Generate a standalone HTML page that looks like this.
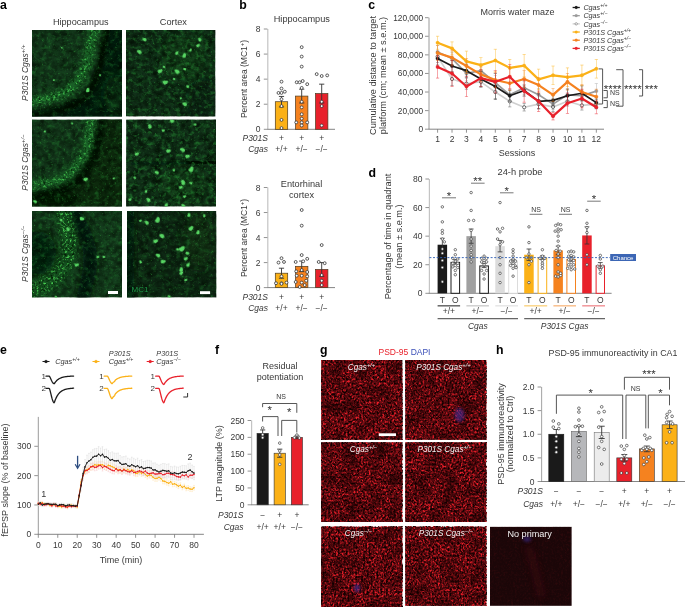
<!DOCTYPE html>
<html><head><meta charset="utf-8"><title>Figure</title>
<style>
html,body{margin:0;padding:0;background:#fff;}
svg{display:block;font-family:"Liberation Sans", sans-serif;}
</style></head><body>
<svg width="685" height="607" viewBox="0 0 685 607">
<rect width="685" height="607" fill="#fff"/>
<defs>
<filter id="gn0" x="0" y="0" width="100%" height="100%" color-interpolation-filters="sRGB">
<feTurbulence type="fractalNoise" baseFrequency="0.13" numOctaves="2" seed="3" result="m"/>
<feTurbulence type="fractalNoise" baseFrequency="0.45" numOctaves="2" seed="4" result="t"/>
<feColorMatrix in="m" type="matrix" values="0 0 0 0 0  0 0 0 0 0.04  0 0 0 0 0  0 2.6 0 0 -1.05" result="md"/>
<feColorMatrix in="m" type="matrix" values="0 0 0 0 0.12  0 0 0 0 0.46  0 0 0 0 0.18  1.7 0 0 0 -0.9" result="mb"/>
<feColorMatrix in="t" type="matrix" values="0 0 0 0 0.25  0 0 0 0 0.82  0 0 0 0 0.3  3.0 0 0 0 -2.0" result="br"/>
<feMerge><feMergeNode in="md"/><feMergeNode in="mb"/><feMergeNode in="br"/></feMerge>
</filter>
<filter id="gn1" x="0" y="0" width="100%" height="100%" color-interpolation-filters="sRGB">
<feTurbulence type="fractalNoise" baseFrequency="0.13" numOctaves="2" seed="11" result="m"/>
<feTurbulence type="fractalNoise" baseFrequency="0.45" numOctaves="2" seed="12" result="t"/>
<feColorMatrix in="m" type="matrix" values="0 0 0 0 0  0 0 0 0 0.04  0 0 0 0 0  0 2.6 0 0 -1.05" result="md"/>
<feColorMatrix in="m" type="matrix" values="0 0 0 0 0.12  0 0 0 0 0.46  0 0 0 0 0.18  1.7 0 0 0 -0.9" result="mb"/>
<feColorMatrix in="t" type="matrix" values="0 0 0 0 0.25  0 0 0 0 0.82  0 0 0 0 0.3  3.0 0 0 0 -2.0" result="br"/>
<feMerge><feMergeNode in="md"/><feMergeNode in="mb"/><feMergeNode in="br"/></feMerge>
</filter>
<filter id="gn2" x="0" y="0" width="100%" height="100%" color-interpolation-filters="sRGB">
<feTurbulence type="fractalNoise" baseFrequency="0.13" numOctaves="2" seed="23" result="m"/>
<feTurbulence type="fractalNoise" baseFrequency="0.45" numOctaves="2" seed="24" result="t"/>
<feColorMatrix in="m" type="matrix" values="0 0 0 0 0  0 0 0 0 0.04  0 0 0 0 0  0 2.6 0 0 -1.05" result="md"/>
<feColorMatrix in="m" type="matrix" values="0 0 0 0 0.12  0 0 0 0 0.46  0 0 0 0 0.18  1.7 0 0 0 -0.9" result="mb"/>
<feColorMatrix in="t" type="matrix" values="0 0 0 0 0.25  0 0 0 0 0.82  0 0 0 0 0.3  3.0 0 0 0 -2.0" result="br"/>
<feMerge><feMergeNode in="md"/><feMergeNode in="mb"/><feMergeNode in="br"/></feMerge>
</filter>
<filter id="gn3" x="0" y="0" width="100%" height="100%" color-interpolation-filters="sRGB">
<feTurbulence type="fractalNoise" baseFrequency="0.13" numOctaves="2" seed="31" result="m"/>
<feTurbulence type="fractalNoise" baseFrequency="0.45" numOctaves="2" seed="32" result="t"/>
<feColorMatrix in="m" type="matrix" values="0 0 0 0 0  0 0 0 0 0.04  0 0 0 0 0  0 2.6 0 0 -1.05" result="md"/>
<feColorMatrix in="m" type="matrix" values="0 0 0 0 0.12  0 0 0 0 0.46  0 0 0 0 0.18  1.7 0 0 0 -0.9" result="mb"/>
<feColorMatrix in="t" type="matrix" values="0 0 0 0 0.25  0 0 0 0 0.82  0 0 0 0 0.3  3.0 0 0 0 -2.0" result="br"/>
<feMerge><feMergeNode in="md"/><feMergeNode in="mb"/><feMergeNode in="br"/></feMerge>
</filter>
<filter id="gn4" x="0" y="0" width="100%" height="100%" color-interpolation-filters="sRGB">
<feTurbulence type="fractalNoise" baseFrequency="0.13" numOctaves="2" seed="47" result="m"/>
<feTurbulence type="fractalNoise" baseFrequency="0.45" numOctaves="2" seed="48" result="t"/>
<feColorMatrix in="m" type="matrix" values="0 0 0 0 0  0 0 0 0 0.04  0 0 0 0 0  0 2.6 0 0 -1.05" result="md"/>
<feColorMatrix in="m" type="matrix" values="0 0 0 0 0.12  0 0 0 0 0.46  0 0 0 0 0.18  1.7 0 0 0 -0.9" result="mb"/>
<feColorMatrix in="t" type="matrix" values="0 0 0 0 0.25  0 0 0 0 0.82  0 0 0 0 0.3  3.0 0 0 0 -2.0" result="br"/>
<feMerge><feMergeNode in="md"/><feMergeNode in="mb"/><feMergeNode in="br"/></feMerge>
</filter>
<filter id="gn5" x="0" y="0" width="100%" height="100%" color-interpolation-filters="sRGB">
<feTurbulence type="fractalNoise" baseFrequency="0.13" numOctaves="2" seed="59" result="m"/>
<feTurbulence type="fractalNoise" baseFrequency="0.45" numOctaves="2" seed="60" result="t"/>
<feColorMatrix in="m" type="matrix" values="0 0 0 0 0  0 0 0 0 0.04  0 0 0 0 0  0 2.6 0 0 -1.05" result="md"/>
<feColorMatrix in="m" type="matrix" values="0 0 0 0 0.12  0 0 0 0 0.46  0 0 0 0 0.18  1.7 0 0 0 -0.9" result="mb"/>
<feColorMatrix in="t" type="matrix" values="0 0 0 0 0.25  0 0 0 0 0.82  0 0 0 0 0.3  3.0 0 0 0 -2.0" result="br"/>
<feMerge><feMergeNode in="md"/><feMergeNode in="mb"/><feMergeNode in="br"/></feMerge>
</filter>
<filter id="bg0" filterUnits="userSpaceOnUse" x="-20" y="-20" width="130" height="130" color-interpolation-filters="sRGB">
<feGaussianBlur in="SourceGraphic" stdDeviation="2.6" result="b"/>
<feTurbulence type="fractalNoise" baseFrequency="0.42" numOctaves="2" seed="71" result="t"/>
<feColorMatrix in="t" type="matrix" values="0 0 0 0 0.28  0 0 0 0 0.80  0 0 0 0 0.32  3.8 0 0 0 -2.0" result="g"/>
<feColorMatrix in="t" type="matrix" values="0 0 0 0 0  0 0 0 0 0.08  0 0 0 0 0  0 3.0 0 0 -1.55" result="gd"/>
<feComposite in="g" in2="b" operator="in" result="gb"/>
<feComposite in="gd" in2="b" operator="in" result="gdb"/>
<feComponentTransfer in="b" result="bs"><feFuncA type="linear" slope="0.6"/></feComponentTransfer>
<feMerge><feMergeNode in="bs"/><feMergeNode in="gdb"/><feMergeNode in="gb"/></feMerge>
</filter>
<filter id="bg1" filterUnits="userSpaceOnUse" x="-20" y="-20" width="130" height="130" color-interpolation-filters="sRGB">
<feGaussianBlur in="SourceGraphic" stdDeviation="2.6" result="b"/>
<feTurbulence type="fractalNoise" baseFrequency="0.42" numOctaves="2" seed="83" result="t"/>
<feColorMatrix in="t" type="matrix" values="0 0 0 0 0.28  0 0 0 0 0.80  0 0 0 0 0.32  3.8 0 0 0 -2.0" result="g"/>
<feColorMatrix in="t" type="matrix" values="0 0 0 0 0  0 0 0 0 0.08  0 0 0 0 0  0 3.0 0 0 -1.55" result="gd"/>
<feComposite in="g" in2="b" operator="in" result="gb"/>
<feComposite in="gd" in2="b" operator="in" result="gdb"/>
<feComponentTransfer in="b" result="bs"><feFuncA type="linear" slope="0.6"/></feComponentTransfer>
<feMerge><feMergeNode in="bs"/><feMergeNode in="gdb"/><feMergeNode in="gb"/></feMerge>
</filter>
<filter id="bg2" filterUnits="userSpaceOnUse" x="-20" y="-20" width="130" height="130" color-interpolation-filters="sRGB">
<feGaussianBlur in="SourceGraphic" stdDeviation="2.6" result="b"/>
<feTurbulence type="fractalNoise" baseFrequency="0.42" numOctaves="2" seed="97" result="t"/>
<feColorMatrix in="t" type="matrix" values="0 0 0 0 0.28  0 0 0 0 0.80  0 0 0 0 0.32  3.8 0 0 0 -2.0" result="g"/>
<feColorMatrix in="t" type="matrix" values="0 0 0 0 0  0 0 0 0 0.08  0 0 0 0 0  0 3.0 0 0 -1.55" result="gd"/>
<feComposite in="g" in2="b" operator="in" result="gb"/>
<feComposite in="gd" in2="b" operator="in" result="gdb"/>
<feComponentTransfer in="b" result="bs"><feFuncA type="linear" slope="0.6"/></feComponentTransfer>
<feMerge><feMergeNode in="bs"/><feMergeNode in="gdb"/><feMergeNode in="gb"/></feMerge>
</filter>
<filter id="rn0" x="0" y="0" width="100%" height="100%" color-interpolation-filters="sRGB">
<feTurbulence type="fractalNoise" baseFrequency="0.52 0.47" numOctaves="2" seed="5" result="t"/>
<feTurbulence type="fractalNoise" baseFrequency="0.07" numOctaves="2" seed="6" result="lo"/>
<feColorMatrix in="t" type="matrix" values="0 0 0 0 0.93  0 0 0 0 0.12  0 0 0 0 0.16  3.4 0 0 0 -1.45" result="br"/>
<feColorMatrix in="t" type="matrix" values="0 0 0 0 0.06  0 0 0 0 0  0 0 0 0 0  0 3.2 0 0 -1.35" result="dk"/>
<feColorMatrix in="lo" type="matrix" values="0 0 0 0 0.08  0 0 0 0 0  0 0 0 0 0  0 0 1.4 0 -0.55" result="lod"/>
<feMerge><feMergeNode in="br"/><feMergeNode in="dk"/><feMergeNode in="lod"/></feMerge>
</filter>
<filter id="rn1" x="0" y="0" width="100%" height="100%" color-interpolation-filters="sRGB">
<feTurbulence type="fractalNoise" baseFrequency="0.52 0.47" numOctaves="2" seed="13" result="t"/>
<feTurbulence type="fractalNoise" baseFrequency="0.07" numOctaves="2" seed="14" result="lo"/>
<feColorMatrix in="t" type="matrix" values="0 0 0 0 0.93  0 0 0 0 0.12  0 0 0 0 0.16  3.4 0 0 0 -1.45" result="br"/>
<feColorMatrix in="t" type="matrix" values="0 0 0 0 0.06  0 0 0 0 0  0 0 0 0 0  0 3.2 0 0 -1.35" result="dk"/>
<feColorMatrix in="lo" type="matrix" values="0 0 0 0 0.08  0 0 0 0 0  0 0 0 0 0  0 0 1.4 0 -0.55" result="lod"/>
<feMerge><feMergeNode in="br"/><feMergeNode in="dk"/><feMergeNode in="lod"/></feMerge>
</filter>
<filter id="rn2" x="0" y="0" width="100%" height="100%" color-interpolation-filters="sRGB">
<feTurbulence type="fractalNoise" baseFrequency="0.52 0.47" numOctaves="2" seed="29" result="t"/>
<feTurbulence type="fractalNoise" baseFrequency="0.07" numOctaves="2" seed="30" result="lo"/>
<feColorMatrix in="t" type="matrix" values="0 0 0 0 0.93  0 0 0 0 0.12  0 0 0 0 0.16  3.4 0 0 0 -1.45" result="br"/>
<feColorMatrix in="t" type="matrix" values="0 0 0 0 0.06  0 0 0 0 0  0 0 0 0 0  0 3.2 0 0 -1.35" result="dk"/>
<feColorMatrix in="lo" type="matrix" values="0 0 0 0 0.08  0 0 0 0 0  0 0 0 0 0  0 0 1.4 0 -0.55" result="lod"/>
<feMerge><feMergeNode in="br"/><feMergeNode in="dk"/><feMergeNode in="lod"/></feMerge>
</filter>
<filter id="rn3" x="0" y="0" width="100%" height="100%" color-interpolation-filters="sRGB">
<feTurbulence type="fractalNoise" baseFrequency="0.52 0.47" numOctaves="2" seed="37" result="t"/>
<feTurbulence type="fractalNoise" baseFrequency="0.07" numOctaves="2" seed="38" result="lo"/>
<feColorMatrix in="t" type="matrix" values="0 0 0 0 0.93  0 0 0 0 0.12  0 0 0 0 0.16  3.4 0 0 0 -1.45" result="br"/>
<feColorMatrix in="t" type="matrix" values="0 0 0 0 0.06  0 0 0 0 0  0 0 0 0 0  0 3.2 0 0 -1.35" result="dk"/>
<feColorMatrix in="lo" type="matrix" values="0 0 0 0 0.08  0 0 0 0 0  0 0 0 0 0  0 0 1.4 0 -0.55" result="lod"/>
<feMerge><feMergeNode in="br"/><feMergeNode in="dk"/><feMergeNode in="lod"/></feMerge>
</filter>
<filter id="rn4" x="0" y="0" width="100%" height="100%" color-interpolation-filters="sRGB">
<feTurbulence type="fractalNoise" baseFrequency="0.52 0.47" numOctaves="2" seed="41" result="t"/>
<feTurbulence type="fractalNoise" baseFrequency="0.07" numOctaves="2" seed="42" result="lo"/>
<feColorMatrix in="t" type="matrix" values="0 0 0 0 0.93  0 0 0 0 0.12  0 0 0 0 0.16  3.4 0 0 0 -1.45" result="br"/>
<feColorMatrix in="t" type="matrix" values="0 0 0 0 0.06  0 0 0 0 0  0 0 0 0 0  0 3.2 0 0 -1.35" result="dk"/>
<feColorMatrix in="lo" type="matrix" values="0 0 0 0 0.08  0 0 0 0 0  0 0 0 0 0  0 0 1.4 0 -0.55" result="lod"/>
<feMerge><feMergeNode in="br"/><feMergeNode in="dk"/><feMergeNode in="lod"/></feMerge>
</filter>
<filter id="rn5" x="0" y="0" width="100%" height="100%" color-interpolation-filters="sRGB">
<feTurbulence type="fractalNoise" baseFrequency="0.52 0.47" numOctaves="2" seed="53" result="t"/>
<feTurbulence type="fractalNoise" baseFrequency="0.07" numOctaves="2" seed="54" result="lo"/>
<feColorMatrix in="t" type="matrix" values="0 0 0 0 0.93  0 0 0 0 0.12  0 0 0 0 0.16  3.4 0 0 0 -1.45" result="br"/>
<feColorMatrix in="t" type="matrix" values="0 0 0 0 0.06  0 0 0 0 0  0 0 0 0 0  0 3.2 0 0 -1.35" result="dk"/>
<feColorMatrix in="lo" type="matrix" values="0 0 0 0 0.08  0 0 0 0 0  0 0 0 0 0  0 0 1.4 0 -0.55" result="lod"/>
<feMerge><feMergeNode in="br"/><feMergeNode in="dk"/><feMergeNode in="lod"/></feMerge>
</filter>
<filter id="rn6" x="0" y="0" width="100%" height="100%" color-interpolation-filters="sRGB">
<feTurbulence type="fractalNoise" baseFrequency="0.52 0.47" numOctaves="2" seed="61" result="t"/>
<feTurbulence type="fractalNoise" baseFrequency="0.07" numOctaves="2" seed="62" result="lo"/>
<feColorMatrix in="t" type="matrix" values="0 0 0 0 0.93  0 0 0 0 0.12  0 0 0 0 0.16  3.4 0 0 0 -1.45" result="br"/>
<feColorMatrix in="t" type="matrix" values="0 0 0 0 0.06  0 0 0 0 0  0 0 0 0 0  0 3.2 0 0 -1.35" result="dk"/>
<feColorMatrix in="lo" type="matrix" values="0 0 0 0 0.08  0 0 0 0 0  0 0 0 0 0  0 0 1.4 0 -0.55" result="lod"/>
<feMerge><feMergeNode in="br"/><feMergeNode in="dk"/><feMergeNode in="lod"/></feMerge>
</filter>
<filter id="bl3" filterUnits="userSpaceOnUse" x="-60" y="-60" width="220" height="220"><feGaussianBlur stdDeviation="3"/></filter>
<filter id="bl5" filterUnits="userSpaceOnUse" x="-60" y="-60" width="220" height="220"><feGaussianBlur stdDeviation="5"/></filter>
<filter id="bl1" filterUnits="userSpaceOnUse" x="-60" y="-60" width="220" height="220"><feGaussianBlur stdDeviation="0.7"/></filter>
<filter id="bl2" filterUnits="userSpaceOnUse" x="-60" y="-60" width="220" height="220"><feGaussianBlur stdDeviation="1.6"/></filter>
<filter id="ab3" filterUnits="userSpaceOnUse" x="300" y="340" width="300" height="280"><feGaussianBlur stdDeviation="3"/></filter>
<filter id="ab2" filterUnits="userSpaceOnUse" x="300" y="340" width="300" height="280"><feGaussianBlur stdDeviation="1.6"/></filter>
<filter id="cn0" x="0" y="0" width="100%" height="100%" color-interpolation-filters="sRGB">
<feTurbulence type="fractalNoise" baseFrequency="0.21 0.24" numOctaves="3" seed="101" result="m"/>
<feColorMatrix in="m" type="matrix" values="0 0 0 0 0  0 0 0 0 0.04  0 0 0 0 0  0 3.2 0 0 -1.3" result="md"/>
<feColorMatrix in="m" type="matrix" values="0 0 0 0 0.16  0 0 0 0 0.60  0 0 0 0 0.22  3.4 0 0 0 -1.75" result="mb"/>
<feMerge><feMergeNode in="md"/><feMergeNode in="mb"/></feMerge>
</filter>
<filter id="cn1" x="0" y="0" width="100%" height="100%" color-interpolation-filters="sRGB">
<feTurbulence type="fractalNoise" baseFrequency="0.21 0.24" numOctaves="3" seed="113" result="m"/>
<feColorMatrix in="m" type="matrix" values="0 0 0 0 0  0 0 0 0 0.04  0 0 0 0 0  0 3.2 0 0 -1.3" result="md"/>
<feColorMatrix in="m" type="matrix" values="0 0 0 0 0.16  0 0 0 0 0.60  0 0 0 0 0.22  3.4 0 0 0 -1.75" result="mb"/>
<feMerge><feMergeNode in="md"/><feMergeNode in="mb"/></feMerge>
</filter>
<filter id="cn2" x="0" y="0" width="100%" height="100%" color-interpolation-filters="sRGB">
<feTurbulence type="fractalNoise" baseFrequency="0.21 0.24" numOctaves="3" seed="127" result="m"/>
<feColorMatrix in="m" type="matrix" values="0 0 0 0 0  0 0 0 0 0.04  0 0 0 0 0  0 3.2 0 0 -1.3" result="md"/>
<feColorMatrix in="m" type="matrix" values="0 0 0 0 0.16  0 0 0 0 0.60  0 0 0 0 0.22  3.4 0 0 0 -1.75" result="mb"/>
<feMerge><feMergeNode in="md"/><feMergeNode in="mb"/></feMerge>
</filter>
</defs>
<text x="0.1" y="9.0" font-size="12.3" text-anchor="start" fill="#000" font-weight="bold">a</text>
<text x="80.8" y="25" font-size="9.15" text-anchor="middle" fill="#383838">Hippocampus</text>
<text x="173.4" y="25" font-size="9.2" text-anchor="middle" fill="#383838">Cortex</text>
<text x="27.5" y="72.75" font-size="8.5" text-anchor="middle" fill="#383838" font-style="italic" transform="rotate(-90 27.5 72.75)">P301S Cgas<tspan dy="-3" font-size="70%">+/+</tspan></text>
<text x="27.5" y="162.5" font-size="8.5" text-anchor="middle" fill="#383838" font-style="italic" transform="rotate(-90 27.5 162.5)">P301S Cgas<tspan dy="-3" font-size="70%">+/−</tspan></text>
<text x="27.5" y="253.75" font-size="8.5" text-anchor="middle" fill="#383838" font-style="italic" transform="rotate(-90 27.5 253.75)">P301S Cgas<tspan dy="-3" font-size="70%">−/−</tspan></text>
<clipPath id="ca00"><rect x="32" y="30" width="90" height="86.5"/></clipPath>
<g clip-path="url(#ca00)">
<rect x="32.00" y="30.00" width="90.00" height="86.50" fill="#14391c"/>
<g transform="translate(32,30)">
<path d="M-5,95 L-5,82 C20,80 40,74 52,64 C62,54 66,42 69,30 C71,20 73,8 76,-5 L95,-5 L95,95 Z" fill="#051d09" filter="url(#bl3)"/>
<path d="M-5,86 C20,84 40,78 52,68 C62,58 66,45 69,32 C71,20 73,8 76,-5" fill="none" stroke="#020e04" stroke-width="7" filter="url(#bl2)" opacity="0.9"/>
<ellipse cx="84" cy="66" rx="12" ry="20" fill="#0c3414" filter="url(#bl5)" opacity="0.8"/>
</g>
<rect x="32" y="30" width="90" height="86.5" filter="url(#gn0)" opacity="0.5"/>
<rect x="32" y="30" width="90" height="86.5" filter="url(#cn1)" opacity="0.28"/>
<g transform="translate(32,30)">
<g filter="url(#bg0)"><path d="M-5,72 C12,70 26,67 36,61 C45,54 50,46 53,38 C56,28 59,14 64,-5" fill="none" stroke="#1f8030" stroke-width="9"/></g>
<g filter="url(#bl1)" fill="#58d663" transform="rotate(82 56 60)"><ellipse cx="56" cy="60" rx="2.23" ry="1.46"/><ellipse cx="56.86" cy="60.69" rx="1.37" ry="1.54"/></g>
<g filter="url(#bl1)" fill="#58d663" transform="rotate(38 68 45)"><ellipse cx="68" cy="45" rx="1.22" ry="0.80"/><ellipse cx="68.47" cy="45.37" rx="0.75" ry="0.84"/></g>
<g filter="url(#bl1)" fill="#58d663" transform="rotate(101 22 50)"><ellipse cx="22" cy="50" rx="1.01" ry="0.66"/><ellipse cx="22.39" cy="50.31" rx="0.62" ry="0.70"/></g>
<g filter="url(#bl1)" fill="#58d663" transform="rotate(166 30 18)"><ellipse cx="30" cy="18" rx="0.91" ry="0.60"/><ellipse cx="30.35" cy="18.28" rx="0.56" ry="0.63"/></g>
</g>
</g>
<clipPath id="ca01"><rect x="126" y="30" width="89.4" height="86.5"/></clipPath>
<g clip-path="url(#ca01)">
<rect x="126.00" y="30.00" width="89.40" height="86.50" fill="#113019"/>
<g transform="translate(126,30)">
<ellipse cx="58" cy="28" rx="24" ry="24" fill="#17471f" filter="url(#bl5)" opacity="0.8"/>
<ellipse cx="78" cy="70" rx="16" ry="20" fill="#0c2613" filter="url(#bl5)" opacity="0.8"/>
</g>
<rect x="126" y="30" width="89.4" height="86.5" filter="url(#gn1)" opacity="0.55"/>
<rect x="126" y="30" width="89.4" height="86.5" filter="url(#cn0)" opacity="0.42"/>
<g transform="translate(126,30)">
<g filter="url(#bl1)" fill="#58d663" transform="rotate(12 18.5 9.4)"><ellipse cx="18.5" cy="9.4" rx="2.03" ry="1.33"/><ellipse cx="19.28" cy="10.02" rx="1.25" ry="1.40"/></g>
<g filter="url(#bl1)" fill="#58d663" transform="rotate(18 13.2 21.5)"><ellipse cx="13.2" cy="21.5" rx="2.43" ry="1.59"/><ellipse cx="14.14" cy="22.25" rx="1.50" ry="1.68"/></g>
<g filter="url(#bl1)" fill="#58d663" transform="rotate(137 34.4 41.2)"><ellipse cx="34.4" cy="41.2" rx="2.43" ry="1.59"/><ellipse cx="35.34" cy="41.95" rx="1.50" ry="1.68"/></g>
<g filter="url(#bl1)" fill="#58d663" transform="rotate(24 51 41.2)"><ellipse cx="51" cy="41.2" rx="2.64" ry="1.72"/><ellipse cx="52.01" cy="42.01" rx="1.62" ry="1.83"/></g>
<g filter="url(#bl1)" fill="#58d663" transform="rotate(93 58.6 25.3)"><ellipse cx="58.6" cy="25.3" rx="2.43" ry="1.59"/><ellipse cx="59.54" cy="26.05" rx="1.50" ry="1.68"/></g>
<g filter="url(#bl1)" fill="#58d663" transform="rotate(149 39.7 52.6)"><ellipse cx="39.7" cy="52.6" rx="2.64" ry="1.72"/><ellipse cx="40.71" cy="53.41" rx="1.62" ry="1.83"/></g>
<g filter="url(#bl1)" fill="#58d663" transform="rotate(14 58.6 73.8)"><ellipse cx="58.6" cy="73.8" rx="2.43" ry="1.59"/><ellipse cx="59.54" cy="74.55" rx="1.50" ry="1.68"/></g>
<g filter="url(#bl1)" fill="#58d663" transform="rotate(129 72.3 15.5)"><ellipse cx="72.3" cy="15.5" rx="2.03" ry="1.33"/><ellipse cx="73.08" cy="16.12" rx="1.25" ry="1.40"/></g>
<g filter="url(#bl1)" fill="#58d663" transform="rotate(54 73.8 9.4)"><ellipse cx="73.8" cy="9.4" rx="1.83" ry="1.19"/><ellipse cx="74.50" cy="9.96" rx="1.12" ry="1.26"/></g>
<g filter="url(#bl1)" fill="#58d663" transform="rotate(9 58.6 39)"><ellipse cx="58.6" cy="39" rx="1.62" ry="1.06"/><ellipse cx="59.22" cy="39.50" rx="1.00" ry="1.12"/></g>
<g filter="url(#bl1)" fill="#58d663" transform="rotate(22 61.7 56.4)"><ellipse cx="61.7" cy="56.4" rx="1.62" ry="1.06"/><ellipse cx="62.32" cy="56.90" rx="1.00" ry="1.12"/></g>
<g filter="url(#bl1)" fill="#58d663" transform="rotate(111 51 23)"><ellipse cx="51" cy="23" rx="1.83" ry="1.19"/><ellipse cx="51.70" cy="23.56" rx="1.12" ry="1.26"/></g>
<g filter="url(#bl1)" fill="#58d663" transform="rotate(107 64.7 20)"><ellipse cx="64.7" cy="20" rx="1.62" ry="1.06"/><ellipse cx="65.32" cy="20.50" rx="1.00" ry="1.12"/></g>
<g filter="url(#bl1)" fill="#58d663" transform="rotate(17 48 48.8)"><ellipse cx="48" cy="48.8" rx="1.32" ry="0.86"/><ellipse cx="48.51" cy="49.21" rx="0.81" ry="0.91"/></g>
<g filter="url(#bl1)" fill="#58d663" transform="rotate(61 54.8 68)"><ellipse cx="54.8" cy="68" rx="1.22" ry="0.80"/><ellipse cx="55.27" cy="68.37" rx="0.75" ry="0.84"/></g>
<g filter="url(#bl1)" fill="#58d663" transform="rotate(23 38 36.7)"><ellipse cx="38" cy="36.7" rx="1.42" ry="0.93"/><ellipse cx="38.55" cy="37.14" rx="0.87" ry="0.98"/></g>
</g>
</g>
<clipPath id="ca10"><rect x="32" y="119.4" width="90" height="87.2"/></clipPath>
<g clip-path="url(#ca10)">
<rect x="32.00" y="119.40" width="90.00" height="87.20" fill="#14391c"/>
<g transform="translate(32,119.4)">
<path d="M-5,95 L-5,74 C15,73 35,68 45,58 C55,48 60,38 63,25 C65,15 66,5 67,-5 L95,-5 L95,95 Z" fill="#082a0f" filter="url(#bl3)"/>
<path d="M-5,78 C15,77 35,72 46,62 C56,52 62,40 66,25 C68,15 70,5 71,-5" fill="none" stroke="#020e04" stroke-width="8" filter="url(#bl2)" opacity="0.85"/>
<ellipse cx="22" cy="80" rx="26" ry="6" fill="#031206" filter="url(#bl3)" opacity="0.9"/>
</g>
<rect x="32" y="119.4" width="90" height="87.2" filter="url(#gn2)" opacity="0.5"/>
<rect x="32" y="119.4" width="90" height="87.2" filter="url(#cn2)" opacity="0.28"/>
<g transform="translate(32,119.4)">
<g filter="url(#bg1)"><path d="M-5,66 C12,65 24,63 32,58 C42,51 50,40 54,30 C57,20 58,8 59,-5" fill="none" stroke="#1f8030" stroke-width="8"/></g>
<g filter="url(#bl1)" fill="#58d663" transform="rotate(141 54 60)"><ellipse cx="54" cy="60" rx="2.23" ry="1.46"/><ellipse cx="54.86" cy="60.69" rx="1.37" ry="1.54"/></g>
<g filter="url(#bl1)" fill="#58d663" transform="rotate(108 13 12)"><ellipse cx="13" cy="12" rx="1.22" ry="0.80"/><ellipse cx="13.47" cy="12.37" rx="0.75" ry="0.84"/></g>
<g filter="url(#bl1)" fill="#58d663" transform="rotate(15 3 82)"><ellipse cx="3" cy="82" rx="1.83" ry="1.19"/><ellipse cx="3.70" cy="82.56" rx="1.12" ry="1.26"/></g>
<g filter="url(#bl1)" fill="#58d663" transform="rotate(144 82 59)"><ellipse cx="82" cy="59" rx="1.22" ry="0.80"/><ellipse cx="82.47" cy="59.37" rx="0.75" ry="0.84"/></g>
<g filter="url(#bl1)" fill="#58d663" transform="rotate(31 40 4)"><ellipse cx="40" cy="4" rx="1.01" ry="0.66"/><ellipse cx="40.39" cy="4.31" rx="0.62" ry="0.70"/></g>
</g>
</g>
<clipPath id="ca11"><rect x="126.1" y="119.4" width="89.9" height="87.2"/></clipPath>
<g clip-path="url(#ca11)">
<rect x="126.10" y="119.40" width="89.90" height="87.20" fill="#12331a"/>
<g transform="translate(126.1,119.4)">
<path d="M60,43 L95,43" stroke="#020d05" stroke-width="3" filter="url(#bl1)" fill="none"/>
<path d="M5,44 L62,43.5" stroke="#061c0b" stroke-width="3" filter="url(#bl2)" fill="none" opacity="0.8"/>
<ellipse cx="58" cy="66" rx="26" ry="18" fill="#17471f" filter="url(#bl5)" opacity="0.7"/>
</g>
<rect x="126.1" y="119.4" width="89.9" height="87.2" filter="url(#gn3)" opacity="0.55"/>
<rect x="126.1" y="119.4" width="89.9" height="87.2" filter="url(#cn1)" opacity="0.48"/>
<g transform="translate(126.1,119.4)">
<g filter="url(#bl1)" fill="#58d663" transform="rotate(57 23.8 6.7)"><ellipse cx="23.8" cy="6.7" rx="2.23" ry="1.46"/><ellipse cx="24.66" cy="7.39" rx="1.37" ry="1.54"/></g>
<g filter="url(#bl1)" fill="#58d663" transform="rotate(161 46.2 1.8)"><ellipse cx="46.2" cy="1.8" rx="2.23" ry="1.46"/><ellipse cx="47.06" cy="2.49" rx="1.37" ry="1.54"/></g>
<g filter="url(#bl1)" fill="#58d663" transform="rotate(160 37.4 11.2)"><ellipse cx="37.4" cy="11.2" rx="1.62" ry="1.06"/><ellipse cx="38.02" cy="11.70" rx="1.00" ry="1.12"/></g>
<g filter="url(#bl1)" fill="#58d663" transform="rotate(149 42.7 31.7)"><ellipse cx="42.7" cy="31.7" rx="2.23" ry="1.46"/><ellipse cx="43.56" cy="32.39" rx="1.37" ry="1.54"/></g>
<g filter="url(#bl1)" fill="#58d663" transform="rotate(15 56.4 30.2)"><ellipse cx="56.4" cy="30.2" rx="2.43" ry="1.59"/><ellipse cx="57.34" cy="30.95" rx="1.50" ry="1.68"/></g>
<g filter="url(#bl1)" fill="#58d663" transform="rotate(147 61.7 37)"><ellipse cx="61.7" cy="37" rx="2.23" ry="1.46"/><ellipse cx="62.56" cy="37.69" rx="1.37" ry="1.54"/></g>
<g filter="url(#bl1)" fill="#58d663" transform="rotate(149 10.9 34.7)"><ellipse cx="10.9" cy="34.7" rx="2.03" ry="1.33"/><ellipse cx="11.68" cy="35.32" rx="1.25" ry="1.40"/></g>
<g filter="url(#bl1)" fill="#58d663" transform="rotate(101 65.5 49.8)"><ellipse cx="65.5" cy="49.8" rx="2.84" ry="1.86"/><ellipse cx="66.59" cy="50.67" rx="1.75" ry="1.97"/></g>
<g filter="url(#bl1)" fill="#58d663" transform="rotate(12 30.6 52.9)"><ellipse cx="30.6" cy="52.9" rx="2.03" ry="1.33"/><ellipse cx="31.38" cy="53.52" rx="1.25" ry="1.40"/></g>
<g filter="url(#bl1)" fill="#58d663" transform="rotate(56 57.1 62.7)"><ellipse cx="57.1" cy="62.7" rx="2.64" ry="1.72"/><ellipse cx="58.11" cy="63.51" rx="1.62" ry="1.83"/></g>
<g filter="url(#bl1)" fill="#58d663" transform="rotate(11 64.7 63.5)"><ellipse cx="64.7" cy="63.5" rx="1.62" ry="1.06"/><ellipse cx="65.32" cy="64.00" rx="1.00" ry="1.12"/></g>
<g filter="url(#bl1)" fill="#58d663" transform="rotate(142 54.8 68)"><ellipse cx="54.8" cy="68" rx="1.83" ry="1.19"/><ellipse cx="55.50" cy="68.56" rx="1.12" ry="1.26"/></g>
<g filter="url(#bl1)" fill="#58d663" transform="rotate(34 22.3 80.2)"><ellipse cx="22.3" cy="80.2" rx="2.23" ry="1.46"/><ellipse cx="23.16" cy="80.89" rx="1.37" ry="1.54"/></g>
<g filter="url(#bl1)" fill="#58d663" transform="rotate(74 20 71.8)"><ellipse cx="20" cy="71.8" rx="1.62" ry="1.06"/><ellipse cx="20.62" cy="72.30" rx="1.00" ry="1.12"/></g>
<g filter="url(#bl1)" fill="#58d663" transform="rotate(107 40.5 85.5)"><ellipse cx="40.5" cy="85.5" rx="2.03" ry="1.33"/><ellipse cx="41.28" cy="86.12" rx="1.25" ry="1.40"/></g>
<g filter="url(#bl1)" fill="#58d663" transform="rotate(36 57.1 86.2)"><ellipse cx="57.1" cy="86.2" rx="2.03" ry="1.33"/><ellipse cx="57.88" cy="86.82" rx="1.25" ry="1.40"/></g>
<g filter="url(#bl1)" fill="#58d663" transform="rotate(138 4.1 80.2)"><ellipse cx="4.1" cy="80.2" rx="1.62" ry="1.06"/><ellipse cx="4.72" cy="80.70" rx="1.00" ry="1.12"/></g>
<g filter="url(#bl1)" fill="#58d663" transform="rotate(30 8.6 58.2)"><ellipse cx="8.6" cy="58.2" rx="1.42" ry="0.93"/><ellipse cx="9.15" cy="58.64" rx="0.87" ry="0.98"/></g>
<g filter="url(#bl1)" fill="#58d663" transform="rotate(146 69.2 5.2)"><ellipse cx="69.2" cy="5.2" rx="1.42" ry="0.93"/><ellipse cx="69.75" cy="5.64" rx="0.87" ry="0.98"/></g>
<g filter="url(#bl1)" fill="#58d663" transform="rotate(78 48 50.6)"><ellipse cx="48" cy="50.6" rx="1.42" ry="0.93"/><ellipse cx="48.55" cy="51.04" rx="0.87" ry="0.98"/></g>
<g filter="url(#bl1)" fill="#58d663" transform="rotate(143 58.6 77.1)"><ellipse cx="58.6" cy="77.1" rx="1.62" ry="1.06"/><ellipse cx="59.22" cy="77.60" rx="1.00" ry="1.12"/></g>
</g>
</g>
<clipPath id="ca20"><rect x="32" y="211" width="90" height="86.5"/></clipPath>
<g clip-path="url(#ca20)">
<rect x="32.00" y="211.00" width="90.00" height="86.50" fill="#153e1e"/>
<g transform="translate(32,211)">
<ellipse cx="6" cy="42" rx="18" ry="22" fill="#06220b" filter="url(#bl5)"/>
<path d="M40,-5 C46,10 56,25 58,42 C60,58 54,72 50,92" fill="none" stroke="#03160a" stroke-width="14" filter="url(#bl3)" opacity="0.95"/>
</g>
<rect x="32" y="211" width="90" height="86.5" filter="url(#gn4)" opacity="0.5"/>
<rect x="32" y="211" width="90" height="86.5" filter="url(#cn0)" opacity="0.28"/>
<g transform="translate(32,211)">
<g filter="url(#bg2)"><path d="M-5,82 C10,78 22,68 32,55 C40,44 38,28 34,14 C33,8 32,2 31,-5" fill="none" stroke="#14581f" stroke-width="16"/></g>
<g filter="url(#bl1)" fill="#58d663" transform="rotate(174 50 8)"><ellipse cx="50" cy="8" rx="2.23" ry="1.46"/><ellipse cx="50.86" cy="8.69" rx="1.37" ry="1.54"/></g>
<g filter="url(#bl1)" fill="#58d663" transform="rotate(46 36 18)"><ellipse cx="36" cy="18" rx="2.03" ry="1.33"/><ellipse cx="36.78" cy="18.62" rx="1.25" ry="1.40"/></g>
<g filter="url(#bl1)" fill="#58d663" transform="rotate(26 29 9)"><ellipse cx="29" cy="9" rx="1.52" ry="0.99"/><ellipse cx="29.59" cy="9.47" rx="0.94" ry="1.05"/></g>
<g filter="url(#bl1)" fill="#58d663" transform="rotate(148 45 54)"><ellipse cx="45" cy="54" rx="2.03" ry="1.33"/><ellipse cx="45.78" cy="54.62" rx="1.25" ry="1.40"/></g>
<g filter="url(#bl1)" fill="#58d663" transform="rotate(146 66 46)"><ellipse cx="66" cy="46" rx="1.42" ry="0.93"/><ellipse cx="66.55" cy="46.44" rx="0.87" ry="0.98"/></g>
<g filter="url(#bl1)" fill="#58d663" transform="rotate(163 72 46)"><ellipse cx="72" cy="46" rx="1.42" ry="0.93"/><ellipse cx="72.55" cy="46.44" rx="0.87" ry="0.98"/></g>
<g filter="url(#bl1)" fill="#58d663" transform="rotate(48 24 86)"><ellipse cx="24" cy="86" rx="1.62" ry="1.06"/><ellipse cx="24.62" cy="86.50" rx="1.00" ry="1.12"/></g>
</g>
</g>
<clipPath id="ca21"><rect x="127" y="211" width="89.4" height="86.5"/></clipPath>
<g clip-path="url(#ca21)">
<rect x="127.00" y="211.00" width="89.40" height="86.50" fill="#0e2714"/>
<g transform="translate(127,211)">
<rect x="-5" y="-5" width="12" height="100" fill="#051c09" filter="url(#bl3)"/>
<ellipse cx="72" cy="30" rx="16" ry="30" fill="#123619" filter="url(#bl5)" opacity="0.8"/>
</g>
<rect x="127" y="211" width="89.4" height="86.5" filter="url(#gn5)" opacity="0.55"/>
<rect x="127" y="211" width="89.4" height="86.5" filter="url(#cn2)" opacity="0.25"/>
<g transform="translate(127,211)">
<g filter="url(#bl1)" fill="#58d663" transform="rotate(95 31 8.8)"><ellipse cx="31" cy="8.8" rx="2.84" ry="1.86"/><ellipse cx="32.09" cy="9.67" rx="1.75" ry="1.97"/></g>
<g filter="url(#bl1)" fill="#58d663" transform="rotate(24 19.7 11.4)"><ellipse cx="19.7" cy="11.4" rx="2.23" ry="1.46"/><ellipse cx="20.56" cy="12.09" rx="1.37" ry="1.54"/></g>
<g filter="url(#bl1)" fill="#58d663" transform="rotate(140 13.6 9.8)"><ellipse cx="13.6" cy="9.8" rx="1.42" ry="0.93"/><ellipse cx="14.15" cy="10.24" rx="0.87" ry="0.98"/></g>
<g filter="url(#bl1)" fill="#58d663" transform="rotate(16 34.8 24.7)"><ellipse cx="34.8" cy="24.7" rx="2.64" ry="1.72"/><ellipse cx="35.81" cy="25.51" rx="1.62" ry="1.83"/></g>
<g filter="url(#bl1)" fill="#58d663" transform="rotate(144 29 30.3)"><ellipse cx="29" cy="30.3" rx="2.43" ry="1.59"/><ellipse cx="29.94" cy="31.05" rx="1.50" ry="1.68"/></g>
<g filter="url(#bl1)" fill="#58d663" transform="rotate(15 31 44.2)"><ellipse cx="31" cy="44.2" rx="2.23" ry="1.46"/><ellipse cx="31.86" cy="44.89" rx="1.37" ry="1.54"/></g>
<g filter="url(#bl1)" fill="#58d663" transform="rotate(158 36.4 50.8)"><ellipse cx="36.4" cy="50.8" rx="2.43" ry="1.59"/><ellipse cx="37.34" cy="51.55" rx="1.50" ry="1.68"/></g>
<g filter="url(#bl1)" fill="#58d663" transform="rotate(52 13.6 50.8)"><ellipse cx="13.6" cy="50.8" rx="1.62" ry="1.06"/><ellipse cx="14.22" cy="51.30" rx="1.00" ry="1.12"/></g>
<g filter="url(#bl1)" fill="#58d663" transform="rotate(127 55.3 37.9)"><ellipse cx="55.3" cy="37.9" rx="3.04" ry="1.99"/><ellipse cx="56.47" cy="38.84" rx="1.87" ry="2.11"/></g>
<g filter="url(#bl1)" fill="#58d663" transform="rotate(174 60.6 42.4)"><ellipse cx="60.6" cy="42.4" rx="1.83" ry="1.19"/><ellipse cx="61.30" cy="42.96" rx="1.12" ry="1.26"/></g>
<g filter="url(#bl1)" fill="#58d663" transform="rotate(136 59 47.7)"><ellipse cx="59" cy="47.7" rx="2.03" ry="1.33"/><ellipse cx="59.78" cy="48.32" rx="1.25" ry="1.40"/></g>
<g filter="url(#bl1)" fill="#58d663" transform="rotate(109 61.4 53.8)"><ellipse cx="61.4" cy="53.8" rx="2.03" ry="1.33"/><ellipse cx="62.18" cy="54.42" rx="1.25" ry="1.40"/></g>
<g filter="url(#bl1)" fill="#58d663" transform="rotate(80 54.5 58.3)"><ellipse cx="54.5" cy="58.3" rx="2.43" ry="1.59"/><ellipse cx="55.44" cy="59.05" rx="1.50" ry="1.68"/></g>
<g filter="url(#bl1)" fill="#58d663" transform="rotate(119 54.5 62.1)"><ellipse cx="54.5" cy="62.1" rx="2.03" ry="1.33"/><ellipse cx="55.28" cy="62.72" rx="1.25" ry="1.40"/></g>
<g filter="url(#bl1)" fill="#58d663" transform="rotate(149 59 69)"><ellipse cx="59" cy="69" rx="1.62" ry="1.06"/><ellipse cx="59.62" cy="69.50" rx="1.00" ry="1.12"/></g>
<g filter="url(#bl1)" fill="#58d663" transform="rotate(116 64.4 17.4)"><ellipse cx="64.4" cy="17.4" rx="2.64" ry="1.72"/><ellipse cx="65.41" cy="18.21" rx="1.62" ry="1.83"/></g>
<g filter="url(#bl1)" fill="#58d663" transform="rotate(92 71.2 21.2)"><ellipse cx="71.2" cy="21.2" rx="2.03" ry="1.33"/><ellipse cx="71.98" cy="21.82" rx="1.25" ry="1.40"/></g>
<g filter="url(#bl1)" fill="#58d663" transform="rotate(76 62.1 3.8)"><ellipse cx="62.1" cy="3.8" rx="2.03" ry="1.33"/><ellipse cx="62.88" cy="4.42" rx="1.25" ry="1.40"/></g>
<g filter="url(#bl1)" fill="#58d663" transform="rotate(63 77.3 4.5)"><ellipse cx="77.3" cy="4.5" rx="1.62" ry="1.06"/><ellipse cx="77.92" cy="5.00" rx="1.00" ry="1.12"/></g>
<g filter="url(#bl1)" fill="#58d663" transform="rotate(46 42.4 85.6)"><ellipse cx="42.4" cy="85.6" rx="1.83" ry="1.19"/><ellipse cx="43.10" cy="86.16" rx="1.12" ry="1.26"/></g>
<g filter="url(#bl1)" fill="#58d663" transform="rotate(178 50.8 38.6)"><ellipse cx="50.8" cy="38.6" rx="1.62" ry="1.06"/><ellipse cx="51.42" cy="39.10" rx="1.00" ry="1.12"/></g>
</g>
</g>
<rect x="108.00" y="291.00" width="10.00" height="3.00" fill="#fff"/>
<rect x="200.00" y="291.20" width="10.10" height="2.90" fill="#fff"/>
<text x="131.5" y="292" font-size="8" text-anchor="start" fill="#1e9a48">MC1</text>
<text x="239.3" y="9.0" font-size="12.3" text-anchor="start" fill="#000" font-weight="bold">b</text>
<line x1="267.80" y1="29.00" x2="267.80" y2="129.30" stroke="#c4c4c4" stroke-width="1.2"/>
<line x1="267.20" y1="129.30" x2="335.00" y2="129.30" stroke="#777" stroke-width="0.9"/>
<line x1="263.80" y1="129.30" x2="267.40" y2="129.30" stroke="#777" stroke-width="0.8"/>
<text x="260.5" y="132.3" font-size="8.5" text-anchor="end" fill="#383838">0</text>
<line x1="263.80" y1="104.23" x2="267.40" y2="104.23" stroke="#777" stroke-width="0.8"/>
<text x="260.5" y="107.22500000000001" font-size="8.5" text-anchor="end" fill="#383838">2</text>
<line x1="263.80" y1="79.15" x2="267.40" y2="79.15" stroke="#777" stroke-width="0.8"/>
<text x="260.5" y="82.15" font-size="8.5" text-anchor="end" fill="#383838">4</text>
<line x1="263.80" y1="54.08" x2="267.40" y2="54.08" stroke="#777" stroke-width="0.8"/>
<text x="260.5" y="57.075" font-size="8.5" text-anchor="end" fill="#383838">6</text>
<line x1="263.80" y1="29.00" x2="267.40" y2="29.00" stroke="#777" stroke-width="0.8"/>
<text x="260.5" y="32.0" font-size="8.5" text-anchor="end" fill="#383838">8</text>
<text x="301.8" y="21.7" font-size="9.2" text-anchor="middle" fill="#383838">Hippocampus</text>
<text x="247" y="79" font-size="8.5" text-anchor="middle" fill="#383838" transform="rotate(-90 247 79)">Percent area (MC1<tspan dy="-3" font-size="70%">+</tspan><tspan dy="3">)</tspan></text>
<rect x="275.30" y="101.72" width="12.40" height="27.58" fill="#FBB117" stroke="#4a3a20" stroke-width="0.7"/>
<line x1="281.50" y1="96.45" x2="281.50" y2="106.98" stroke="#333" stroke-width="0.9"/>
<line x1="278.90" y1="96.45" x2="284.10" y2="96.45" stroke="#333" stroke-width="0.9"/>
<line x1="278.90" y1="106.98" x2="284.10" y2="106.98" stroke="#333" stroke-width="0.9"/>
<circle cx="281.50" cy="81.66" r="1.45" fill="#fff" stroke="#333" stroke-width="0.8"/>
<circle cx="281.50" cy="88.55" r="1.45" fill="#fff" stroke="#333" stroke-width="0.8"/>
<circle cx="278.50" cy="92.94" r="1.45" fill="#fff" stroke="#333" stroke-width="0.8"/>
<circle cx="281.50" cy="92.94" r="1.45" fill="#fff" stroke="#333" stroke-width="0.8"/>
<circle cx="284.80" cy="91.69" r="1.45" fill="#fff" stroke="#333" stroke-width="0.8"/>
<circle cx="281.50" cy="99.21" r="1.45" fill="#fff" stroke="#333" stroke-width="0.8"/>
<circle cx="281.50" cy="106.11" r="1.45" fill="#fff" stroke="#333" stroke-width="0.8"/>
<circle cx="281.50" cy="119.90" r="1.45" fill="#fff" stroke="#333" stroke-width="0.8"/>
<circle cx="281.50" cy="128.05" r="1.45" fill="#fff" stroke="#333" stroke-width="0.8"/>
<rect x="295.50" y="96.08" width="12.40" height="33.22" fill="#F5821F" stroke="#4a3a20" stroke-width="0.7"/>
<line x1="301.70" y1="89.18" x2="301.70" y2="102.97" stroke="#333" stroke-width="0.9"/>
<line x1="299.10" y1="89.18" x2="304.30" y2="89.18" stroke="#333" stroke-width="0.9"/>
<line x1="299.10" y1="102.97" x2="304.30" y2="102.97" stroke="#333" stroke-width="0.9"/>
<circle cx="296.70" cy="82.28" r="1.45" fill="#fff" stroke="#333" stroke-width="0.8"/>
<circle cx="299.70" cy="82.28" r="1.45" fill="#fff" stroke="#333" stroke-width="0.8"/>
<circle cx="302.70" cy="81.03" r="1.45" fill="#fff" stroke="#333" stroke-width="0.8"/>
<circle cx="307.20" cy="84.17" r="1.45" fill="#fff" stroke="#333" stroke-width="0.8"/>
<circle cx="301.70" cy="47.18" r="1.45" fill="#fff" stroke="#333" stroke-width="0.8"/>
<circle cx="301.70" cy="56.58" r="1.45" fill="#fff" stroke="#333" stroke-width="0.8"/>
<circle cx="301.70" cy="66.61" r="1.45" fill="#fff" stroke="#333" stroke-width="0.8"/>
<circle cx="301.70" cy="87.93" r="1.45" fill="#fff" stroke="#333" stroke-width="0.8"/>
<circle cx="301.70" cy="101.72" r="1.45" fill="#fff" stroke="#333" stroke-width="0.8"/>
<circle cx="301.70" cy="107.36" r="1.45" fill="#fff" stroke="#333" stroke-width="0.8"/>
<circle cx="301.70" cy="114.26" r="1.45" fill="#fff" stroke="#333" stroke-width="0.8"/>
<circle cx="301.70" cy="118.64" r="1.45" fill="#fff" stroke="#333" stroke-width="0.8"/>
<circle cx="296.20" cy="122.40" r="1.45" fill="#fff" stroke="#333" stroke-width="0.8"/>
<circle cx="301.70" cy="122.40" r="1.45" fill="#fff" stroke="#333" stroke-width="0.8"/>
<circle cx="307.20" cy="122.40" r="1.45" fill="#fff" stroke="#333" stroke-width="0.8"/>
<circle cx="301.70" cy="125.54" r="1.45" fill="#fff" stroke="#333" stroke-width="0.8"/>
<rect x="315.50" y="93.57" width="12.40" height="35.73" fill="#E8212B" stroke="#4a3a20" stroke-width="0.7"/>
<line x1="321.70" y1="84.17" x2="321.70" y2="102.97" stroke="#333" stroke-width="0.9"/>
<line x1="319.10" y1="84.17" x2="324.30" y2="84.17" stroke="#333" stroke-width="0.9"/>
<line x1="319.10" y1="102.97" x2="324.30" y2="102.97" stroke="#333" stroke-width="0.9"/>
<circle cx="316.70" cy="74.13" r="1.45" fill="#fff" stroke="#333" stroke-width="0.8"/>
<circle cx="321.70" cy="76.02" r="1.45" fill="#fff" stroke="#333" stroke-width="0.8"/>
<circle cx="327.20" cy="75.39" r="1.45" fill="#fff" stroke="#333" stroke-width="0.8"/>
<circle cx="321.70" cy="101.72" r="1.45" fill="#fff" stroke="#333" stroke-width="0.8"/>
<circle cx="321.70" cy="106.11" r="1.45" fill="#fff" stroke="#333" stroke-width="0.8"/>
<circle cx="321.70" cy="125.54" r="1.45" fill="#fff" stroke="#333" stroke-width="0.8"/>
<text x="281.5" y="141" font-size="8.5" text-anchor="middle" fill="#383838">+</text>
<text x="281.5" y="152" font-size="8.5" text-anchor="middle" fill="#383838">+/+</text>
<text x="301.7" y="141" font-size="8.5" text-anchor="middle" fill="#383838">+</text>
<text x="301.7" y="152" font-size="8.5" text-anchor="middle" fill="#383838">+/−</text>
<text x="321.7" y="141" font-size="8.5" text-anchor="middle" fill="#383838">+</text>
<text x="321.7" y="152" font-size="8.5" text-anchor="middle" fill="#383838">−/−</text>
<text x="268" y="141" font-size="8.5" text-anchor="end" fill="#383838" font-style="italic">P301S</text>
<text x="268" y="152" font-size="8.5" text-anchor="end" fill="#383838" font-style="italic">Cgas</text>
<line x1="267.80" y1="187.50" x2="267.80" y2="287.60" stroke="#c4c4c4" stroke-width="1.2"/>
<line x1="267.20" y1="287.60" x2="335.00" y2="287.60" stroke="#777" stroke-width="0.9"/>
<line x1="263.80" y1="287.60" x2="267.40" y2="287.60" stroke="#777" stroke-width="0.8"/>
<text x="260.5" y="290.6" font-size="8.5" text-anchor="end" fill="#383838">0</text>
<line x1="263.80" y1="262.58" x2="267.40" y2="262.58" stroke="#777" stroke-width="0.8"/>
<text x="260.5" y="265.57500000000005" font-size="8.5" text-anchor="end" fill="#383838">2</text>
<line x1="263.80" y1="237.55" x2="267.40" y2="237.55" stroke="#777" stroke-width="0.8"/>
<text x="260.5" y="240.55" font-size="8.5" text-anchor="end" fill="#383838">4</text>
<line x1="263.80" y1="212.53" x2="267.40" y2="212.53" stroke="#777" stroke-width="0.8"/>
<text x="260.5" y="215.525" font-size="8.5" text-anchor="end" fill="#383838">6</text>
<line x1="263.80" y1="187.50" x2="267.40" y2="187.50" stroke="#777" stroke-width="0.8"/>
<text x="260.5" y="190.5" font-size="8.5" text-anchor="end" fill="#383838">8</text>
<text x="301.5" y="187.39999999999998" font-size="9.2" text-anchor="middle" fill="#383838">Entorhinal</text>
<text x="301.5" y="198.0" font-size="9.2" text-anchor="middle" fill="#383838">cortex</text>
<text x="247" y="238" font-size="8.5" text-anchor="middle" fill="#383838" transform="rotate(-90 247 238)">Percent area (MC1<tspan dy="-3" font-size="70%">+</tspan><tspan dy="3">)</tspan></text>
<rect x="275.30" y="273.21" width="12.40" height="14.39" fill="#FBB117" stroke="#4a3a20" stroke-width="0.7"/>
<line x1="281.50" y1="268.21" x2="281.50" y2="278.22" stroke="#333" stroke-width="0.9"/>
<line x1="278.90" y1="268.21" x2="284.10" y2="268.21" stroke="#333" stroke-width="0.9"/>
<line x1="278.90" y1="278.22" x2="284.10" y2="278.22" stroke="#333" stroke-width="0.9"/>
<circle cx="281.50" cy="258.20" r="1.45" fill="#fff" stroke="#333" stroke-width="0.8"/>
<circle cx="278.50" cy="262.58" r="1.45" fill="#fff" stroke="#333" stroke-width="0.8"/>
<circle cx="284.00" cy="261.95" r="1.45" fill="#fff" stroke="#333" stroke-width="0.8"/>
<circle cx="281.50" cy="276.34" r="1.45" fill="#fff" stroke="#333" stroke-width="0.8"/>
<circle cx="276.00" cy="283.22" r="1.45" fill="#fff" stroke="#333" stroke-width="0.8"/>
<circle cx="281.50" cy="283.22" r="1.45" fill="#fff" stroke="#333" stroke-width="0.8"/>
<circle cx="286.50" cy="282.60" r="1.45" fill="#fff" stroke="#333" stroke-width="0.8"/>
<circle cx="281.50" cy="283.85" r="1.45" fill="#fff" stroke="#333" stroke-width="0.8"/>
<rect x="295.50" y="266.33" width="12.40" height="21.27" fill="#F5821F" stroke="#4a3a20" stroke-width="0.7"/>
<line x1="301.70" y1="261.07" x2="301.70" y2="271.58" stroke="#333" stroke-width="0.9"/>
<line x1="299.10" y1="261.07" x2="304.30" y2="261.07" stroke="#333" stroke-width="0.9"/>
<line x1="299.10" y1="271.58" x2="304.30" y2="271.58" stroke="#333" stroke-width="0.9"/>
<circle cx="301.70" cy="210.02" r="1.45" fill="#fff" stroke="#333" stroke-width="0.8"/>
<circle cx="301.70" cy="225.66" r="1.45" fill="#fff" stroke="#333" stroke-width="0.8"/>
<circle cx="301.70" cy="255.07" r="1.45" fill="#fff" stroke="#333" stroke-width="0.8"/>
<circle cx="295.70" cy="261.95" r="1.45" fill="#fff" stroke="#333" stroke-width="0.8"/>
<circle cx="303.20" cy="261.32" r="1.45" fill="#fff" stroke="#333" stroke-width="0.8"/>
<circle cx="307.20" cy="258.82" r="1.45" fill="#fff" stroke="#333" stroke-width="0.8"/>
<circle cx="296.20" cy="271.33" r="1.45" fill="#fff" stroke="#333" stroke-width="0.8"/>
<circle cx="301.70" cy="270.08" r="1.45" fill="#fff" stroke="#333" stroke-width="0.8"/>
<circle cx="307.20" cy="271.96" r="1.45" fill="#fff" stroke="#333" stroke-width="0.8"/>
<circle cx="296.70" cy="275.71" r="1.45" fill="#fff" stroke="#333" stroke-width="0.8"/>
<circle cx="301.70" cy="275.71" r="1.45" fill="#fff" stroke="#333" stroke-width="0.8"/>
<circle cx="307.20" cy="276.34" r="1.45" fill="#fff" stroke="#333" stroke-width="0.8"/>
<circle cx="295.70" cy="281.97" r="1.45" fill="#fff" stroke="#333" stroke-width="0.8"/>
<circle cx="301.70" cy="282.60" r="1.45" fill="#fff" stroke="#333" stroke-width="0.8"/>
<circle cx="306.20" cy="280.72" r="1.45" fill="#fff" stroke="#333" stroke-width="0.8"/>
<circle cx="299.70" cy="286.97" r="1.45" fill="#fff" stroke="#333" stroke-width="0.8"/>
<circle cx="304.70" cy="285.10" r="1.45" fill="#fff" stroke="#333" stroke-width="0.8"/>
<rect x="315.50" y="269.46" width="12.40" height="18.14" fill="#E8212B" stroke="#4a3a20" stroke-width="0.7"/>
<line x1="321.70" y1="262.58" x2="321.70" y2="276.34" stroke="#333" stroke-width="0.9"/>
<line x1="319.10" y1="262.58" x2="324.30" y2="262.58" stroke="#333" stroke-width="0.9"/>
<line x1="319.10" y1="276.34" x2="324.30" y2="276.34" stroke="#333" stroke-width="0.9"/>
<circle cx="321.70" cy="245.06" r="1.45" fill="#fff" stroke="#333" stroke-width="0.8"/>
<circle cx="318.70" cy="261.95" r="1.45" fill="#fff" stroke="#333" stroke-width="0.8"/>
<circle cx="324.70" cy="263.20" r="1.45" fill="#fff" stroke="#333" stroke-width="0.8"/>
<circle cx="321.70" cy="275.09" r="1.45" fill="#fff" stroke="#333" stroke-width="0.8"/>
<circle cx="321.70" cy="280.72" r="1.45" fill="#fff" stroke="#333" stroke-width="0.8"/>
<circle cx="321.70" cy="285.10" r="1.45" fill="#fff" stroke="#333" stroke-width="0.8"/>
<text x="281.5" y="299.8" font-size="8.5" text-anchor="middle" fill="#383838">+</text>
<text x="281.5" y="310.5" font-size="8.5" text-anchor="middle" fill="#383838">+/+</text>
<text x="301.7" y="299.8" font-size="8.5" text-anchor="middle" fill="#383838">+</text>
<text x="301.7" y="310.5" font-size="8.5" text-anchor="middle" fill="#383838">+/−</text>
<text x="321.7" y="299.8" font-size="8.5" text-anchor="middle" fill="#383838">+</text>
<text x="321.7" y="310.5" font-size="8.5" text-anchor="middle" fill="#383838">−/−</text>
<text x="268" y="299.8" font-size="8.5" text-anchor="end" fill="#383838" font-style="italic">P301S</text>
<text x="268" y="310.5" font-size="8.5" text-anchor="end" fill="#383838" font-style="italic">Cgas</text>
<text x="368.2" y="9.1" font-size="12.3" text-anchor="start" fill="#000" font-weight="bold">c</text>
<text x="517.5" y="15" font-size="9" text-anchor="middle" fill="#383838">Morris water maze</text>
<line x1="429.00" y1="17.70" x2="429.00" y2="129.20" stroke="#9a9a9a" stroke-width="1.0"/>
<line x1="428.40" y1="129.20" x2="604.00" y2="129.20" stroke="#777" stroke-width="0.9"/>
<line x1="425.00" y1="129.20" x2="428.60" y2="129.20" stroke="#777" stroke-width="0.8"/>
<text x="423.2" y="132.2" font-size="8.3" text-anchor="end" fill="#383838">0</text>
<line x1="425.00" y1="110.62" x2="428.60" y2="110.62" stroke="#777" stroke-width="0.8"/>
<text x="423.2" y="113.61666666666666" font-size="8.3" text-anchor="end" fill="#383838">20,000</text>
<line x1="425.00" y1="92.03" x2="428.60" y2="92.03" stroke="#777" stroke-width="0.8"/>
<text x="423.2" y="95.03333333333333" font-size="8.3" text-anchor="end" fill="#383838">40,000</text>
<line x1="425.00" y1="73.45" x2="428.60" y2="73.45" stroke="#777" stroke-width="0.8"/>
<text x="423.2" y="76.44999999999999" font-size="8.3" text-anchor="end" fill="#383838">60,000</text>
<line x1="425.00" y1="54.87" x2="428.60" y2="54.87" stroke="#777" stroke-width="0.8"/>
<text x="423.2" y="57.86666666666666" font-size="8.3" text-anchor="end" fill="#383838">80,000</text>
<line x1="425.00" y1="36.28" x2="428.60" y2="36.28" stroke="#777" stroke-width="0.8"/>
<text x="423.2" y="39.28333333333333" font-size="8.3" text-anchor="end" fill="#383838">100,000</text>
<line x1="425.00" y1="17.70" x2="428.60" y2="17.70" stroke="#777" stroke-width="0.8"/>
<text x="423.2" y="20.700000000000003" font-size="8.3" text-anchor="end" fill="#383838">120,000</text>
<line x1="437.60" y1="129.20" x2="437.60" y2="132.70" stroke="#777" stroke-width="0.8"/>
<text x="437.6" y="142" font-size="8.5" text-anchor="middle" fill="#383838">1</text>
<line x1="452.03" y1="129.20" x2="452.03" y2="132.70" stroke="#777" stroke-width="0.8"/>
<text x="452.03000000000003" y="142" font-size="8.5" text-anchor="middle" fill="#383838">2</text>
<line x1="466.46" y1="129.20" x2="466.46" y2="132.70" stroke="#777" stroke-width="0.8"/>
<text x="466.46000000000004" y="142" font-size="8.5" text-anchor="middle" fill="#383838">3</text>
<line x1="480.89" y1="129.20" x2="480.89" y2="132.70" stroke="#777" stroke-width="0.8"/>
<text x="480.89000000000004" y="142" font-size="8.5" text-anchor="middle" fill="#383838">4</text>
<line x1="495.32" y1="129.20" x2="495.32" y2="132.70" stroke="#777" stroke-width="0.8"/>
<text x="495.32000000000005" y="142" font-size="8.5" text-anchor="middle" fill="#383838">5</text>
<line x1="509.75" y1="129.20" x2="509.75" y2="132.70" stroke="#777" stroke-width="0.8"/>
<text x="509.75" y="142" font-size="8.5" text-anchor="middle" fill="#383838">6</text>
<line x1="524.18" y1="129.20" x2="524.18" y2="132.70" stroke="#777" stroke-width="0.8"/>
<text x="524.1800000000001" y="142" font-size="8.5" text-anchor="middle" fill="#383838">7</text>
<line x1="538.61" y1="129.20" x2="538.61" y2="132.70" stroke="#777" stroke-width="0.8"/>
<text x="538.61" y="142" font-size="8.5" text-anchor="middle" fill="#383838">8</text>
<line x1="553.04" y1="129.20" x2="553.04" y2="132.70" stroke="#777" stroke-width="0.8"/>
<text x="553.04" y="142" font-size="8.5" text-anchor="middle" fill="#383838">9</text>
<line x1="567.47" y1="129.20" x2="567.47" y2="132.70" stroke="#777" stroke-width="0.8"/>
<text x="567.47" y="142" font-size="8.5" text-anchor="middle" fill="#383838">10</text>
<line x1="581.90" y1="129.20" x2="581.90" y2="132.70" stroke="#777" stroke-width="0.8"/>
<text x="581.9000000000001" y="142" font-size="8.5" text-anchor="middle" fill="#383838">11</text>
<line x1="596.33" y1="129.20" x2="596.33" y2="132.70" stroke="#777" stroke-width="0.8"/>
<text x="596.33" y="142" font-size="8.5" text-anchor="middle" fill="#383838">12</text>
<text x="517" y="156" font-size="9" text-anchor="middle" fill="#383838">Sessions</text>
<text x="376.3" y="75.5" font-size="9.2" text-anchor="middle" fill="#383838" transform="rotate(-90 376.3 75.5)">Cumulative distance to target</text>
<text x="386.0" y="75.5" font-size="9.2" text-anchor="middle" fill="#383838" transform="rotate(-90 386.0 75.5)">platform (cm; mean ± s.e.m.)</text>
<line x1="437.60" y1="51.15" x2="437.60" y2="62.30" stroke="#555" stroke-width="0.6" opacity="0.75"/>
<line x1="436.00" y1="51.15" x2="439.20" y2="51.15" stroke="#555" stroke-width="0.6" opacity="0.75"/>
<line x1="436.00" y1="62.30" x2="439.20" y2="62.30" stroke="#555" stroke-width="0.6" opacity="0.75"/>
<line x1="452.03" y1="72.52" x2="452.03" y2="85.53" stroke="#555" stroke-width="0.6" opacity="0.75"/>
<line x1="450.43" y1="72.52" x2="453.63" y2="72.52" stroke="#555" stroke-width="0.6" opacity="0.75"/>
<line x1="450.43" y1="85.53" x2="453.63" y2="85.53" stroke="#555" stroke-width="0.6" opacity="0.75"/>
<line x1="466.46" y1="78.10" x2="466.46" y2="89.25" stroke="#555" stroke-width="0.6" opacity="0.75"/>
<line x1="464.86" y1="78.10" x2="468.06" y2="78.10" stroke="#555" stroke-width="0.6" opacity="0.75"/>
<line x1="464.86" y1="89.25" x2="468.06" y2="89.25" stroke="#555" stroke-width="0.6" opacity="0.75"/>
<line x1="480.89" y1="76.24" x2="480.89" y2="87.39" stroke="#555" stroke-width="0.6" opacity="0.75"/>
<line x1="479.29" y1="76.24" x2="482.49" y2="76.24" stroke="#555" stroke-width="0.6" opacity="0.75"/>
<line x1="479.29" y1="87.39" x2="482.49" y2="87.39" stroke="#555" stroke-width="0.6" opacity="0.75"/>
<line x1="495.32" y1="85.53" x2="495.32" y2="98.54" stroke="#555" stroke-width="0.6" opacity="0.75"/>
<line x1="493.72" y1="85.53" x2="496.92" y2="85.53" stroke="#555" stroke-width="0.6" opacity="0.75"/>
<line x1="493.72" y1="98.54" x2="496.92" y2="98.54" stroke="#555" stroke-width="0.6" opacity="0.75"/>
<line x1="509.75" y1="95.75" x2="509.75" y2="106.90" stroke="#555" stroke-width="0.6" opacity="0.75"/>
<line x1="508.15" y1="95.75" x2="511.35" y2="95.75" stroke="#555" stroke-width="0.6" opacity="0.75"/>
<line x1="508.15" y1="106.90" x2="511.35" y2="106.90" stroke="#555" stroke-width="0.6" opacity="0.75"/>
<line x1="524.18" y1="103.55" x2="524.18" y2="110.99" stroke="#555" stroke-width="0.6" opacity="0.75"/>
<line x1="522.58" y1="103.55" x2="525.78" y2="103.55" stroke="#555" stroke-width="0.6" opacity="0.75"/>
<line x1="522.58" y1="110.99" x2="525.78" y2="110.99" stroke="#555" stroke-width="0.6" opacity="0.75"/>
<line x1="538.61" y1="99.47" x2="538.61" y2="108.76" stroke="#555" stroke-width="0.6" opacity="0.75"/>
<line x1="537.01" y1="99.47" x2="540.21" y2="99.47" stroke="#555" stroke-width="0.6" opacity="0.75"/>
<line x1="537.01" y1="108.76" x2="540.21" y2="108.76" stroke="#555" stroke-width="0.6" opacity="0.75"/>
<line x1="553.04" y1="102.25" x2="553.04" y2="111.55" stroke="#555" stroke-width="0.6" opacity="0.75"/>
<line x1="551.44" y1="102.25" x2="554.64" y2="102.25" stroke="#555" stroke-width="0.6" opacity="0.75"/>
<line x1="551.44" y1="111.55" x2="554.64" y2="111.55" stroke="#555" stroke-width="0.6" opacity="0.75"/>
<line x1="567.47" y1="96.68" x2="567.47" y2="105.97" stroke="#555" stroke-width="0.6" opacity="0.75"/>
<line x1="565.87" y1="96.68" x2="569.07" y2="96.68" stroke="#555" stroke-width="0.6" opacity="0.75"/>
<line x1="565.87" y1="105.97" x2="569.07" y2="105.97" stroke="#555" stroke-width="0.6" opacity="0.75"/>
<line x1="581.90" y1="100.77" x2="581.90" y2="110.06" stroke="#555" stroke-width="0.6" opacity="0.75"/>
<line x1="580.30" y1="100.77" x2="583.50" y2="100.77" stroke="#555" stroke-width="0.6" opacity="0.75"/>
<line x1="580.30" y1="110.06" x2="583.50" y2="110.06" stroke="#555" stroke-width="0.6" opacity="0.75"/>
<line x1="596.33" y1="99.47" x2="596.33" y2="108.76" stroke="#555" stroke-width="0.6" opacity="0.75"/>
<line x1="594.73" y1="99.47" x2="597.93" y2="99.47" stroke="#555" stroke-width="0.6" opacity="0.75"/>
<line x1="594.73" y1="108.76" x2="597.93" y2="108.76" stroke="#555" stroke-width="0.6" opacity="0.75"/>
<polyline points="437.60,56.72 452.03,79.02 466.46,83.67 480.89,81.81 495.32,92.03 509.75,101.32 524.18,107.27 538.61,104.11 553.04,106.90 567.47,101.32 581.90,105.41 596.33,104.11" fill="none" stroke="#cfcfcf" stroke-width="1.6" stroke-linejoin="round"/>
<circle cx="437.60" cy="56.72" r="1.6" fill="#fff" stroke="#333" stroke-width="0.7"/>
<circle cx="452.03" cy="79.02" r="1.6" fill="#fff" stroke="#333" stroke-width="0.7"/>
<circle cx="466.46" cy="83.67" r="1.6" fill="#fff" stroke="#333" stroke-width="0.7"/>
<circle cx="480.89" cy="81.81" r="1.6" fill="#fff" stroke="#333" stroke-width="0.7"/>
<circle cx="495.32" cy="92.03" r="1.6" fill="#fff" stroke="#333" stroke-width="0.7"/>
<circle cx="509.75" cy="101.32" r="1.6" fill="#fff" stroke="#333" stroke-width="0.7"/>
<circle cx="524.18" cy="107.27" r="1.6" fill="#fff" stroke="#333" stroke-width="0.7"/>
<circle cx="538.61" cy="104.11" r="1.6" fill="#fff" stroke="#333" stroke-width="0.7"/>
<circle cx="553.04" cy="106.90" r="1.6" fill="#fff" stroke="#333" stroke-width="0.7"/>
<circle cx="567.47" cy="101.32" r="1.6" fill="#fff" stroke="#333" stroke-width="0.7"/>
<circle cx="581.90" cy="105.41" r="1.6" fill="#fff" stroke="#333" stroke-width="0.7"/>
<circle cx="596.33" cy="104.11" r="1.6" fill="#fff" stroke="#333" stroke-width="0.7"/>
<line x1="437.60" y1="45.58" x2="437.60" y2="58.58" stroke="#9a9a9a" stroke-width="0.6" opacity="0.75"/>
<line x1="436.00" y1="45.58" x2="439.20" y2="45.58" stroke="#9a9a9a" stroke-width="0.6" opacity="0.75"/>
<line x1="436.00" y1="58.58" x2="439.20" y2="58.58" stroke="#9a9a9a" stroke-width="0.6" opacity="0.75"/>
<line x1="452.03" y1="52.08" x2="452.03" y2="65.09" stroke="#9a9a9a" stroke-width="0.6" opacity="0.75"/>
<line x1="450.43" y1="52.08" x2="453.63" y2="52.08" stroke="#9a9a9a" stroke-width="0.6" opacity="0.75"/>
<line x1="450.43" y1="65.09" x2="453.63" y2="65.09" stroke="#9a9a9a" stroke-width="0.6" opacity="0.75"/>
<line x1="466.46" y1="66.02" x2="466.46" y2="80.88" stroke="#9a9a9a" stroke-width="0.6" opacity="0.75"/>
<line x1="464.86" y1="66.02" x2="468.06" y2="66.02" stroke="#9a9a9a" stroke-width="0.6" opacity="0.75"/>
<line x1="464.86" y1="80.88" x2="468.06" y2="80.88" stroke="#9a9a9a" stroke-width="0.6" opacity="0.75"/>
<line x1="480.89" y1="64.16" x2="480.89" y2="77.17" stroke="#9a9a9a" stroke-width="0.6" opacity="0.75"/>
<line x1="479.29" y1="64.16" x2="482.49" y2="64.16" stroke="#9a9a9a" stroke-width="0.6" opacity="0.75"/>
<line x1="479.29" y1="77.17" x2="482.49" y2="77.17" stroke="#9a9a9a" stroke-width="0.6" opacity="0.75"/>
<line x1="495.32" y1="75.31" x2="495.32" y2="90.17" stroke="#9a9a9a" stroke-width="0.6" opacity="0.75"/>
<line x1="493.72" y1="75.31" x2="496.92" y2="75.31" stroke="#9a9a9a" stroke-width="0.6" opacity="0.75"/>
<line x1="493.72" y1="90.17" x2="496.92" y2="90.17" stroke="#9a9a9a" stroke-width="0.6" opacity="0.75"/>
<line x1="509.75" y1="89.25" x2="509.75" y2="100.40" stroke="#9a9a9a" stroke-width="0.6" opacity="0.75"/>
<line x1="508.15" y1="89.25" x2="511.35" y2="89.25" stroke="#9a9a9a" stroke-width="0.6" opacity="0.75"/>
<line x1="508.15" y1="100.40" x2="511.35" y2="100.40" stroke="#9a9a9a" stroke-width="0.6" opacity="0.75"/>
<line x1="524.18" y1="81.35" x2="524.18" y2="94.36" stroke="#9a9a9a" stroke-width="0.6" opacity="0.75"/>
<line x1="522.58" y1="81.35" x2="525.78" y2="81.35" stroke="#9a9a9a" stroke-width="0.6" opacity="0.75"/>
<line x1="522.58" y1="94.36" x2="525.78" y2="94.36" stroke="#9a9a9a" stroke-width="0.6" opacity="0.75"/>
<line x1="538.61" y1="88.32" x2="538.61" y2="101.32" stroke="#9a9a9a" stroke-width="0.6" opacity="0.75"/>
<line x1="537.01" y1="88.32" x2="540.21" y2="88.32" stroke="#9a9a9a" stroke-width="0.6" opacity="0.75"/>
<line x1="537.01" y1="101.32" x2="540.21" y2="101.32" stroke="#9a9a9a" stroke-width="0.6" opacity="0.75"/>
<line x1="553.04" y1="98.54" x2="553.04" y2="109.69" stroke="#9a9a9a" stroke-width="0.6" opacity="0.75"/>
<line x1="551.44" y1="98.54" x2="554.64" y2="98.54" stroke="#9a9a9a" stroke-width="0.6" opacity="0.75"/>
<line x1="551.44" y1="109.69" x2="554.64" y2="109.69" stroke="#9a9a9a" stroke-width="0.6" opacity="0.75"/>
<line x1="567.47" y1="88.32" x2="567.47" y2="101.32" stroke="#9a9a9a" stroke-width="0.6" opacity="0.75"/>
<line x1="565.87" y1="88.32" x2="569.07" y2="88.32" stroke="#9a9a9a" stroke-width="0.6" opacity="0.75"/>
<line x1="565.87" y1="101.32" x2="569.07" y2="101.32" stroke="#9a9a9a" stroke-width="0.6" opacity="0.75"/>
<line x1="581.90" y1="90.17" x2="581.90" y2="101.33" stroke="#9a9a9a" stroke-width="0.6" opacity="0.75"/>
<line x1="580.30" y1="90.17" x2="583.50" y2="90.17" stroke="#9a9a9a" stroke-width="0.6" opacity="0.75"/>
<line x1="580.30" y1="101.33" x2="583.50" y2="101.33" stroke="#9a9a9a" stroke-width="0.6" opacity="0.75"/>
<line x1="596.33" y1="83.67" x2="596.33" y2="98.54" stroke="#9a9a9a" stroke-width="0.6" opacity="0.75"/>
<line x1="594.73" y1="83.67" x2="597.93" y2="83.67" stroke="#9a9a9a" stroke-width="0.6" opacity="0.75"/>
<line x1="594.73" y1="98.54" x2="597.93" y2="98.54" stroke="#9a9a9a" stroke-width="0.6" opacity="0.75"/>
<polyline points="437.60,52.08 452.03,58.58 466.46,73.45 480.89,70.66 495.32,82.74 509.75,94.82 524.18,87.85 538.61,94.82 553.04,104.11 567.47,94.82 581.90,95.75 596.33,91.10" fill="none" stroke="#9a9a9a" stroke-width="1.7" stroke-linejoin="round"/>
<circle cx="437.60" cy="52.08" r="1.7" fill="#9a9a9a" stroke="#9a9a9a" stroke-width="0.3"/>
<circle cx="452.03" cy="58.58" r="1.7" fill="#9a9a9a" stroke="#9a9a9a" stroke-width="0.3"/>
<circle cx="466.46" cy="73.45" r="1.7" fill="#9a9a9a" stroke="#9a9a9a" stroke-width="0.3"/>
<circle cx="480.89" cy="70.66" r="1.7" fill="#9a9a9a" stroke="#9a9a9a" stroke-width="0.3"/>
<circle cx="495.32" cy="82.74" r="1.7" fill="#9a9a9a" stroke="#9a9a9a" stroke-width="0.3"/>
<circle cx="509.75" cy="94.82" r="1.7" fill="#9a9a9a" stroke="#9a9a9a" stroke-width="0.3"/>
<circle cx="524.18" cy="87.85" r="1.7" fill="#9a9a9a" stroke="#9a9a9a" stroke-width="0.3"/>
<circle cx="538.61" cy="94.82" r="1.7" fill="#9a9a9a" stroke="#9a9a9a" stroke-width="0.3"/>
<circle cx="553.04" cy="104.11" r="1.7" fill="#9a9a9a" stroke="#9a9a9a" stroke-width="0.3"/>
<circle cx="567.47" cy="94.82" r="1.7" fill="#9a9a9a" stroke="#9a9a9a" stroke-width="0.3"/>
<circle cx="581.90" cy="95.75" r="1.7" fill="#9a9a9a" stroke="#9a9a9a" stroke-width="0.3"/>
<circle cx="596.33" cy="91.10" r="1.7" fill="#9a9a9a" stroke="#9a9a9a" stroke-width="0.3"/>
<line x1="437.60" y1="52.08" x2="437.60" y2="65.09" stroke="#1a1a1a" stroke-width="0.6" opacity="0.75"/>
<line x1="436.00" y1="52.08" x2="439.20" y2="52.08" stroke="#1a1a1a" stroke-width="0.6" opacity="0.75"/>
<line x1="436.00" y1="65.09" x2="439.20" y2="65.09" stroke="#1a1a1a" stroke-width="0.6" opacity="0.75"/>
<line x1="452.03" y1="60.44" x2="452.03" y2="71.59" stroke="#1a1a1a" stroke-width="0.6" opacity="0.75"/>
<line x1="450.43" y1="60.44" x2="453.63" y2="60.44" stroke="#1a1a1a" stroke-width="0.6" opacity="0.75"/>
<line x1="450.43" y1="71.59" x2="453.63" y2="71.59" stroke="#1a1a1a" stroke-width="0.6" opacity="0.75"/>
<line x1="466.46" y1="64.16" x2="466.46" y2="77.17" stroke="#1a1a1a" stroke-width="0.6" opacity="0.75"/>
<line x1="464.86" y1="64.16" x2="468.06" y2="64.16" stroke="#1a1a1a" stroke-width="0.6" opacity="0.75"/>
<line x1="464.86" y1="77.17" x2="468.06" y2="77.17" stroke="#1a1a1a" stroke-width="0.6" opacity="0.75"/>
<line x1="480.89" y1="71.59" x2="480.89" y2="86.46" stroke="#1a1a1a" stroke-width="0.6" opacity="0.75"/>
<line x1="479.29" y1="71.59" x2="482.49" y2="71.59" stroke="#1a1a1a" stroke-width="0.6" opacity="0.75"/>
<line x1="479.29" y1="86.46" x2="482.49" y2="86.46" stroke="#1a1a1a" stroke-width="0.6" opacity="0.75"/>
<line x1="495.32" y1="73.45" x2="495.32" y2="99.47" stroke="#1a1a1a" stroke-width="0.6" opacity="0.75"/>
<line x1="493.72" y1="73.45" x2="496.92" y2="73.45" stroke="#1a1a1a" stroke-width="0.6" opacity="0.75"/>
<line x1="493.72" y1="99.47" x2="496.92" y2="99.47" stroke="#1a1a1a" stroke-width="0.6" opacity="0.75"/>
<line x1="509.75" y1="90.17" x2="509.75" y2="101.33" stroke="#1a1a1a" stroke-width="0.6" opacity="0.75"/>
<line x1="508.15" y1="90.17" x2="511.35" y2="90.17" stroke="#1a1a1a" stroke-width="0.6" opacity="0.75"/>
<line x1="508.15" y1="101.33" x2="511.35" y2="101.33" stroke="#1a1a1a" stroke-width="0.6" opacity="0.75"/>
<line x1="524.18" y1="84.97" x2="524.18" y2="96.12" stroke="#1a1a1a" stroke-width="0.6" opacity="0.75"/>
<line x1="522.58" y1="84.97" x2="525.78" y2="84.97" stroke="#1a1a1a" stroke-width="0.6" opacity="0.75"/>
<line x1="522.58" y1="96.12" x2="525.78" y2="96.12" stroke="#1a1a1a" stroke-width="0.6" opacity="0.75"/>
<line x1="538.61" y1="93.89" x2="538.61" y2="108.76" stroke="#1a1a1a" stroke-width="0.6" opacity="0.75"/>
<line x1="537.01" y1="93.89" x2="540.21" y2="93.89" stroke="#1a1a1a" stroke-width="0.6" opacity="0.75"/>
<line x1="537.01" y1="108.76" x2="540.21" y2="108.76" stroke="#1a1a1a" stroke-width="0.6" opacity="0.75"/>
<line x1="553.04" y1="94.82" x2="553.04" y2="105.97" stroke="#1a1a1a" stroke-width="0.6" opacity="0.75"/>
<line x1="551.44" y1="94.82" x2="554.64" y2="94.82" stroke="#1a1a1a" stroke-width="0.6" opacity="0.75"/>
<line x1="551.44" y1="105.97" x2="554.64" y2="105.97" stroke="#1a1a1a" stroke-width="0.6" opacity="0.75"/>
<line x1="567.47" y1="89.25" x2="567.47" y2="102.25" stroke="#1a1a1a" stroke-width="0.6" opacity="0.75"/>
<line x1="565.87" y1="89.25" x2="569.07" y2="89.25" stroke="#1a1a1a" stroke-width="0.6" opacity="0.75"/>
<line x1="565.87" y1="102.25" x2="569.07" y2="102.25" stroke="#1a1a1a" stroke-width="0.6" opacity="0.75"/>
<line x1="581.90" y1="85.81" x2="581.90" y2="100.67" stroke="#1a1a1a" stroke-width="0.6" opacity="0.75"/>
<line x1="580.30" y1="85.81" x2="583.50" y2="85.81" stroke="#1a1a1a" stroke-width="0.6" opacity="0.75"/>
<line x1="580.30" y1="100.67" x2="583.50" y2="100.67" stroke="#1a1a1a" stroke-width="0.6" opacity="0.75"/>
<line x1="596.33" y1="97.05" x2="596.33" y2="108.20" stroke="#1a1a1a" stroke-width="0.6" opacity="0.75"/>
<line x1="594.73" y1="97.05" x2="597.93" y2="97.05" stroke="#1a1a1a" stroke-width="0.6" opacity="0.75"/>
<line x1="594.73" y1="108.20" x2="597.93" y2="108.20" stroke="#1a1a1a" stroke-width="0.6" opacity="0.75"/>
<polyline points="437.60,58.58 452.03,66.02 466.46,70.66 480.89,79.02 495.32,86.46 509.75,95.75 524.18,90.55 538.61,101.32 553.04,100.40 567.47,95.75 581.90,93.24 596.33,102.63" fill="none" stroke="#1a1a1a" stroke-width="1.7" stroke-linejoin="round"/>
<circle cx="437.60" cy="58.58" r="1.7" fill="#1a1a1a" stroke="#1a1a1a" stroke-width="0.3"/>
<circle cx="452.03" cy="66.02" r="1.7" fill="#1a1a1a" stroke="#1a1a1a" stroke-width="0.3"/>
<circle cx="466.46" cy="70.66" r="1.7" fill="#1a1a1a" stroke="#1a1a1a" stroke-width="0.3"/>
<circle cx="480.89" cy="79.02" r="1.7" fill="#1a1a1a" stroke="#1a1a1a" stroke-width="0.3"/>
<circle cx="495.32" cy="86.46" r="1.7" fill="#1a1a1a" stroke="#1a1a1a" stroke-width="0.3"/>
<circle cx="509.75" cy="95.75" r="1.7" fill="#1a1a1a" stroke="#1a1a1a" stroke-width="0.3"/>
<circle cx="524.18" cy="90.55" r="1.7" fill="#1a1a1a" stroke="#1a1a1a" stroke-width="0.3"/>
<circle cx="538.61" cy="101.32" r="1.7" fill="#1a1a1a" stroke="#1a1a1a" stroke-width="0.3"/>
<circle cx="553.04" cy="100.40" r="1.7" fill="#1a1a1a" stroke="#1a1a1a" stroke-width="0.3"/>
<circle cx="567.47" cy="95.75" r="1.7" fill="#1a1a1a" stroke="#1a1a1a" stroke-width="0.3"/>
<circle cx="581.90" cy="93.24" r="1.7" fill="#1a1a1a" stroke="#1a1a1a" stroke-width="0.3"/>
<circle cx="596.33" cy="102.63" r="1.7" fill="#1a1a1a" stroke="#1a1a1a" stroke-width="0.3"/>
<line x1="437.60" y1="36.28" x2="437.60" y2="49.29" stroke="#FBB117" stroke-width="0.6" opacity="0.75"/>
<line x1="436.00" y1="36.28" x2="439.20" y2="36.28" stroke="#FBB117" stroke-width="0.6" opacity="0.75"/>
<line x1="436.00" y1="49.29" x2="439.20" y2="49.29" stroke="#FBB117" stroke-width="0.6" opacity="0.75"/>
<line x1="452.03" y1="41.86" x2="452.03" y2="54.87" stroke="#FBB117" stroke-width="0.6" opacity="0.75"/>
<line x1="450.43" y1="41.86" x2="453.63" y2="41.86" stroke="#FBB117" stroke-width="0.6" opacity="0.75"/>
<line x1="450.43" y1="54.87" x2="453.63" y2="54.87" stroke="#FBB117" stroke-width="0.6" opacity="0.75"/>
<line x1="466.46" y1="51.15" x2="466.46" y2="71.59" stroke="#FBB117" stroke-width="0.6" opacity="0.75"/>
<line x1="464.86" y1="51.15" x2="468.06" y2="51.15" stroke="#FBB117" stroke-width="0.6" opacity="0.75"/>
<line x1="464.86" y1="71.59" x2="468.06" y2="71.59" stroke="#FBB117" stroke-width="0.6" opacity="0.75"/>
<line x1="480.89" y1="57.65" x2="480.89" y2="72.52" stroke="#FBB117" stroke-width="0.6" opacity="0.75"/>
<line x1="479.29" y1="57.65" x2="482.49" y2="57.65" stroke="#FBB117" stroke-width="0.6" opacity="0.75"/>
<line x1="479.29" y1="72.52" x2="482.49" y2="72.52" stroke="#FBB117" stroke-width="0.6" opacity="0.75"/>
<line x1="495.32" y1="49.29" x2="495.32" y2="71.59" stroke="#FBB117" stroke-width="0.6" opacity="0.75"/>
<line x1="493.72" y1="49.29" x2="496.92" y2="49.29" stroke="#FBB117" stroke-width="0.6" opacity="0.75"/>
<line x1="493.72" y1="71.59" x2="496.92" y2="71.59" stroke="#FBB117" stroke-width="0.6" opacity="0.75"/>
<line x1="509.75" y1="59.51" x2="509.75" y2="76.24" stroke="#FBB117" stroke-width="0.6" opacity="0.75"/>
<line x1="508.15" y1="59.51" x2="511.35" y2="59.51" stroke="#FBB117" stroke-width="0.6" opacity="0.75"/>
<line x1="508.15" y1="76.24" x2="511.35" y2="76.24" stroke="#FBB117" stroke-width="0.6" opacity="0.75"/>
<line x1="524.18" y1="54.49" x2="524.18" y2="76.79" stroke="#FBB117" stroke-width="0.6" opacity="0.75"/>
<line x1="522.58" y1="54.49" x2="525.78" y2="54.49" stroke="#FBB117" stroke-width="0.6" opacity="0.75"/>
<line x1="522.58" y1="76.79" x2="525.78" y2="76.79" stroke="#FBB117" stroke-width="0.6" opacity="0.75"/>
<line x1="538.61" y1="69.18" x2="538.61" y2="89.62" stroke="#FBB117" stroke-width="0.6" opacity="0.75"/>
<line x1="537.01" y1="69.18" x2="540.21" y2="69.18" stroke="#FBB117" stroke-width="0.6" opacity="0.75"/>
<line x1="537.01" y1="89.62" x2="540.21" y2="89.62" stroke="#FBB117" stroke-width="0.6" opacity="0.75"/>
<line x1="553.04" y1="66.02" x2="553.04" y2="84.60" stroke="#FBB117" stroke-width="0.6" opacity="0.75"/>
<line x1="551.44" y1="66.02" x2="554.64" y2="66.02" stroke="#FBB117" stroke-width="0.6" opacity="0.75"/>
<line x1="551.44" y1="84.60" x2="554.64" y2="84.60" stroke="#FBB117" stroke-width="0.6" opacity="0.75"/>
<line x1="567.47" y1="67.87" x2="567.47" y2="86.46" stroke="#FBB117" stroke-width="0.6" opacity="0.75"/>
<line x1="565.87" y1="67.87" x2="569.07" y2="67.87" stroke="#FBB117" stroke-width="0.6" opacity="0.75"/>
<line x1="565.87" y1="86.46" x2="569.07" y2="86.46" stroke="#FBB117" stroke-width="0.6" opacity="0.75"/>
<line x1="581.90" y1="65.09" x2="581.90" y2="85.53" stroke="#FBB117" stroke-width="0.6" opacity="0.75"/>
<line x1="580.30" y1="65.09" x2="583.50" y2="65.09" stroke="#FBB117" stroke-width="0.6" opacity="0.75"/>
<line x1="580.30" y1="85.53" x2="583.50" y2="85.53" stroke="#FBB117" stroke-width="0.6" opacity="0.75"/>
<line x1="596.33" y1="59.51" x2="596.33" y2="78.10" stroke="#FBB117" stroke-width="0.6" opacity="0.75"/>
<line x1="594.73" y1="59.51" x2="597.93" y2="59.51" stroke="#FBB117" stroke-width="0.6" opacity="0.75"/>
<line x1="594.73" y1="78.10" x2="597.93" y2="78.10" stroke="#FBB117" stroke-width="0.6" opacity="0.75"/>
<polyline points="437.60,42.79 452.03,48.36 466.46,61.37 480.89,65.09 495.32,60.44 509.75,67.88 524.18,65.64 538.61,79.40 553.04,75.31 567.47,77.17 581.90,75.31 596.33,68.80" fill="none" stroke="#FBB117" stroke-width="2.2" stroke-linejoin="round"/>
<circle cx="437.60" cy="42.79" r="1.7" fill="#FBB117" stroke="#FBB117" stroke-width="0.3"/>
<circle cx="452.03" cy="48.36" r="1.7" fill="#FBB117" stroke="#FBB117" stroke-width="0.3"/>
<circle cx="466.46" cy="61.37" r="1.7" fill="#FBB117" stroke="#FBB117" stroke-width="0.3"/>
<circle cx="480.89" cy="65.09" r="1.7" fill="#FBB117" stroke="#FBB117" stroke-width="0.3"/>
<circle cx="495.32" cy="60.44" r="1.7" fill="#FBB117" stroke="#FBB117" stroke-width="0.3"/>
<circle cx="509.75" cy="67.88" r="1.7" fill="#FBB117" stroke="#FBB117" stroke-width="0.3"/>
<circle cx="524.18" cy="65.64" r="1.7" fill="#FBB117" stroke="#FBB117" stroke-width="0.3"/>
<circle cx="538.61" cy="79.40" r="1.7" fill="#FBB117" stroke="#FBB117" stroke-width="0.3"/>
<circle cx="553.04" cy="75.31" r="1.7" fill="#FBB117" stroke="#FBB117" stroke-width="0.3"/>
<circle cx="567.47" cy="77.17" r="1.7" fill="#FBB117" stroke="#FBB117" stroke-width="0.3"/>
<circle cx="581.90" cy="75.31" r="1.7" fill="#FBB117" stroke="#FBB117" stroke-width="0.3"/>
<circle cx="596.33" cy="68.80" r="1.7" fill="#FBB117" stroke="#FBB117" stroke-width="0.3"/>
<line x1="437.60" y1="45.57" x2="437.60" y2="60.44" stroke="#F5821F" stroke-width="0.6" opacity="0.75"/>
<line x1="436.00" y1="45.57" x2="439.20" y2="45.57" stroke="#F5821F" stroke-width="0.6" opacity="0.75"/>
<line x1="436.00" y1="60.44" x2="439.20" y2="60.44" stroke="#F5821F" stroke-width="0.6" opacity="0.75"/>
<line x1="452.03" y1="50.22" x2="452.03" y2="65.09" stroke="#F5821F" stroke-width="0.6" opacity="0.75"/>
<line x1="450.43" y1="50.22" x2="453.63" y2="50.22" stroke="#F5821F" stroke-width="0.6" opacity="0.75"/>
<line x1="450.43" y1="65.09" x2="453.63" y2="65.09" stroke="#F5821F" stroke-width="0.6" opacity="0.75"/>
<line x1="466.46" y1="58.58" x2="466.46" y2="73.45" stroke="#F5821F" stroke-width="0.6" opacity="0.75"/>
<line x1="464.86" y1="58.58" x2="468.06" y2="58.58" stroke="#F5821F" stroke-width="0.6" opacity="0.75"/>
<line x1="464.86" y1="73.45" x2="468.06" y2="73.45" stroke="#F5821F" stroke-width="0.6" opacity="0.75"/>
<line x1="480.89" y1="66.95" x2="480.89" y2="81.81" stroke="#F5821F" stroke-width="0.6" opacity="0.75"/>
<line x1="479.29" y1="66.95" x2="482.49" y2="66.95" stroke="#F5821F" stroke-width="0.6" opacity="0.75"/>
<line x1="479.29" y1="81.81" x2="482.49" y2="81.81" stroke="#F5821F" stroke-width="0.6" opacity="0.75"/>
<line x1="495.32" y1="72.52" x2="495.32" y2="87.39" stroke="#F5821F" stroke-width="0.6" opacity="0.75"/>
<line x1="493.72" y1="72.52" x2="496.92" y2="72.52" stroke="#F5821F" stroke-width="0.6" opacity="0.75"/>
<line x1="493.72" y1="87.39" x2="496.92" y2="87.39" stroke="#F5821F" stroke-width="0.6" opacity="0.75"/>
<line x1="509.75" y1="75.77" x2="509.75" y2="90.64" stroke="#F5821F" stroke-width="0.6" opacity="0.75"/>
<line x1="508.15" y1="75.77" x2="511.35" y2="75.77" stroke="#F5821F" stroke-width="0.6" opacity="0.75"/>
<line x1="508.15" y1="90.64" x2="511.35" y2="90.64" stroke="#F5821F" stroke-width="0.6" opacity="0.75"/>
<line x1="524.18" y1="70.66" x2="524.18" y2="87.39" stroke="#F5821F" stroke-width="0.6" opacity="0.75"/>
<line x1="522.58" y1="70.66" x2="525.78" y2="70.66" stroke="#F5821F" stroke-width="0.6" opacity="0.75"/>
<line x1="522.58" y1="87.39" x2="525.78" y2="87.39" stroke="#F5821F" stroke-width="0.6" opacity="0.75"/>
<line x1="538.61" y1="77.63" x2="538.61" y2="92.50" stroke="#F5821F" stroke-width="0.6" opacity="0.75"/>
<line x1="537.01" y1="77.63" x2="540.21" y2="77.63" stroke="#F5821F" stroke-width="0.6" opacity="0.75"/>
<line x1="537.01" y1="92.50" x2="540.21" y2="92.50" stroke="#F5821F" stroke-width="0.6" opacity="0.75"/>
<line x1="553.04" y1="88.32" x2="553.04" y2="101.32" stroke="#F5821F" stroke-width="0.6" opacity="0.75"/>
<line x1="551.44" y1="88.32" x2="554.64" y2="88.32" stroke="#F5821F" stroke-width="0.6" opacity="0.75"/>
<line x1="551.44" y1="101.32" x2="554.64" y2="101.32" stroke="#F5821F" stroke-width="0.6" opacity="0.75"/>
<line x1="567.47" y1="73.45" x2="567.47" y2="90.17" stroke="#F5821F" stroke-width="0.6" opacity="0.75"/>
<line x1="565.87" y1="73.45" x2="569.07" y2="73.45" stroke="#F5821F" stroke-width="0.6" opacity="0.75"/>
<line x1="565.87" y1="90.17" x2="569.07" y2="90.17" stroke="#F5821F" stroke-width="0.6" opacity="0.75"/>
<line x1="581.90" y1="84.60" x2="581.90" y2="99.47" stroke="#F5821F" stroke-width="0.6" opacity="0.75"/>
<line x1="580.30" y1="84.60" x2="583.50" y2="84.60" stroke="#F5821F" stroke-width="0.6" opacity="0.75"/>
<line x1="580.30" y1="99.47" x2="583.50" y2="99.47" stroke="#F5821F" stroke-width="0.6" opacity="0.75"/>
<line x1="596.33" y1="89.25" x2="596.33" y2="104.11" stroke="#F5821F" stroke-width="0.6" opacity="0.75"/>
<line x1="594.73" y1="89.25" x2="597.93" y2="89.25" stroke="#F5821F" stroke-width="0.6" opacity="0.75"/>
<line x1="594.73" y1="104.11" x2="597.93" y2="104.11" stroke="#F5821F" stroke-width="0.6" opacity="0.75"/>
<polyline points="437.60,53.01 452.03,57.65 466.46,66.02 480.89,74.38 495.32,79.95 509.75,83.21 524.18,79.02 538.61,85.06 553.04,94.82 567.47,81.81 581.90,92.03 596.33,96.68" fill="none" stroke="#F5821F" stroke-width="2.2" stroke-linejoin="round"/>
<circle cx="437.60" cy="53.01" r="1.7" fill="#F5821F" stroke="#F5821F" stroke-width="0.3"/>
<circle cx="452.03" cy="57.65" r="1.7" fill="#F5821F" stroke="#F5821F" stroke-width="0.3"/>
<circle cx="466.46" cy="66.02" r="1.7" fill="#F5821F" stroke="#F5821F" stroke-width="0.3"/>
<circle cx="480.89" cy="74.38" r="1.7" fill="#F5821F" stroke="#F5821F" stroke-width="0.3"/>
<circle cx="495.32" cy="79.95" r="1.7" fill="#F5821F" stroke="#F5821F" stroke-width="0.3"/>
<circle cx="509.75" cy="83.21" r="1.7" fill="#F5821F" stroke="#F5821F" stroke-width="0.3"/>
<circle cx="524.18" cy="79.02" r="1.7" fill="#F5821F" stroke="#F5821F" stroke-width="0.3"/>
<circle cx="538.61" cy="85.06" r="1.7" fill="#F5821F" stroke="#F5821F" stroke-width="0.3"/>
<circle cx="553.04" cy="94.82" r="1.7" fill="#F5821F" stroke="#F5821F" stroke-width="0.3"/>
<circle cx="567.47" cy="81.81" r="1.7" fill="#F5821F" stroke="#F5821F" stroke-width="0.3"/>
<circle cx="581.90" cy="92.03" r="1.7" fill="#F5821F" stroke="#F5821F" stroke-width="0.3"/>
<circle cx="596.33" cy="96.68" r="1.7" fill="#F5821F" stroke="#F5821F" stroke-width="0.3"/>
<line x1="437.60" y1="55.80" x2="437.60" y2="78.10" stroke="#E8212B" stroke-width="0.6" opacity="0.75"/>
<line x1="436.00" y1="55.80" x2="439.20" y2="55.80" stroke="#E8212B" stroke-width="0.6" opacity="0.75"/>
<line x1="436.00" y1="78.10" x2="439.20" y2="78.10" stroke="#E8212B" stroke-width="0.6" opacity="0.75"/>
<line x1="452.03" y1="60.44" x2="452.03" y2="86.46" stroke="#E8212B" stroke-width="0.6" opacity="0.75"/>
<line x1="450.43" y1="60.44" x2="453.63" y2="60.44" stroke="#E8212B" stroke-width="0.6" opacity="0.75"/>
<line x1="450.43" y1="86.46" x2="453.63" y2="86.46" stroke="#E8212B" stroke-width="0.6" opacity="0.75"/>
<line x1="466.46" y1="76.24" x2="466.46" y2="96.68" stroke="#E8212B" stroke-width="0.6" opacity="0.75"/>
<line x1="464.86" y1="76.24" x2="468.06" y2="76.24" stroke="#E8212B" stroke-width="0.6" opacity="0.75"/>
<line x1="464.86" y1="96.68" x2="468.06" y2="96.68" stroke="#E8212B" stroke-width="0.6" opacity="0.75"/>
<line x1="480.89" y1="69.73" x2="480.89" y2="86.46" stroke="#E8212B" stroke-width="0.6" opacity="0.75"/>
<line x1="479.29" y1="69.73" x2="482.49" y2="69.73" stroke="#E8212B" stroke-width="0.6" opacity="0.75"/>
<line x1="479.29" y1="86.46" x2="482.49" y2="86.46" stroke="#E8212B" stroke-width="0.6" opacity="0.75"/>
<line x1="495.32" y1="70.66" x2="495.32" y2="92.96" stroke="#E8212B" stroke-width="0.6" opacity="0.75"/>
<line x1="493.72" y1="70.66" x2="496.92" y2="70.66" stroke="#E8212B" stroke-width="0.6" opacity="0.75"/>
<line x1="493.72" y1="92.96" x2="496.92" y2="92.96" stroke="#E8212B" stroke-width="0.6" opacity="0.75"/>
<line x1="509.75" y1="64.62" x2="509.75" y2="88.78" stroke="#E8212B" stroke-width="0.6" opacity="0.75"/>
<line x1="508.15" y1="64.62" x2="511.35" y2="64.62" stroke="#E8212B" stroke-width="0.6" opacity="0.75"/>
<line x1="508.15" y1="88.78" x2="511.35" y2="88.78" stroke="#E8212B" stroke-width="0.6" opacity="0.75"/>
<line x1="524.18" y1="79.95" x2="524.18" y2="102.25" stroke="#E8212B" stroke-width="0.6" opacity="0.75"/>
<line x1="522.58" y1="79.95" x2="525.78" y2="79.95" stroke="#E8212B" stroke-width="0.6" opacity="0.75"/>
<line x1="522.58" y1="102.25" x2="525.78" y2="102.25" stroke="#E8212B" stroke-width="0.6" opacity="0.75"/>
<line x1="538.61" y1="91.10" x2="538.61" y2="111.55" stroke="#E8212B" stroke-width="0.6" opacity="0.75"/>
<line x1="537.01" y1="91.10" x2="540.21" y2="91.10" stroke="#E8212B" stroke-width="0.6" opacity="0.75"/>
<line x1="537.01" y1="111.55" x2="540.21" y2="111.55" stroke="#E8212B" stroke-width="0.6" opacity="0.75"/>
<line x1="553.04" y1="112.47" x2="553.04" y2="119.91" stroke="#E8212B" stroke-width="0.6" opacity="0.75"/>
<line x1="551.44" y1="112.47" x2="554.64" y2="112.47" stroke="#E8212B" stroke-width="0.6" opacity="0.75"/>
<line x1="551.44" y1="119.91" x2="554.64" y2="119.91" stroke="#E8212B" stroke-width="0.6" opacity="0.75"/>
<line x1="567.47" y1="92.96" x2="567.47" y2="113.40" stroke="#E8212B" stroke-width="0.6" opacity="0.75"/>
<line x1="565.87" y1="92.96" x2="569.07" y2="92.96" stroke="#E8212B" stroke-width="0.6" opacity="0.75"/>
<line x1="565.87" y1="113.40" x2="569.07" y2="113.40" stroke="#E8212B" stroke-width="0.6" opacity="0.75"/>
<line x1="581.90" y1="89.25" x2="581.90" y2="107.83" stroke="#E8212B" stroke-width="0.6" opacity="0.75"/>
<line x1="580.30" y1="89.25" x2="583.50" y2="89.25" stroke="#E8212B" stroke-width="0.6" opacity="0.75"/>
<line x1="580.30" y1="107.83" x2="583.50" y2="107.83" stroke="#E8212B" stroke-width="0.6" opacity="0.75"/>
<line x1="596.33" y1="100.77" x2="596.33" y2="113.78" stroke="#E8212B" stroke-width="0.6" opacity="0.75"/>
<line x1="594.73" y1="100.77" x2="597.93" y2="100.77" stroke="#E8212B" stroke-width="0.6" opacity="0.75"/>
<line x1="594.73" y1="113.78" x2="597.93" y2="113.78" stroke="#E8212B" stroke-width="0.6" opacity="0.75"/>
<polyline points="437.60,66.95 452.03,73.45 466.46,86.46 480.89,78.10 495.32,81.81 509.75,76.70 524.18,91.10 538.61,101.32 553.04,116.19 567.47,103.18 581.90,98.54 596.33,107.27" fill="none" stroke="#E8212B" stroke-width="2.2" stroke-linejoin="round"/>
<circle cx="437.60" cy="66.95" r="1.7" fill="#E8212B" stroke="#E8212B" stroke-width="0.3"/>
<circle cx="452.03" cy="73.45" r="1.7" fill="#E8212B" stroke="#E8212B" stroke-width="0.3"/>
<circle cx="466.46" cy="86.46" r="1.7" fill="#E8212B" stroke="#E8212B" stroke-width="0.3"/>
<circle cx="480.89" cy="78.10" r="1.7" fill="#E8212B" stroke="#E8212B" stroke-width="0.3"/>
<circle cx="495.32" cy="81.81" r="1.7" fill="#E8212B" stroke="#E8212B" stroke-width="0.3"/>
<circle cx="509.75" cy="76.70" r="1.7" fill="#E8212B" stroke="#E8212B" stroke-width="0.3"/>
<circle cx="524.18" cy="91.10" r="1.7" fill="#E8212B" stroke="#E8212B" stroke-width="0.3"/>
<circle cx="538.61" cy="101.32" r="1.7" fill="#E8212B" stroke="#E8212B" stroke-width="0.3"/>
<circle cx="553.04" cy="116.19" r="1.7" fill="#E8212B" stroke="#E8212B" stroke-width="0.3"/>
<circle cx="567.47" cy="103.18" r="1.7" fill="#E8212B" stroke="#E8212B" stroke-width="0.3"/>
<circle cx="581.90" cy="98.54" r="1.7" fill="#E8212B" stroke="#E8212B" stroke-width="0.3"/>
<circle cx="596.33" cy="107.27" r="1.7" fill="#E8212B" stroke="#E8212B" stroke-width="0.3"/>
<line x1="572.60" y1="7.50" x2="579.80" y2="7.50" stroke="#1a1a1a" stroke-width="1.3"/>
<circle cx="576.20" cy="7.50" r="1.4" fill="#1a1a1a" stroke="#1a1a1a" stroke-width="0.2"/>
<text x="583.4" y="10.2" font-size="7.2" text-anchor="start" fill="#383838" font-style="italic">Cgas<tspan dy="-3" font-size="70%">+/+</tspan></text>
<line x1="572.60" y1="15.68" x2="579.80" y2="15.68" stroke="#9a9a9a" stroke-width="1.3"/>
<circle cx="576.20" cy="15.68" r="1.4" fill="#9a9a9a" stroke="#9a9a9a" stroke-width="0.2"/>
<text x="583.4" y="18.38" font-size="7.2" text-anchor="start" fill="#383838" font-style="italic">Cgas<tspan dy="-3" font-size="70%">+/−</tspan></text>
<line x1="572.60" y1="23.86" x2="579.80" y2="23.86" stroke="#cfcfcf" stroke-width="1.3"/>
<circle cx="576.20" cy="23.86" r="1.2" fill="#fff" stroke="#555" stroke-width="0.5"/>
<text x="583.4" y="26.56" font-size="7.2" text-anchor="start" fill="#383838" font-style="italic">Cgas<tspan dy="-3" font-size="70%">−/−</tspan></text>
<line x1="572.60" y1="32.04" x2="579.80" y2="32.04" stroke="#FBB117" stroke-width="1.3"/>
<circle cx="576.20" cy="32.04" r="1.4" fill="#FBB117" stroke="#FBB117" stroke-width="0.2"/>
<text x="583.4" y="34.74" font-size="7.2" text-anchor="start" fill="#383838" font-style="italic">P301S Cgas<tspan dy="-3" font-size="70%">+/+</tspan></text>
<line x1="572.60" y1="40.22" x2="579.80" y2="40.22" stroke="#F5821F" stroke-width="1.3"/>
<circle cx="576.20" cy="40.22" r="1.4" fill="#F5821F" stroke="#F5821F" stroke-width="0.2"/>
<text x="583.4" y="42.92" font-size="7.2" text-anchor="start" fill="#383838" font-style="italic">P301S Cgas<tspan dy="-3" font-size="70%">+/−</tspan></text>
<line x1="572.60" y1="48.40" x2="579.80" y2="48.40" stroke="#E8212B" stroke-width="1.3"/>
<circle cx="576.20" cy="48.40" r="1.4" fill="#E8212B" stroke="#E8212B" stroke-width="0.2"/>
<text x="583.4" y="51.1" font-size="7.2" text-anchor="start" fill="#383838" font-style="italic">P301S Cgas<tspan dy="-3" font-size="70%">−/−</tspan></text>
<path d="M598.6,68.9 H602.6 V104 H598.6" fill="none" stroke="#444" stroke-width="0.9"/>
<path d="M616.2,69.7 H623 V106.2 H616.2" fill="none" stroke="#444" stroke-width="0.9"/>
<path d="M639,69.7 H642.6 V96 H639" fill="none" stroke="#444" stroke-width="0.9"/>
<path d="M603.5,90.5 H607.3 V97.8 H603.5" fill="none" stroke="#444" stroke-width="0.9"/>
<path d="M603.5,100.5 H607.3 V107.6 H603.5" fill="none" stroke="#444" stroke-width="0.9"/>
<text x="603.8" y="92.7" font-size="11.4" text-anchor="start" fill="#333">****</text>
<text x="623.9" y="92.7" font-size="11.4" text-anchor="start" fill="#333">****</text>
<text x="644.7" y="92.7" font-size="11.4" text-anchor="start" fill="#333">***</text>
<text x="609.9" y="95.3" font-size="7" text-anchor="start" fill="#383838">NS</text>
<text x="609.9" y="105.5" font-size="7" text-anchor="start" fill="#383838">NS</text>
<text x="368.5" y="177" font-size="12.3" text-anchor="start" fill="#000" font-weight="bold">d</text>
<text x="520" y="175.3" font-size="9.3" text-anchor="middle" fill="#383838">24-h probe</text>
<line x1="429.40" y1="179.00" x2="429.40" y2="293.30" stroke="#c4c4c4" stroke-width="1.2"/>
<line x1="428.80" y1="293.30" x2="611.60" y2="293.30" stroke="#777" stroke-width="0.9"/>
<line x1="425.40" y1="293.30" x2="429.00" y2="293.30" stroke="#777" stroke-width="0.8"/>
<text x="422.4" y="296.3" font-size="8.5" text-anchor="end" fill="#383838">0</text>
<line x1="425.40" y1="264.73" x2="429.00" y2="264.73" stroke="#777" stroke-width="0.8"/>
<text x="422.4" y="267.725" font-size="8.5" text-anchor="end" fill="#383838">20</text>
<line x1="425.40" y1="236.15" x2="429.00" y2="236.15" stroke="#777" stroke-width="0.8"/>
<text x="422.4" y="239.15" font-size="8.5" text-anchor="end" fill="#383838">40</text>
<line x1="425.40" y1="207.57" x2="429.00" y2="207.57" stroke="#777" stroke-width="0.8"/>
<text x="422.4" y="210.575" font-size="8.5" text-anchor="end" fill="#383838">60</text>
<line x1="425.40" y1="179.00" x2="429.00" y2="179.00" stroke="#777" stroke-width="0.8"/>
<text x="422.4" y="182.0" font-size="8.5" text-anchor="end" fill="#383838">80</text>
<text x="391" y="236.5" font-size="9.2" text-anchor="middle" fill="#383838" transform="rotate(-90 391 236.5)">Percentage of time in quadrant</text>
<text x="402" y="236.5" font-size="9.2" text-anchor="middle" fill="#383838" transform="rotate(-90 402 236.5)">(mean ± s.e.m.)</text>
<rect x="437.60" y="244.72" width="9.50" height="48.58" fill="#1a1a1a"/>
<line x1="442.35" y1="238.29" x2="442.35" y2="251.15" stroke="#333" stroke-width="0.8"/>
<line x1="439.95" y1="238.29" x2="444.75" y2="238.29" stroke="#333" stroke-width="0.8"/>
<line x1="439.95" y1="251.15" x2="444.75" y2="251.15" stroke="#333" stroke-width="0.8"/>
<circle cx="442.35" cy="206.86" r="1.25" fill="#fff" stroke="#333" stroke-width="0.65"/>
<circle cx="442.35" cy="221.86" r="1.25" fill="#fff" stroke="#333" stroke-width="0.65"/>
<circle cx="442.35" cy="230.44" r="1.25" fill="#fff" stroke="#333" stroke-width="0.65"/>
<circle cx="442.35" cy="233.29" r="1.25" fill="#fff" stroke="#333" stroke-width="0.65"/>
<circle cx="442.35" cy="239.01" r="1.25" fill="#fff" stroke="#333" stroke-width="0.65"/>
<circle cx="444.35" cy="241.87" r="1.25" fill="#fff" stroke="#333" stroke-width="0.65"/>
<circle cx="442.35" cy="249.01" r="1.25" fill="#fff" stroke="#333" stroke-width="0.65"/>
<circle cx="442.35" cy="253.30" r="1.25" fill="#fff" stroke="#333" stroke-width="0.65"/>
<circle cx="442.35" cy="260.44" r="1.25" fill="#fff" stroke="#333" stroke-width="0.65"/>
<circle cx="442.35" cy="267.58" r="1.25" fill="#fff" stroke="#333" stroke-width="0.65"/>
<circle cx="442.35" cy="281.87" r="1.25" fill="#fff" stroke="#333" stroke-width="0.65"/>
<rect x="451.00" y="262.37" width="8.60" height="30.93" fill="#fff" stroke="#1a1a1a" stroke-width="1.0"/>
<line x1="455.30" y1="259.72" x2="455.30" y2="264.01" stroke="#333" stroke-width="0.8"/>
<line x1="452.90" y1="259.72" x2="457.70" y2="259.72" stroke="#333" stroke-width="0.8"/>
<line x1="452.90" y1="264.01" x2="457.70" y2="264.01" stroke="#333" stroke-width="0.8"/>
<circle cx="455.30" cy="249.72" r="1.25" fill="#fff" stroke="#333" stroke-width="0.65"/>
<circle cx="455.30" cy="254.72" r="1.25" fill="#fff" stroke="#333" stroke-width="0.65"/>
<circle cx="452.80" cy="258.30" r="1.25" fill="#fff" stroke="#333" stroke-width="0.65"/>
<circle cx="457.80" cy="259.01" r="1.25" fill="#fff" stroke="#333" stroke-width="0.65"/>
<circle cx="455.30" cy="261.15" r="1.25" fill="#fff" stroke="#333" stroke-width="0.65"/>
<circle cx="452.80" cy="263.30" r="1.25" fill="#fff" stroke="#333" stroke-width="0.65"/>
<circle cx="457.80" cy="263.30" r="1.25" fill="#fff" stroke="#333" stroke-width="0.65"/>
<circle cx="455.30" cy="265.44" r="1.25" fill="#fff" stroke="#333" stroke-width="0.65"/>
<circle cx="452.80" cy="266.87" r="1.25" fill="#fff" stroke="#333" stroke-width="0.65"/>
<circle cx="457.80" cy="267.58" r="1.25" fill="#fff" stroke="#333" stroke-width="0.65"/>
<circle cx="455.30" cy="270.44" r="1.25" fill="#fff" stroke="#333" stroke-width="0.65"/>
<circle cx="455.30" cy="274.73" r="1.25" fill="#fff" stroke="#333" stroke-width="0.65"/>
<rect x="466.40" y="236.15" width="9.50" height="57.15" fill="#a0a0a0"/>
<line x1="471.15" y1="229.01" x2="471.15" y2="243.29" stroke="#333" stroke-width="0.8"/>
<line x1="468.75" y1="229.01" x2="473.55" y2="229.01" stroke="#333" stroke-width="0.8"/>
<line x1="468.75" y1="243.29" x2="473.55" y2="243.29" stroke="#333" stroke-width="0.8"/>
<circle cx="471.15" cy="192.57" r="1.25" fill="#fff" stroke="#333" stroke-width="0.65"/>
<circle cx="471.15" cy="210.43" r="1.25" fill="#fff" stroke="#333" stroke-width="0.65"/>
<circle cx="468.65" cy="220.43" r="1.25" fill="#fff" stroke="#333" stroke-width="0.65"/>
<circle cx="473.65" cy="220.43" r="1.25" fill="#fff" stroke="#333" stroke-width="0.65"/>
<circle cx="471.15" cy="230.44" r="1.25" fill="#fff" stroke="#333" stroke-width="0.65"/>
<circle cx="471.15" cy="239.01" r="1.25" fill="#fff" stroke="#333" stroke-width="0.65"/>
<circle cx="471.15" cy="246.15" r="1.25" fill="#fff" stroke="#333" stroke-width="0.65"/>
<circle cx="471.15" cy="250.44" r="1.25" fill="#fff" stroke="#333" stroke-width="0.65"/>
<circle cx="471.15" cy="254.72" r="1.25" fill="#fff" stroke="#333" stroke-width="0.65"/>
<circle cx="471.15" cy="257.58" r="1.25" fill="#fff" stroke="#333" stroke-width="0.65"/>
<circle cx="471.15" cy="261.87" r="1.25" fill="#fff" stroke="#333" stroke-width="0.65"/>
<rect x="479.80" y="265.94" width="8.60" height="27.36" fill="#fff" stroke="#1a1a1a" stroke-width="1.0"/>
<line x1="484.10" y1="263.30" x2="484.10" y2="267.58" stroke="#333" stroke-width="0.8"/>
<line x1="481.70" y1="263.30" x2="486.50" y2="263.30" stroke="#333" stroke-width="0.8"/>
<line x1="481.70" y1="267.58" x2="486.50" y2="267.58" stroke="#333" stroke-width="0.8"/>
<circle cx="484.10" cy="256.15" r="1.25" fill="#fff" stroke="#333" stroke-width="0.65"/>
<circle cx="481.60" cy="258.30" r="1.25" fill="#fff" stroke="#333" stroke-width="0.65"/>
<circle cx="486.60" cy="258.30" r="1.25" fill="#fff" stroke="#333" stroke-width="0.65"/>
<circle cx="484.10" cy="260.44" r="1.25" fill="#fff" stroke="#333" stroke-width="0.65"/>
<circle cx="481.60" cy="261.87" r="1.25" fill="#fff" stroke="#333" stroke-width="0.65"/>
<circle cx="486.60" cy="261.87" r="1.25" fill="#fff" stroke="#333" stroke-width="0.65"/>
<circle cx="484.10" cy="264.73" r="1.25" fill="#fff" stroke="#333" stroke-width="0.65"/>
<circle cx="481.60" cy="270.44" r="1.25" fill="#fff" stroke="#333" stroke-width="0.65"/>
<circle cx="486.60" cy="270.44" r="1.25" fill="#fff" stroke="#333" stroke-width="0.65"/>
<circle cx="484.10" cy="274.01" r="1.25" fill="#fff" stroke="#333" stroke-width="0.65"/>
<circle cx="484.10" cy="279.01" r="1.25" fill="#fff" stroke="#333" stroke-width="0.65"/>
<rect x="495.30" y="246.15" width="9.50" height="47.15" fill="#dcdcdc"/>
<line x1="500.05" y1="240.44" x2="500.05" y2="251.87" stroke="#333" stroke-width="0.8"/>
<line x1="497.65" y1="240.44" x2="502.45" y2="240.44" stroke="#333" stroke-width="0.8"/>
<line x1="497.65" y1="251.87" x2="502.45" y2="251.87" stroke="#333" stroke-width="0.8"/>
<circle cx="500.05" cy="202.57" r="1.25" fill="#fff" stroke="#333" stroke-width="0.65"/>
<circle cx="497.55" cy="229.01" r="1.25" fill="#fff" stroke="#333" stroke-width="0.65"/>
<circle cx="502.55" cy="228.29" r="1.25" fill="#fff" stroke="#333" stroke-width="0.65"/>
<circle cx="500.05" cy="231.86" r="1.25" fill="#fff" stroke="#333" stroke-width="0.65"/>
<circle cx="497.55" cy="239.01" r="1.25" fill="#fff" stroke="#333" stroke-width="0.65"/>
<circle cx="502.55" cy="241.87" r="1.25" fill="#fff" stroke="#333" stroke-width="0.65"/>
<circle cx="500.05" cy="244.72" r="1.25" fill="#fff" stroke="#333" stroke-width="0.65"/>
<circle cx="500.05" cy="257.58" r="1.25" fill="#fff" stroke="#333" stroke-width="0.65"/>
<circle cx="500.05" cy="264.73" r="1.25" fill="#fff" stroke="#333" stroke-width="0.65"/>
<circle cx="500.05" cy="273.30" r="1.25" fill="#fff" stroke="#333" stroke-width="0.65"/>
<circle cx="500.05" cy="282.58" r="1.25" fill="#fff" stroke="#333" stroke-width="0.65"/>
<rect x="508.70" y="262.37" width="8.80" height="30.93" fill="#fff" stroke="#dcdcdc" stroke-width="1.0"/>
<line x1="513.10" y1="259.72" x2="513.10" y2="264.01" stroke="#333" stroke-width="0.8"/>
<line x1="510.70" y1="259.72" x2="515.50" y2="259.72" stroke="#333" stroke-width="0.8"/>
<line x1="510.70" y1="264.01" x2="515.50" y2="264.01" stroke="#333" stroke-width="0.8"/>
<circle cx="513.10" cy="249.72" r="1.25" fill="#fff" stroke="#333" stroke-width="0.65"/>
<circle cx="513.10" cy="252.58" r="1.25" fill="#fff" stroke="#333" stroke-width="0.65"/>
<circle cx="513.10" cy="256.15" r="1.25" fill="#fff" stroke="#333" stroke-width="0.65"/>
<circle cx="513.10" cy="259.01" r="1.25" fill="#fff" stroke="#333" stroke-width="0.65"/>
<circle cx="510.60" cy="261.15" r="1.25" fill="#fff" stroke="#333" stroke-width="0.65"/>
<circle cx="515.60" cy="261.15" r="1.25" fill="#fff" stroke="#333" stroke-width="0.65"/>
<circle cx="513.10" cy="263.30" r="1.25" fill="#fff" stroke="#333" stroke-width="0.65"/>
<circle cx="510.60" cy="265.44" r="1.25" fill="#fff" stroke="#333" stroke-width="0.65"/>
<circle cx="515.60" cy="266.15" r="1.25" fill="#fff" stroke="#333" stroke-width="0.65"/>
<circle cx="513.10" cy="268.30" r="1.25" fill="#fff" stroke="#333" stroke-width="0.65"/>
<circle cx="516.10" cy="267.58" r="1.25" fill="#fff" stroke="#333" stroke-width="0.65"/>
<circle cx="513.10" cy="276.16" r="1.25" fill="#fff" stroke="#333" stroke-width="0.65"/>
<rect x="524.20" y="254.72" width="9.50" height="38.58" fill="#FBB117"/>
<line x1="528.95" y1="249.01" x2="528.95" y2="260.44" stroke="#333" stroke-width="0.8"/>
<line x1="526.55" y1="249.01" x2="531.35" y2="249.01" stroke="#333" stroke-width="0.8"/>
<line x1="526.55" y1="260.44" x2="531.35" y2="260.44" stroke="#333" stroke-width="0.8"/>
<circle cx="528.95" cy="226.86" r="1.25" fill="#fff" stroke="#333" stroke-width="0.65"/>
<circle cx="528.95" cy="242.58" r="1.25" fill="#fff" stroke="#333" stroke-width="0.65"/>
<circle cx="528.95" cy="254.01" r="1.25" fill="#fff" stroke="#333" stroke-width="0.65"/>
<circle cx="526.45" cy="257.58" r="1.25" fill="#fff" stroke="#333" stroke-width="0.65"/>
<circle cx="531.45" cy="257.58" r="1.25" fill="#fff" stroke="#333" stroke-width="0.65"/>
<circle cx="531.45" cy="261.15" r="1.25" fill="#fff" stroke="#333" stroke-width="0.65"/>
<circle cx="528.95" cy="264.73" r="1.25" fill="#fff" stroke="#333" stroke-width="0.65"/>
<circle cx="528.95" cy="282.58" r="1.25" fill="#fff" stroke="#333" stroke-width="0.65"/>
<rect x="538.10" y="258.08" width="8.60" height="35.22" fill="#fff" stroke="#FBB117" stroke-width="1.0"/>
<line x1="542.40" y1="255.87" x2="542.40" y2="259.30" stroke="#333" stroke-width="0.8"/>
<line x1="540.00" y1="255.87" x2="544.80" y2="255.87" stroke="#333" stroke-width="0.8"/>
<line x1="540.00" y1="259.30" x2="544.80" y2="259.30" stroke="#333" stroke-width="0.8"/>
<circle cx="542.40" cy="249.72" r="1.25" fill="#fff" stroke="#333" stroke-width="0.65"/>
<circle cx="542.40" cy="256.15" r="1.25" fill="#fff" stroke="#333" stroke-width="0.65"/>
<circle cx="539.90" cy="258.30" r="1.25" fill="#fff" stroke="#333" stroke-width="0.65"/>
<circle cx="544.90" cy="258.30" r="1.25" fill="#fff" stroke="#333" stroke-width="0.65"/>
<circle cx="542.40" cy="260.44" r="1.25" fill="#fff" stroke="#333" stroke-width="0.65"/>
<circle cx="542.40" cy="263.30" r="1.25" fill="#fff" stroke="#333" stroke-width="0.65"/>
<circle cx="542.40" cy="265.44" r="1.25" fill="#fff" stroke="#333" stroke-width="0.65"/>
<circle cx="542.40" cy="268.30" r="1.25" fill="#fff" stroke="#333" stroke-width="0.65"/>
<rect x="553.40" y="250.44" width="9.50" height="42.86" fill="#F5821F"/>
<line x1="558.15" y1="246.15" x2="558.15" y2="254.72" stroke="#333" stroke-width="0.8"/>
<line x1="555.75" y1="246.15" x2="560.55" y2="246.15" stroke="#333" stroke-width="0.8"/>
<line x1="555.75" y1="254.72" x2="560.55" y2="254.72" stroke="#333" stroke-width="0.8"/>
<circle cx="558.15" cy="224.01" r="1.25" fill="#fff" stroke="#333" stroke-width="0.65"/>
<circle cx="555.65" cy="225.43" r="1.25" fill="#fff" stroke="#333" stroke-width="0.65"/>
<circle cx="560.65" cy="224.72" r="1.25" fill="#fff" stroke="#333" stroke-width="0.65"/>
<circle cx="558.15" cy="229.01" r="1.25" fill="#fff" stroke="#333" stroke-width="0.65"/>
<circle cx="555.15" cy="231.15" r="1.25" fill="#fff" stroke="#333" stroke-width="0.65"/>
<circle cx="558.15" cy="231.86" r="1.25" fill="#fff" stroke="#333" stroke-width="0.65"/>
<circle cx="561.15" cy="229.72" r="1.25" fill="#fff" stroke="#333" stroke-width="0.65"/>
<circle cx="558.15" cy="236.15" r="1.25" fill="#fff" stroke="#333" stroke-width="0.65"/>
<circle cx="558.15" cy="241.15" r="1.25" fill="#fff" stroke="#333" stroke-width="0.65"/>
<circle cx="558.15" cy="246.15" r="1.25" fill="#fff" stroke="#333" stroke-width="0.65"/>
<circle cx="556.15" cy="250.44" r="1.25" fill="#fff" stroke="#333" stroke-width="0.65"/>
<circle cx="560.15" cy="251.15" r="1.25" fill="#fff" stroke="#333" stroke-width="0.65"/>
<circle cx="558.15" cy="254.01" r="1.25" fill="#fff" stroke="#333" stroke-width="0.65"/>
<circle cx="558.15" cy="257.58" r="1.25" fill="#fff" stroke="#333" stroke-width="0.65"/>
<circle cx="558.15" cy="264.73" r="1.25" fill="#fff" stroke="#333" stroke-width="0.65"/>
<circle cx="558.15" cy="271.87" r="1.25" fill="#fff" stroke="#333" stroke-width="0.65"/>
<circle cx="555.65" cy="276.16" r="1.25" fill="#fff" stroke="#333" stroke-width="0.65"/>
<circle cx="560.65" cy="275.44" r="1.25" fill="#fff" stroke="#333" stroke-width="0.65"/>
<circle cx="558.15" cy="276.87" r="1.25" fill="#fff" stroke="#333" stroke-width="0.65"/>
<circle cx="560.65" cy="273.30" r="1.25" fill="#fff" stroke="#333" stroke-width="0.65"/>
<rect x="566.90" y="259.51" width="8.60" height="33.79" fill="#fff" stroke="#F5821F" stroke-width="1.0"/>
<line x1="571.20" y1="256.87" x2="571.20" y2="261.15" stroke="#333" stroke-width="0.8"/>
<line x1="568.80" y1="256.87" x2="573.60" y2="256.87" stroke="#333" stroke-width="0.8"/>
<line x1="568.80" y1="261.15" x2="573.60" y2="261.15" stroke="#333" stroke-width="0.8"/>
<circle cx="568.70" cy="251.87" r="1.25" fill="#fff" stroke="#333" stroke-width="0.65"/>
<circle cx="571.20" cy="251.15" r="1.25" fill="#fff" stroke="#333" stroke-width="0.65"/>
<circle cx="573.70" cy="251.87" r="1.25" fill="#fff" stroke="#333" stroke-width="0.65"/>
<circle cx="568.70" cy="256.15" r="1.25" fill="#fff" stroke="#333" stroke-width="0.65"/>
<circle cx="571.20" cy="255.44" r="1.25" fill="#fff" stroke="#333" stroke-width="0.65"/>
<circle cx="573.70" cy="256.87" r="1.25" fill="#fff" stroke="#333" stroke-width="0.65"/>
<circle cx="568.70" cy="259.72" r="1.25" fill="#fff" stroke="#333" stroke-width="0.65"/>
<circle cx="571.20" cy="259.01" r="1.25" fill="#fff" stroke="#333" stroke-width="0.65"/>
<circle cx="573.70" cy="260.44" r="1.25" fill="#fff" stroke="#333" stroke-width="0.65"/>
<circle cx="571.20" cy="262.58" r="1.25" fill="#fff" stroke="#333" stroke-width="0.65"/>
<circle cx="568.70" cy="264.73" r="1.25" fill="#fff" stroke="#333" stroke-width="0.65"/>
<circle cx="573.70" cy="264.73" r="1.25" fill="#fff" stroke="#333" stroke-width="0.65"/>
<circle cx="571.20" cy="266.87" r="1.25" fill="#fff" stroke="#333" stroke-width="0.65"/>
<circle cx="567.70" cy="268.30" r="1.25" fill="#fff" stroke="#333" stroke-width="0.65"/>
<circle cx="574.70" cy="269.01" r="1.25" fill="#fff" stroke="#333" stroke-width="0.65"/>
<circle cx="571.20" cy="269.73" r="1.25" fill="#fff" stroke="#333" stroke-width="0.65"/>
<rect x="582.20" y="235.44" width="9.50" height="57.86" fill="#E8212B"/>
<line x1="586.95" y1="226.86" x2="586.95" y2="244.01" stroke="#333" stroke-width="0.8"/>
<line x1="584.55" y1="226.86" x2="589.35" y2="226.86" stroke="#333" stroke-width="0.8"/>
<line x1="584.55" y1="244.01" x2="589.35" y2="244.01" stroke="#333" stroke-width="0.8"/>
<circle cx="586.95" cy="210.43" r="1.25" fill="#fff" stroke="#333" stroke-width="0.65"/>
<circle cx="586.95" cy="223.29" r="1.25" fill="#fff" stroke="#333" stroke-width="0.65"/>
<circle cx="586.95" cy="227.58" r="1.25" fill="#fff" stroke="#333" stroke-width="0.65"/>
<circle cx="586.95" cy="232.58" r="1.25" fill="#fff" stroke="#333" stroke-width="0.65"/>
<circle cx="586.95" cy="254.72" r="1.25" fill="#fff" stroke="#333" stroke-width="0.65"/>
<circle cx="586.95" cy="264.73" r="1.25" fill="#fff" stroke="#333" stroke-width="0.65"/>
<rect x="596.10" y="265.94" width="8.40" height="27.36" fill="#fff" stroke="#E8212B" stroke-width="1.0"/>
<line x1="600.30" y1="262.58" x2="600.30" y2="268.30" stroke="#333" stroke-width="0.8"/>
<line x1="597.90" y1="262.58" x2="602.70" y2="262.58" stroke="#333" stroke-width="0.8"/>
<line x1="597.90" y1="268.30" x2="602.70" y2="268.30" stroke="#333" stroke-width="0.8"/>
<circle cx="600.30" cy="255.44" r="1.25" fill="#fff" stroke="#333" stroke-width="0.65"/>
<circle cx="600.30" cy="259.01" r="1.25" fill="#fff" stroke="#333" stroke-width="0.65"/>
<circle cx="597.80" cy="266.15" r="1.25" fill="#fff" stroke="#333" stroke-width="0.65"/>
<circle cx="602.80" cy="266.15" r="1.25" fill="#fff" stroke="#333" stroke-width="0.65"/>
<circle cx="600.30" cy="269.73" r="1.25" fill="#fff" stroke="#333" stroke-width="0.65"/>
<circle cx="600.30" cy="273.30" r="1.25" fill="#fff" stroke="#333" stroke-width="0.65"/>
<line x1="429.40" y1="257.60" x2="610.00" y2="257.60" stroke="#2f5fb3" stroke-width="0.9" stroke-dasharray="2 1.6"/>
<rect x="610.20" y="254.00" width="25.80" height="7.00" fill="#3c66b5"/>
<text x="623.1" y="259.6" font-size="6.0" text-anchor="middle" fill="#fff">Chance</text>
<text x="442.35" y="302.8" font-size="8.5" text-anchor="middle" fill="#383838">T</text>
<text x="455.3" y="302.8" font-size="8.5" text-anchor="middle" fill="#383838">O</text>
<line x1="437.60" y1="305.80" x2="460.10" y2="305.80" stroke="#666" stroke-width="1.5"/>
<text x="448.85" y="314.4" font-size="8.5" text-anchor="middle" fill="#383838">+/+</text>
<text x="471.15" y="302.8" font-size="8.5" text-anchor="middle" fill="#383838">T</text>
<text x="484.1" y="302.8" font-size="8.5" text-anchor="middle" fill="#383838">O</text>
<line x1="466.40" y1="305.80" x2="488.90" y2="305.80" stroke="#cfcfcf" stroke-width="1.5"/>
<text x="477.65000000000003" y="314.4" font-size="8.5" text-anchor="middle" fill="#383838">+/−</text>
<text x="500.05" y="302.8" font-size="8.5" text-anchor="middle" fill="#383838">T</text>
<text x="513.1" y="302.8" font-size="8.5" text-anchor="middle" fill="#383838">O</text>
<line x1="495.30" y1="305.80" x2="518.00" y2="305.80" stroke="#e6e6e6" stroke-width="1.5"/>
<text x="506.65" y="314.4" font-size="8.5" text-anchor="middle" fill="#383838">−/−</text>
<text x="528.95" y="302.8" font-size="8.5" text-anchor="middle" fill="#383838">T</text>
<text x="542.4" y="302.8" font-size="8.5" text-anchor="middle" fill="#383838">O</text>
<line x1="524.20" y1="305.80" x2="547.20" y2="305.80" stroke="#fbd68a" stroke-width="1.5"/>
<text x="535.7" y="314.4" font-size="8.5" text-anchor="middle" fill="#383838">+/+</text>
<text x="558.15" y="302.8" font-size="8.5" text-anchor="middle" fill="#383838">T</text>
<text x="571.1999999999999" y="302.8" font-size="8.5" text-anchor="middle" fill="#383838">O</text>
<line x1="553.40" y1="305.80" x2="576.00" y2="305.80" stroke="#f9c08e" stroke-width="1.5"/>
<text x="564.6999999999999" y="314.4" font-size="8.5" text-anchor="middle" fill="#383838">+/−</text>
<text x="586.95" y="302.8" font-size="8.5" text-anchor="middle" fill="#383838">T</text>
<text x="600.3000000000001" y="302.8" font-size="8.5" text-anchor="middle" fill="#383838">O</text>
<line x1="582.20" y1="305.80" x2="605.00" y2="305.80" stroke="#f2979b" stroke-width="1.5"/>
<text x="593.6000000000001" y="314.4" font-size="8.5" text-anchor="middle" fill="#383838">−/−</text>
<line x1="437.60" y1="318.60" x2="518.00" y2="318.60" stroke="#666" stroke-width="1.4"/>
<line x1="524.20" y1="318.60" x2="605.00" y2="318.60" stroke="#666" stroke-width="1.4"/>
<text x="477.8" y="328.5" font-size="8.5" text-anchor="middle" fill="#383838" font-style="italic">Cgas</text>
<text x="564.6" y="328.5" font-size="8.5" text-anchor="middle" fill="#383838" font-style="italic">P301S Cgas</text>
<line x1="442.00" y1="197.80" x2="456.00" y2="197.80" stroke="#555" stroke-width="0.8"/>
<text x="449.0" y="199.7" font-size="11.4" text-anchor="middle" fill="#333">*</text>
<line x1="471.00" y1="183.20" x2="484.60" y2="183.20" stroke="#555" stroke-width="0.8"/>
<text x="477.8" y="185.09999999999997" font-size="11.4" text-anchor="middle" fill="#333">**</text>
<line x1="500.00" y1="192.80" x2="513.50" y2="192.80" stroke="#555" stroke-width="0.8"/>
<text x="506.75" y="194.7" font-size="11.4" text-anchor="middle" fill="#333">*</text>
<line x1="529.60" y1="214.30" x2="542.40" y2="214.30" stroke="#555" stroke-width="0.8"/>
<text x="536.0" y="212.3" font-size="7" text-anchor="middle" fill="#383838">NS</text>
<line x1="559.00" y1="214.30" x2="572.00" y2="214.30" stroke="#555" stroke-width="0.8"/>
<text x="565.5" y="212.3" font-size="7" text-anchor="middle" fill="#383838">NS</text>
<line x1="587.20" y1="201.20" x2="600.70" y2="201.20" stroke="#555" stroke-width="0.8"/>
<text x="593.95" y="203.09999999999997" font-size="11.4" text-anchor="middle" fill="#333">*</text>
<text x="0.0" y="354.3" font-size="12.3" text-anchor="start" fill="#000" font-weight="bold">e</text>
<line x1="42.50" y1="361.50" x2="49.50" y2="361.50" stroke="#1a1a1a" stroke-width="1.0"/>
<circle cx="46.00" cy="361.50" r="1.5" fill="#1a1a1a" stroke="#1a1a1a" stroke-width="0.2"/>
<text x="55.2" y="364" font-size="7.3" text-anchor="start" fill="#383838" font-style="italic">Cgas<tspan dy="-3" font-size="70%">+/+</tspan></text>
<line x1="92.50" y1="361.50" x2="99.50" y2="361.50" stroke="#FBB117" stroke-width="1.0"/>
<circle cx="96.00" cy="361.50" r="1.5" fill="#FBB117" stroke="#FBB117" stroke-width="0.2"/>
<text x="108.8" y="355.5" font-size="7.3" text-anchor="start" fill="#383838" font-style="italic">P301S</text>
<text x="108.8" y="364" font-size="7.3" text-anchor="start" fill="#383838" font-style="italic">Cgas<tspan dy="-3" font-size="70%">+/+</tspan></text>
<line x1="146.70" y1="361.50" x2="153.70" y2="361.50" stroke="#E8212B" stroke-width="1.0"/>
<circle cx="150.20" cy="361.50" r="1.5" fill="#E8212B" stroke="#E8212B" stroke-width="0.2"/>
<text x="156.3" y="355.5" font-size="7.3" text-anchor="start" fill="#383838" font-style="italic">P301S</text>
<text x="156.3" y="364" font-size="7.3" text-anchor="start" fill="#383838" font-style="italic">Cgas<tspan dy="-3" font-size="70%">−/−</tspan></text>
<polyline points="46.00,376.20 46.50,376.20 47.00,376.20 47.51,376.20 48.01,376.20 48.51,376.20 49.01,376.20 49.51,376.41 50.01,377.26 50.52,378.30 51.02,379.40 51.52,380.48 52.02,381.48 52.52,382.35 53.03,383.04 53.53,383.52 54.03,383.77 54.53,383.39 55.03,382.63 55.53,381.95 56.04,381.34 56.54,380.79 57.04,380.30 57.54,379.86 58.04,379.47 58.55,379.12 59.05,378.80 59.55,378.52 60.05,378.26 60.55,378.03 61.05,377.83 61.56,377.64 62.06,377.48 62.56,377.33 63.06,377.19 63.56,377.07 64.07,376.96 64.57,376.86 65.07,376.78 65.57,376.70 66.07,376.62 66.57,376.56 67.08,376.50 67.58,376.45 68.08,376.40 68.58,376.36 69.08,376.32 69.59,376.28 70.09,376.25 70.59,376.22 71.09,376.19 71.59,376.16 72.09,376.14 72.60,376.12 73.10,376.10 73.60,376.08" fill="none" stroke="#1a1a1a" stroke-width="1.3" stroke-linejoin="round" stroke-linecap="round"/>
<polyline points="46.00,388.40 46.50,388.40 47.00,388.40 47.51,388.40 48.01,388.40 48.51,388.40 49.01,388.40 49.51,388.80 50.01,390.42 50.52,392.38 51.02,394.46 51.52,396.51 52.02,398.41 52.52,400.05 53.03,401.36 53.53,402.27 54.03,402.74 54.53,402.02 55.03,400.58 55.53,399.29 56.04,398.14 56.54,397.10 57.04,396.17 57.54,395.34 58.04,394.60 58.55,393.93 59.05,393.33 59.55,392.79 60.05,392.30 60.55,391.87 61.05,391.48 61.56,391.13 62.06,390.82 62.56,390.53 63.06,390.28 63.56,390.05 64.07,389.84 64.57,389.66 65.07,389.49 65.57,389.34 66.07,389.20 66.57,389.08 67.08,388.97 67.58,388.87 68.08,388.78 68.58,388.69 69.08,388.62 69.59,388.55 70.09,388.49 70.59,388.43 71.09,388.38 71.59,388.33 72.09,388.28 72.60,388.24 73.10,388.21 73.60,388.17" fill="none" stroke="#1a1a1a" stroke-width="1.3" stroke-linejoin="round" stroke-linecap="round"/>
<text x="43.8" y="378.5" font-size="8" text-anchor="middle" fill="#383838">1</text>
<text x="43.8" y="391" font-size="8" text-anchor="middle" fill="#383838">2</text>
<polyline points="104.20,376.20 104.70,376.20 105.20,376.20 105.71,376.20 106.21,376.20 106.71,376.20 107.21,376.20 107.71,376.41 108.21,377.26 108.72,378.30 109.22,379.40 109.72,380.48 110.22,381.48 110.72,382.35 111.23,383.04 111.73,383.52 112.23,383.53 112.73,382.94 113.23,382.31 113.73,382.01 114.24,381.73 114.74,381.22 115.24,380.30 115.74,379.86 116.24,379.47 116.75,379.12 117.25,378.80 117.75,378.52 118.25,378.26 118.75,378.03 119.25,377.83 119.76,377.64 120.26,377.48 120.76,377.33 121.26,377.19 121.76,377.07 122.27,376.96 122.77,376.86 123.27,376.78 123.77,376.70 124.27,376.62 124.77,376.56 125.28,376.50 125.78,376.45 126.28,376.40 126.78,376.36 127.28,376.32 127.79,376.28 128.29,376.25 128.79,376.22 129.29,376.19 129.79,376.16 130.29,376.14 130.80,376.12 131.30,376.10 131.80,376.08" fill="none" stroke="#FBB117" stroke-width="1.3" stroke-linejoin="round" stroke-linecap="round"/>
<polyline points="104.20,388.40 104.70,388.40 105.20,388.40 105.71,388.40 106.21,388.40 106.71,388.40 107.21,388.40 107.71,388.69 108.21,389.87 108.72,391.30 109.22,392.82 109.72,394.31 110.22,395.70 110.72,396.90 111.23,397.85 111.73,398.52 112.23,398.53 112.73,397.71 113.23,396.84 113.73,396.42 114.24,396.04 114.74,395.33 115.24,394.07 115.74,393.46 116.24,392.92 116.75,392.43 117.25,391.99 117.75,391.60 118.25,391.25 118.75,390.93 119.25,390.65 119.76,390.39 120.26,390.16 120.76,389.96 121.26,389.77 121.76,389.60 122.27,389.45 122.77,389.32 123.27,389.20 123.77,389.09 124.27,388.99 124.77,388.90 125.28,388.82 125.78,388.74 126.28,388.68 126.78,388.61 127.28,388.56 127.79,388.51 128.29,388.46 128.79,388.42 129.29,388.38 129.79,388.35 130.29,388.32 130.80,388.29 131.30,388.26 131.80,388.23" fill="none" stroke="#FBB117" stroke-width="1.3" stroke-linejoin="round" stroke-linecap="round"/>
<text x="101.5" y="378.5" font-size="8" text-anchor="middle" fill="#383838">1</text>
<text x="101.5" y="391" font-size="8" text-anchor="middle" fill="#383838">2</text>
<polyline points="155.70,376.20 156.20,376.20 156.70,376.20 157.21,376.20 157.71,376.20 158.21,376.20 158.71,376.20 159.21,376.43 159.71,377.36 160.22,378.49 160.72,379.69 161.22,380.87 161.72,381.97 162.22,382.92 162.73,383.67 163.23,384.20 163.73,384.47 164.23,384.05 164.73,383.22 165.23,382.48 165.74,381.81 166.24,381.22 166.74,380.68 167.24,380.20 167.74,379.77 168.25,379.39 168.75,379.04 169.25,378.73 169.75,378.45 170.25,378.20 170.75,377.98 171.26,377.77 171.76,377.59 172.26,377.43 172.76,377.28 173.26,377.15 173.77,377.03 174.27,376.93 174.77,376.83 175.27,376.74 175.77,376.66 176.27,376.59 176.78,376.53 177.28,376.47 177.78,376.42 178.28,376.37 178.78,376.33 179.29,376.29 179.79,376.25 180.29,376.22 180.79,376.19 181.29,376.16 181.79,376.13 182.30,376.11 182.80,376.09 183.30,376.07" fill="none" stroke="#E8212B" stroke-width="1.3" stroke-linejoin="round" stroke-linecap="round"/>
<polyline points="155.70,388.40 156.20,388.40 156.70,388.40 157.21,388.40 157.71,388.40 158.21,388.40 158.71,388.40 159.21,388.80 159.71,390.42 160.22,392.38 160.72,394.46 161.22,396.51 161.72,398.41 162.22,400.05 162.73,401.36 163.23,402.27 163.73,402.74 164.23,402.02 164.73,400.58 165.23,399.29 165.74,398.14 166.24,397.10 166.74,396.17 167.24,395.34 167.74,394.60 168.25,393.93 168.75,393.33 169.25,392.79 169.75,392.30 170.25,391.87 170.75,391.48 171.26,391.13 171.76,390.82 172.26,390.53 172.76,390.28 173.26,390.05 173.77,389.84 174.27,389.66 174.77,389.49 175.27,389.34 175.77,389.20 176.27,389.08 176.78,388.97 177.28,388.87 177.78,388.78 178.28,388.69 178.78,388.62 179.29,388.55 179.79,388.49 180.29,388.43 180.79,388.38 181.29,388.33 181.79,388.28 182.30,388.24 182.80,388.21 183.30,388.17" fill="none" stroke="#E8212B" stroke-width="1.3" stroke-linejoin="round" stroke-linecap="round"/>
<text x="152.70000000000002" y="378.5" font-size="8" text-anchor="middle" fill="#383838">1</text>
<text x="152.70000000000002" y="391" font-size="8" text-anchor="middle" fill="#383838">2</text>
<path d="M187.6,393 V397 H183.3" fill="none" stroke="#333" stroke-width="1.0"/>
<line x1="38.30" y1="416.90" x2="38.30" y2="534.30" stroke="#9a9a9a" stroke-width="1.0"/>
<line x1="37.70" y1="534.30" x2="203.90" y2="534.30" stroke="#777" stroke-width="0.9"/>
<line x1="34.30" y1="534.30" x2="37.90" y2="534.30" stroke="#777" stroke-width="0.8"/>
<text x="31.299999999999997" y="537.3" font-size="8.5" text-anchor="end" fill="#383838">0</text>
<line x1="34.30" y1="504.97" x2="37.90" y2="504.97" stroke="#777" stroke-width="0.8"/>
<text x="31.299999999999997" y="507.96666666666664" font-size="8.5" text-anchor="end" fill="#383838">100</text>
<line x1="34.30" y1="475.63" x2="37.90" y2="475.63" stroke="#777" stroke-width="0.8"/>
<text x="31.299999999999997" y="478.6333333333333" font-size="8.5" text-anchor="end" fill="#383838">200</text>
<line x1="34.30" y1="446.30" x2="37.90" y2="446.30" stroke="#777" stroke-width="0.8"/>
<text x="31.299999999999997" y="449.3" font-size="8.5" text-anchor="end" fill="#383838">300</text>
<line x1="38.30" y1="534.30" x2="38.30" y2="537.80" stroke="#777" stroke-width="0.8"/>
<text x="38.3" y="548" font-size="8.5" text-anchor="middle" fill="#383838">0</text>
<line x1="57.77" y1="534.30" x2="57.77" y2="537.80" stroke="#777" stroke-width="0.8"/>
<text x="57.765" y="548" font-size="8.5" text-anchor="middle" fill="#383838">10</text>
<line x1="77.23" y1="534.30" x2="77.23" y2="537.80" stroke="#777" stroke-width="0.8"/>
<text x="77.22999999999999" y="548" font-size="8.5" text-anchor="middle" fill="#383838">20</text>
<line x1="96.69" y1="534.30" x2="96.69" y2="537.80" stroke="#777" stroke-width="0.8"/>
<text x="96.695" y="548" font-size="8.5" text-anchor="middle" fill="#383838">30</text>
<line x1="116.16" y1="534.30" x2="116.16" y2="537.80" stroke="#777" stroke-width="0.8"/>
<text x="116.16" y="548" font-size="8.5" text-anchor="middle" fill="#383838">40</text>
<line x1="135.62" y1="534.30" x2="135.62" y2="537.80" stroke="#777" stroke-width="0.8"/>
<text x="135.625" y="548" font-size="8.5" text-anchor="middle" fill="#383838">50</text>
<line x1="155.09" y1="534.30" x2="155.09" y2="537.80" stroke="#777" stroke-width="0.8"/>
<text x="155.08999999999997" y="548" font-size="8.5" text-anchor="middle" fill="#383838">60</text>
<line x1="174.56" y1="534.30" x2="174.56" y2="537.80" stroke="#777" stroke-width="0.8"/>
<text x="174.555" y="548" font-size="8.5" text-anchor="middle" fill="#383838">70</text>
<line x1="194.02" y1="534.30" x2="194.02" y2="537.80" stroke="#777" stroke-width="0.8"/>
<text x="194.01999999999998" y="548" font-size="8.5" text-anchor="middle" fill="#383838">80</text>
<text x="121" y="563" font-size="9" text-anchor="middle" fill="#383838">Time (min)</text>
<text x="7.6" y="480" font-size="9" text-anchor="middle" fill="#383838" transform="rotate(-90 7.6 480)">fEPSP slope (% of baseline)</text>
<path d="M38.3,502.1V505.1M37.5,502.1h1.6M37.5,505.1h1.6M40.2,502.1V505.0M39.4,502.1h1.6M39.4,505.0h1.6M42.2,501.4V504.3M41.4,501.4h1.6M41.4,504.3h1.6M44.1,502.6V505.6M43.3,502.6h1.6M43.3,505.6h1.6M46.1,502.7V505.7M45.3,502.7h1.6M45.3,505.7h1.6M48.0,502.7V505.6M47.2,502.7h1.6M47.2,505.6h1.6M50.0,503.9V506.8M49.2,503.9h1.6M49.2,506.8h1.6M51.9,503.4V506.3M51.1,503.4h1.6M51.1,506.3h1.6M53.9,503.3V506.2M53.1,503.3h1.6M53.1,506.2h1.6M55.8,503.2V506.1M55.0,503.2h1.6M55.0,506.1h1.6M57.8,505.0V508.0M57.0,505.0h1.6M57.0,508.0h1.6M59.7,504.7V507.7M58.9,504.7h1.6M58.9,507.7h1.6M61.7,505.4V508.3M60.9,505.4h1.6M60.9,508.3h1.6M63.6,503.9V506.8M62.8,503.9h1.6M62.8,506.8h1.6M65.6,504.3V507.3M64.8,504.3h1.6M64.8,507.3h1.6M67.5,506.0V509.0M66.7,506.0h1.6M66.7,509.0h1.6M69.4,503.8V506.7M68.6,503.8h1.6M68.6,506.7h1.6M71.4,503.8V506.7M70.6,503.8h1.6M70.6,506.7h1.6M73.3,504.4V507.4M72.5,504.4h1.6M72.5,507.4h1.6M75.3,504.5V507.4M74.5,504.5h1.6M74.5,507.4h1.6M77.2,505.5V508.4M76.4,505.5h1.6M76.4,508.4h1.6M79.2,494.7V497.6M78.4,494.7h1.6M78.4,497.6h1.6M81.1,479.4V484.7M80.3,479.4h1.6M80.3,484.7h1.6M83.1,472.5V478.4M82.3,472.5h1.6M82.3,478.4h1.6M85.0,468.1V474.4M84.2,468.1h1.6M84.2,474.4h1.6M87.0,466.4V472.9M86.2,466.4h1.6M86.2,472.9h1.6M88.9,465.5V472.1M88.1,465.5h1.6M88.1,472.1h1.6M90.9,463.6V470.3M90.1,463.6h1.6M90.1,470.3h1.6M92.8,463.0V469.8M92.0,463.0h1.6M92.0,469.8h1.6M94.7,461.2V468.1M93.9,461.2h1.6M93.9,468.1h1.6M96.7,461.9V468.8M95.9,461.9h1.6M95.9,468.8h1.6M98.6,461.2V468.1M97.8,461.2h1.6M97.8,468.1h1.6M100.6,461.3V468.3M99.8,461.3h1.6M99.8,468.3h1.6M102.5,461.3V468.3M101.7,461.3h1.6M101.7,468.3h1.6M104.5,462.5V469.4M103.7,462.5h1.6M103.7,469.4h1.6M106.4,463.6V470.3M105.6,463.6h1.6M105.6,470.3h1.6M108.4,461.9V468.8M107.6,461.9h1.6M107.6,468.8h1.6M110.3,462.4V469.2M109.5,462.4h1.6M109.5,469.2h1.6M112.3,463.3V470.1M111.5,463.3h1.6M111.5,470.1h1.6M114.2,464.2V470.9M113.4,464.2h1.6M113.4,470.9h1.6M116.2,465.9V472.4M115.4,465.9h1.6M115.4,472.4h1.6M118.1,466.5V473.0M117.3,466.5h1.6M117.3,473.0h1.6M120.1,466.6V473.1M119.3,466.6h1.6M119.3,473.1h1.6M122.0,467.7V474.0M121.2,467.7h1.6M121.2,474.0h1.6M123.9,465.9V472.4M123.1,465.9h1.6M123.1,472.4h1.6M125.9,467.3V473.7M125.1,467.3h1.6M125.1,473.7h1.6M127.8,466.3V472.8M127.0,466.3h1.6M127.0,472.8h1.6M129.8,468.1V474.4M129.0,468.1h1.6M129.0,474.4h1.6M131.7,466.7V473.1M130.9,466.7h1.6M130.9,473.1h1.6M133.7,467.4V473.8M132.9,467.4h1.6M132.9,473.8h1.6M135.6,470.5V476.6M134.8,470.5h1.6M134.8,476.6h1.6M137.6,470.3V476.4M136.8,470.3h1.6M136.8,476.4h1.6M139.5,468.6V474.9M138.7,468.6h1.6M138.7,474.9h1.6M141.5,470.4V476.5M140.7,470.4h1.6M140.7,476.5h1.6M143.4,469.2V475.5M142.6,469.2h1.6M142.6,475.5h1.6M145.4,471.5V477.5M144.6,471.5h1.6M144.6,477.5h1.6M147.3,473.1V479.0M146.5,473.1h1.6M146.5,479.0h1.6M149.3,472.1V478.0M148.5,472.1h1.6M148.5,478.0h1.6M151.2,472.3V478.2M150.4,472.3h1.6M150.4,478.2h1.6M153.1,474.5V480.2M152.3,474.5h1.6M152.3,480.2h1.6M155.1,475.7V481.3M154.3,475.7h1.6M154.3,481.3h1.6M157.0,475.6V481.3M156.2,475.6h1.6M156.2,481.3h1.6M159.0,474.3V480.1M158.2,474.3h1.6M158.2,480.1h1.6M160.9,475.7V481.3M160.1,475.7h1.6M160.1,481.3h1.6M162.9,478.4V483.8M162.1,478.4h1.6M162.1,483.8h1.6M164.8,478.7V484.0M164.0,478.7h1.6M164.0,484.0h1.6M166.8,479.8V485.1M166.0,479.8h1.6M166.0,485.1h1.6M168.7,480.7V485.9M167.9,480.7h1.6M167.9,485.9h1.6M170.7,479.1V484.5M169.9,479.1h1.6M169.9,484.5h1.6M172.6,481.7V486.8M171.8,481.7h1.6M171.8,486.8h1.6M174.6,481.2V486.4M173.8,481.2h1.6M173.8,486.4h1.6M176.5,482.2V487.3M175.7,482.2h1.6M175.7,487.3h1.6M178.4,483.7V488.6M177.6,483.7h1.6M177.6,488.6h1.6M180.4,482.7V487.7M179.6,482.7h1.6M179.6,487.7h1.6M182.3,485.1V489.8M181.5,485.1h1.6M181.5,489.8h1.6M184.3,484.0V488.8M183.5,484.0h1.6M183.5,488.8h1.6M186.2,486.1V490.8M185.4,486.1h1.6M185.4,490.8h1.6M188.2,485.6V490.3M187.4,485.6h1.6M187.4,490.3h1.6M190.1,486.7V491.4M189.3,486.7h1.6M189.3,491.4h1.6M192.1,487.0V491.6M191.3,487.0h1.6M191.3,491.6h1.6M194.0,485.4V490.1M193.2,485.4h1.6M193.2,490.1h1.6" fill="none" stroke="#fde6b8" stroke-width="0.55"/>
<path d="M38.3,501.7V504.6M37.5,501.7h1.6M37.5,504.6h1.6M40.2,502.9V505.8M39.4,502.9h1.6M39.4,505.8h1.6M42.2,501.9V504.8M41.4,501.9h1.6M41.4,504.8h1.6M44.1,503.5V506.4M43.3,503.5h1.6M43.3,506.4h1.6M46.1,503.3V506.2M45.3,503.3h1.6M45.3,506.2h1.6M48.0,502.5V505.4M47.2,502.5h1.6M47.2,505.4h1.6M50.0,503.1V506.0M49.2,503.1h1.6M49.2,506.0h1.6M51.9,504.4V507.3M51.1,504.4h1.6M51.1,507.3h1.6M53.9,502.7V505.6M53.1,502.7h1.6M53.1,505.6h1.6M55.8,504.5V507.4M55.0,504.5h1.6M55.0,507.4h1.6M57.8,504.6V507.5M57.0,504.6h1.6M57.0,507.5h1.6M59.7,503.6V506.6M58.9,503.6h1.6M58.9,506.6h1.6M61.7,504.7V507.6M60.9,504.7h1.6M60.9,507.6h1.6M63.6,504.9V507.8M62.8,504.9h1.6M62.8,507.8h1.6M65.6,505.5V508.4M64.8,505.5h1.6M64.8,508.4h1.6M67.5,505.5V508.5M66.7,505.5h1.6M66.7,508.5h1.6M69.4,504.5V507.4M68.6,504.5h1.6M68.6,507.4h1.6M71.4,505.2V508.1M70.6,505.2h1.6M70.6,508.1h1.6M73.3,504.5V507.4M72.5,504.5h1.6M72.5,507.4h1.6M75.3,504.9V507.9M74.5,504.9h1.6M74.5,507.9h1.6M77.2,504.8V507.7M76.4,504.8h1.6M76.4,507.7h1.6M79.2,493.5V496.4M78.4,493.5h1.6M78.4,496.4h1.6M81.1,481.9V487.0M80.3,481.9h1.6M80.3,487.0h1.6M83.1,472.5V478.4M82.3,472.5h1.6M82.3,478.4h1.6M85.0,467.1V473.5M84.2,467.1h1.6M84.2,473.5h1.6M87.0,467.4V473.8M86.2,467.4h1.6M86.2,473.8h1.6M88.9,465.9V472.5M88.1,465.9h1.6M88.1,472.5h1.6M90.9,463.3V470.1M90.1,463.3h1.6M90.1,470.1h1.6M92.8,463.0V469.8M92.0,463.0h1.6M92.0,469.8h1.6M94.7,464.1V470.8M93.9,464.1h1.6M93.9,470.8h1.6M96.7,463.7V470.4M95.9,463.7h1.6M95.9,470.4h1.6M98.6,462.4V469.2M97.8,462.4h1.6M97.8,469.2h1.6M100.6,462.0V468.9M99.8,462.0h1.6M99.8,468.9h1.6M102.5,464.3V471.0M101.7,464.3h1.6M101.7,471.0h1.6M104.5,462.8V469.6M103.7,462.8h1.6M103.7,469.6h1.6M106.4,463.6V470.4M105.6,463.6h1.6M105.6,470.4h1.6M108.4,465.0V471.6M107.6,465.0h1.6M107.6,471.6h1.6M110.3,466.1V472.6M109.5,466.1h1.6M109.5,472.6h1.6M112.3,467.2V473.7M111.5,467.2h1.6M111.5,473.7h1.6M114.2,467.7V474.0M113.4,467.7h1.6M113.4,474.0h1.6M116.2,465.3V471.9M115.4,465.3h1.6M115.4,471.9h1.6M118.1,467.6V473.9M117.3,467.6h1.6M117.3,473.9h1.6M120.1,466.5V473.0M119.3,466.5h1.6M119.3,473.0h1.6M122.0,468.0V474.3M121.2,468.0h1.6M121.2,474.3h1.6M123.9,466.6V473.1M123.1,466.6h1.6M123.1,473.1h1.6M125.9,467.5V473.9M125.1,467.5h1.6M125.1,473.9h1.6M127.8,468.5V474.8M127.0,468.5h1.6M127.0,474.8h1.6M129.8,468.9V475.2M129.0,468.9h1.6M129.0,475.2h1.6M131.7,467.5V473.9M130.9,467.5h1.6M130.9,473.9h1.6M133.7,469.4V475.7M132.9,469.4h1.6M132.9,475.7h1.6M135.6,469.1V475.4M134.8,469.1h1.6M134.8,475.4h1.6M137.6,468.3V474.6M136.8,468.3h1.6M136.8,474.6h1.6M139.5,467.6V474.0M138.7,467.6h1.6M138.7,474.0h1.6M141.5,468.4V474.7M140.7,468.4h1.6M140.7,474.7h1.6M143.4,469.5V475.7M142.6,469.5h1.6M142.6,475.7h1.6M145.4,467.8V474.2M144.6,467.8h1.6M144.6,474.2h1.6M147.3,470.0V476.1M146.5,470.0h1.6M146.5,476.1h1.6M149.3,470.7V476.8M148.5,470.7h1.6M148.5,476.8h1.6M151.2,470.2V476.3M150.4,470.2h1.6M150.4,476.3h1.6M153.1,469.8V476.0M152.3,469.8h1.6M152.3,476.0h1.6M155.1,471.1V477.1M154.3,471.1h1.6M154.3,477.1h1.6M157.0,470.9V477.0M156.2,470.9h1.6M156.2,477.0h1.6M159.0,470.6V476.7M158.2,470.6h1.6M158.2,476.7h1.6M160.9,470.3V476.4M160.1,470.3h1.6M160.1,476.4h1.6M162.9,471.8V477.8M162.1,471.8h1.6M162.1,477.8h1.6M164.8,471.4V477.4M164.0,471.4h1.6M164.0,477.4h1.6M166.8,470.2V476.4M166.0,470.2h1.6M166.0,476.4h1.6M168.7,470.2V476.4M167.9,470.2h1.6M167.9,476.4h1.6M170.7,471.4V477.4M169.9,471.4h1.6M169.9,477.4h1.6M172.6,471.6V477.6M171.8,471.6h1.6M171.8,477.6h1.6M174.6,472.1V478.1M173.8,472.1h1.6M173.8,478.1h1.6M176.5,473.5V479.4M175.7,473.5h1.6M175.7,479.4h1.6M178.4,474.0V479.8M177.6,474.0h1.6M177.6,479.8h1.6M180.4,474.3V480.0M179.6,474.3h1.6M179.6,480.0h1.6M182.3,472.0V478.0M181.5,472.0h1.6M181.5,478.0h1.6M184.3,472.7V478.6M183.5,472.7h1.6M183.5,478.6h1.6M186.2,471.8V477.8M185.4,471.8h1.6M185.4,477.8h1.6M188.2,474.1V479.9M187.4,474.1h1.6M187.4,479.9h1.6M190.1,472.2V478.1M189.3,472.2h1.6M189.3,478.1h1.6M192.1,472.4V478.3M191.3,472.4h1.6M191.3,478.3h1.6M194.0,471.4V477.5M193.2,471.4h1.6M193.2,477.5h1.6" fill="none" stroke="#f8cdd0" stroke-width="0.55"/>
<path d="M38.3,502.8V505.7M37.5,502.8h1.6M37.5,505.7h1.6M40.2,501.3V504.3M39.4,501.3h1.6M39.4,504.3h1.6M42.2,503.7V506.6M41.4,503.7h1.6M41.4,506.6h1.6M44.1,502.7V505.7M43.3,502.7h1.6M43.3,505.7h1.6M46.1,502.5V505.4M45.3,502.5h1.6M45.3,505.4h1.6M48.0,502.3V505.2M47.2,502.3h1.6M47.2,505.2h1.6M50.0,502.8V505.7M49.2,502.8h1.6M49.2,505.7h1.6M51.9,503.0V505.9M51.1,503.0h1.6M51.1,505.9h1.6M53.9,502.9V505.8M53.1,502.9h1.6M53.1,505.8h1.6M55.8,502.7V505.6M55.0,502.7h1.6M55.0,505.6h1.6M57.8,504.1V507.1M57.0,504.1h1.6M57.0,507.1h1.6M59.7,503.5V506.4M58.9,503.5h1.6M58.9,506.4h1.6M61.7,503.1V506.0M60.9,503.1h1.6M60.9,506.0h1.6M63.6,503.3V506.2M62.8,503.3h1.6M62.8,506.2h1.6M65.6,504.5V507.4M64.8,504.5h1.6M64.8,507.4h1.6M67.5,503.7V506.6M66.7,503.7h1.6M66.7,506.6h1.6M69.4,503.5V506.5M68.6,503.5h1.6M68.6,506.5h1.6M71.4,504.2V507.1M70.6,504.2h1.6M70.6,507.1h1.6M73.3,504.1V507.0M72.5,504.1h1.6M72.5,507.0h1.6M75.3,504.7V507.6M74.5,504.7h1.6M74.5,507.6h1.6M77.2,504.2V507.1M76.4,504.2h1.6M76.4,507.1h1.6M79.2,494.4V497.3M78.4,494.4h1.6M78.4,497.3h1.6M81.1,480.3V491.0M80.3,480.3h1.6M80.3,491.0h1.6M83.1,467.2V480.4M82.3,467.2h1.6M82.3,480.4h1.6M85.0,459.5V474.2M84.2,459.5h1.6M84.2,474.2h1.6M87.0,455.2V470.4M86.2,455.2h1.6M86.2,470.4h1.6M88.9,453.4V468.7M88.1,453.4h1.6M88.1,468.7h1.6M90.9,452.2V467.5M90.1,452.2h1.6M90.1,467.5h1.6M92.8,449.7V465.0M92.0,449.7h1.6M92.0,465.0h1.6M94.7,448.7V464.0M93.9,448.7h1.6M93.9,464.0h1.6M96.7,448.4V463.7M95.9,448.4h1.6M95.9,463.7h1.6M98.6,446.6V461.8M97.8,446.6h1.6M97.8,461.8h1.6M100.6,448.1V463.4M99.8,448.1h1.6M99.8,463.4h1.6M102.5,446.7V462.0M101.7,446.7h1.6M101.7,462.0h1.6M104.5,449.4V464.7M103.7,449.4h1.6M103.7,464.7h1.6M106.4,449.0V464.3M105.6,449.0h1.6M105.6,464.3h1.6M108.4,450.7V465.9M107.6,450.7h1.6M107.6,465.9h1.6M110.3,452.7V467.9M109.5,452.7h1.6M109.5,467.9h1.6M112.3,451.9V467.1M111.5,451.9h1.6M111.5,467.1h1.6M114.2,453.1V468.3M113.4,453.1h1.6M113.4,468.3h1.6M116.2,453.3V468.6M115.4,453.3h1.6M115.4,468.6h1.6M118.1,453.0V468.2M117.3,453.0h1.6M117.3,468.2h1.6M120.1,455.5V470.8M119.3,455.5h1.6M119.3,470.8h1.6M122.0,456.9V472.0M121.2,456.9h1.6M121.2,472.0h1.6M123.9,456.6V471.8M123.1,456.6h1.6M123.1,471.8h1.6M125.9,456.0V471.3M125.1,456.0h1.6M125.1,471.3h1.6M127.8,458.2V473.1M127.0,458.2h1.6M127.0,473.1h1.6M129.8,459.0V473.7M129.0,459.0h1.6M129.0,473.7h1.6M131.7,457.2V472.3M130.9,457.2h1.6M130.9,472.3h1.6M133.7,458.3V473.2M132.9,458.3h1.6M132.9,473.2h1.6M135.6,459.4V474.0M134.8,459.4h1.6M134.8,474.0h1.6M137.6,458.2V473.1M136.8,458.2h1.6M136.8,473.1h1.6M139.5,460.4V474.9M138.7,460.4h1.6M138.7,474.9h1.6M141.5,459.6V474.2M140.7,459.6h1.6M140.7,474.2h1.6M143.4,461.5V475.7M142.6,461.5h1.6M142.6,475.7h1.6M145.4,461.0V475.4M144.6,461.0h1.6M144.6,475.4h1.6M147.3,460.3V474.8M146.5,460.3h1.6M146.5,474.8h1.6M149.3,460.4V474.9M148.5,460.4h1.6M148.5,474.9h1.6M151.2,461.0V475.3M150.4,461.0h1.6M150.4,475.3h1.6M153.1,463.0V477.0M152.3,463.0h1.6M152.3,477.0h1.6M155.1,462.9V476.9M154.3,462.9h1.6M154.3,476.9h1.6M157.0,464.2V477.9M156.2,464.2h1.6M156.2,477.9h1.6M159.0,465.2V478.8M158.2,465.2h1.6M158.2,478.8h1.6M160.9,464.3V478.1M160.1,464.3h1.6M160.1,478.1h1.6M162.9,463.5V477.4M162.1,463.5h1.6M162.1,477.4h1.6M164.8,463.7V477.6M164.0,463.7h1.6M164.0,477.6h1.6M166.8,464.4V478.2M166.0,464.4h1.6M166.0,478.2h1.6M168.7,463.9V477.7M167.9,463.9h1.6M167.9,477.7h1.6M170.7,466.4V479.7M169.9,466.4h1.6M169.9,479.7h1.6M172.6,466.9V480.1M171.8,466.9h1.6M171.8,480.1h1.6M174.6,466.1V479.5M173.8,466.1h1.6M173.8,479.5h1.6M176.5,466.9V480.1M175.7,466.9h1.6M175.7,480.1h1.6M178.4,467.2V480.4M177.6,467.2h1.6M177.6,480.4h1.6M180.4,466.3V479.7M179.6,466.3h1.6M179.6,479.7h1.6M182.3,465.4V478.9M181.5,465.4h1.6M181.5,478.9h1.6M184.3,465.5V479.0M183.5,465.5h1.6M183.5,479.0h1.6M186.2,465.8V479.3M185.4,465.8h1.6M185.4,479.3h1.6M188.2,463.9V477.7M187.4,463.9h1.6M187.4,477.7h1.6M190.1,463.1V477.1M189.3,463.1h1.6M189.3,477.1h1.6M192.1,465.0V478.6M191.3,465.0h1.6M191.3,478.6h1.6M194.0,466.4V479.7M193.2,466.4h1.6M193.2,479.7h1.6" fill="none" stroke="#dcdcdc" stroke-width="0.55"/>
<polyline points="38.30,503.61 40.25,503.54 42.19,502.86 44.14,504.11 46.09,504.19 48.03,504.17 49.98,505.35 51.93,504.82 53.87,504.78 55.82,504.63 57.77,506.51 59.71,506.19 61.66,506.87 63.60,505.35 65.55,505.80 67.50,507.51 69.44,505.24 71.39,505.23 73.34,505.90 75.28,505.93 77.23,506.94 79.18,496.12 81.12,482.00 83.07,475.46 85.02,471.26 86.96,469.64 88.91,468.80 90.86,466.94 92.80,466.42 94.75,464.66 96.69,465.31 98.64,464.66 100.59,464.78 102.53,464.82 104.48,465.93 106.43,466.97 108.37,465.37 110.32,465.82 112.27,466.72 114.21,467.54 116.16,469.14 118.11,469.72 120.05,469.87 122.00,470.84 123.95,469.13 125.89,470.54 127.84,469.56 129.79,471.24 131.73,469.89 133.68,470.63 135.62,473.54 137.57,473.34 139.52,471.71 141.46,473.42 143.41,472.34 145.36,474.47 147.30,476.05 149.25,475.04 151.20,475.24 153.14,477.36 155.09,478.52 157.04,478.43 158.98,477.21 160.93,478.49 162.88,481.06 164.82,481.36 166.77,482.47 168.72,483.28 170.66,481.80 172.61,484.26 174.56,483.79 176.50,484.76 178.45,486.16 180.39,485.22 182.34,487.44 184.29,486.40 186.23,488.41 188.18,487.98 190.13,489.05 192.07,489.34 194.02,487.75" fill="none" stroke="#FBB117" stroke-width="0.9" stroke-linejoin="round"/>
<path d="M38.3,503.6h0M40.2,503.5h0M42.2,502.9h0M44.1,504.1h0M46.1,504.2h0M48.0,504.2h0M50.0,505.4h0M51.9,504.8h0M53.9,504.8h0M55.8,504.6h0M57.8,506.5h0M59.7,506.2h0M61.7,506.9h0M63.6,505.4h0M65.6,505.8h0M67.5,507.5h0M69.4,505.2h0M71.4,505.2h0M73.3,505.9h0M75.3,505.9h0M77.2,506.9h0M79.2,496.1h0M81.1,482.0h0M83.1,475.5h0M85.0,471.3h0M87.0,469.6h0M88.9,468.8h0M90.9,466.9h0M92.8,466.4h0M94.7,464.7h0M96.7,465.3h0M98.6,464.7h0M100.6,464.8h0M102.5,464.8h0M104.5,465.9h0M106.4,467.0h0M108.4,465.4h0M110.3,465.8h0M112.3,466.7h0M114.2,467.5h0M116.2,469.1h0M118.1,469.7h0M120.1,469.9h0M122.0,470.8h0M123.9,469.1h0M125.9,470.5h0M127.8,469.6h0M129.8,471.2h0M131.7,469.9h0M133.7,470.6h0M135.6,473.5h0M137.6,473.3h0M139.5,471.7h0M141.5,473.4h0M143.4,472.3h0M145.4,474.5h0M147.3,476.0h0M149.3,475.0h0M151.2,475.2h0M153.1,477.4h0M155.1,478.5h0M157.0,478.4h0M159.0,477.2h0M160.9,478.5h0M162.9,481.1h0M164.8,481.4h0M166.8,482.5h0M168.7,483.3h0M170.7,481.8h0M172.6,484.3h0M174.6,483.8h0M176.5,484.8h0M178.4,486.2h0M180.4,485.2h0M182.3,487.4h0M184.3,486.4h0M186.2,488.4h0M188.2,488.0h0M190.1,489.0h0M192.1,489.3h0M194.0,487.7h0" fill="none" stroke="#FBB117" stroke-width="1.6" stroke-linecap="round"/>
<polyline points="38.30,503.15 40.25,504.38 42.19,503.33 44.14,504.93 46.09,504.72 48.03,503.92 49.98,504.55 51.93,505.87 53.87,504.17 55.82,505.98 57.77,506.06 59.71,505.09 61.66,506.15 63.60,506.34 65.55,506.92 67.50,507.01 69.44,505.97 71.39,506.68 73.34,505.93 75.28,506.41 77.23,506.24 79.18,494.95 81.12,484.48 83.07,475.44 85.02,470.27 86.96,470.60 88.91,469.21 90.86,466.71 92.80,466.43 94.75,467.42 96.69,467.07 98.64,465.81 100.59,465.48 102.53,467.63 104.48,466.23 106.43,467.00 108.37,468.32 110.32,469.39 112.27,470.45 114.21,470.84 116.16,468.62 118.11,470.75 120.05,469.74 122.00,471.14 123.95,469.87 125.89,470.69 127.84,471.60 129.79,472.03 131.73,470.71 133.68,472.55 135.62,472.24 137.57,471.49 139.52,470.83 141.46,471.58 143.41,472.58 145.36,471.01 147.30,473.06 149.25,473.72 151.20,473.23 153.14,472.93 155.09,474.11 157.04,473.97 158.98,473.63 160.93,473.35 162.88,474.77 164.82,474.42 166.77,473.28 168.72,473.30 170.66,474.41 172.61,474.58 174.56,475.12 176.50,476.47 178.45,476.92 180.39,477.14 182.34,474.96 184.29,475.69 186.23,474.76 188.18,477.01 190.13,475.16 192.07,475.33 194.02,474.44" fill="none" stroke="#E8212B" stroke-width="0.9" stroke-linejoin="round"/>
<path d="M38.3,503.2h0M40.2,504.4h0M42.2,503.3h0M44.1,504.9h0M46.1,504.7h0M48.0,503.9h0M50.0,504.5h0M51.9,505.9h0M53.9,504.2h0M55.8,506.0h0M57.8,506.1h0M59.7,505.1h0M61.7,506.1h0M63.6,506.3h0M65.6,506.9h0M67.5,507.0h0M69.4,506.0h0M71.4,506.7h0M73.3,505.9h0M75.3,506.4h0M77.2,506.2h0M79.2,495.0h0M81.1,484.5h0M83.1,475.4h0M85.0,470.3h0M87.0,470.6h0M88.9,469.2h0M90.9,466.7h0M92.8,466.4h0M94.7,467.4h0M96.7,467.1h0M98.6,465.8h0M100.6,465.5h0M102.5,467.6h0M104.5,466.2h0M106.4,467.0h0M108.4,468.3h0M110.3,469.4h0M112.3,470.4h0M114.2,470.8h0M116.2,468.6h0M118.1,470.8h0M120.1,469.7h0M122.0,471.1h0M123.9,469.9h0M125.9,470.7h0M127.8,471.6h0M129.8,472.0h0M131.7,470.7h0M133.7,472.5h0M135.6,472.2h0M137.6,471.5h0M139.5,470.8h0M141.5,471.6h0M143.4,472.6h0M145.4,471.0h0M147.3,473.1h0M149.3,473.7h0M151.2,473.2h0M153.1,472.9h0M155.1,474.1h0M157.0,474.0h0M159.0,473.6h0M160.9,473.4h0M162.9,474.8h0M164.8,474.4h0M166.8,473.3h0M168.7,473.3h0M170.7,474.4h0M172.6,474.6h0M174.6,475.1h0M176.5,476.5h0M178.4,476.9h0M180.4,477.1h0M182.3,475.0h0M184.3,475.7h0M186.2,474.8h0M188.2,477.0h0M190.1,475.2h0M192.1,475.3h0M194.0,474.4h0" fill="none" stroke="#E8212B" stroke-width="1.6" stroke-linecap="round"/>
<polyline points="38.30,504.22 40.25,502.80 42.19,505.14 44.14,504.21 46.09,503.94 48.03,503.73 49.98,504.23 51.93,504.43 53.87,504.34 55.82,504.17 57.77,505.61 59.71,504.94 61.66,504.55 63.60,504.74 65.55,505.92 67.50,505.16 69.44,504.99 71.39,505.68 73.34,505.55 75.28,506.12 77.23,505.65 79.18,495.85 81.12,485.66 83.07,473.76 85.02,466.85 86.96,462.79 88.91,461.03 90.86,459.83 92.80,457.34 94.75,456.33 96.69,456.06 98.64,454.21 100.59,455.73 102.53,454.37 104.48,457.07 106.43,456.66 108.37,458.28 110.32,460.29 112.27,459.50 114.21,460.68 116.16,460.92 118.11,460.61 120.05,463.15 122.00,464.45 123.95,464.19 125.89,463.67 127.84,465.65 129.79,466.34 131.73,464.76 133.68,465.78 135.62,466.71 137.57,465.68 139.52,467.63 141.46,466.93 143.41,468.60 145.36,468.21 147.30,467.53 149.25,467.63 151.20,468.15 153.14,470.02 155.09,469.86 157.04,471.06 158.98,472.01 160.93,471.19 162.88,470.44 164.82,470.65 166.77,471.30 168.72,470.84 170.66,473.06 172.61,473.52 174.56,472.84 176.50,473.51 178.45,473.83 180.39,473.00 182.34,472.14 184.29,472.28 186.23,472.56 188.18,470.78 190.13,470.11 192.07,471.81 194.02,473.07" fill="none" stroke="#1a1a1a" stroke-width="0.9" stroke-linejoin="round"/>
<path d="M38.3,504.2h0M40.2,502.8h0M42.2,505.1h0M44.1,504.2h0M46.1,503.9h0M48.0,503.7h0M50.0,504.2h0M51.9,504.4h0M53.9,504.3h0M55.8,504.2h0M57.8,505.6h0M59.7,504.9h0M61.7,504.6h0M63.6,504.7h0M65.6,505.9h0M67.5,505.2h0M69.4,505.0h0M71.4,505.7h0M73.3,505.6h0M75.3,506.1h0M77.2,505.7h0M79.2,495.8h0M81.1,485.7h0M83.1,473.8h0M85.0,466.9h0M87.0,462.8h0M88.9,461.0h0M90.9,459.8h0M92.8,457.3h0M94.7,456.3h0M96.7,456.1h0M98.6,454.2h0M100.6,455.7h0M102.5,454.4h0M104.5,457.1h0M106.4,456.7h0M108.4,458.3h0M110.3,460.3h0M112.3,459.5h0M114.2,460.7h0M116.2,460.9h0M118.1,460.6h0M120.1,463.1h0M122.0,464.5h0M123.9,464.2h0M125.9,463.7h0M127.8,465.7h0M129.8,466.3h0M131.7,464.8h0M133.7,465.8h0M135.6,466.7h0M137.6,465.7h0M139.5,467.6h0M141.5,466.9h0M143.4,468.6h0M145.4,468.2h0M147.3,467.5h0M149.3,467.6h0M151.2,468.1h0M153.1,470.0h0M155.1,469.9h0M157.0,471.1h0M159.0,472.0h0M160.9,471.2h0M162.9,470.4h0M164.8,470.7h0M166.8,471.3h0M168.7,470.8h0M170.7,473.1h0M172.6,473.5h0M174.6,472.8h0M176.5,473.5h0M178.4,473.8h0M180.4,473.0h0M182.3,472.1h0M184.3,472.3h0M186.2,472.6h0M188.2,470.8h0M190.1,470.1h0M192.1,471.8h0M194.0,473.1h0" fill="none" stroke="#1a1a1a" stroke-width="1.6" stroke-linecap="round"/>
<path d="M77.6,455.8 V467" fill="none" stroke="#2d4d80" stroke-width="1.3"/>
<path d="M75.2,464.2 L77.6,468.4 L80,464.2" fill="none" stroke="#2d4d80" stroke-width="1.2" stroke-linejoin="miter"/>
<text x="43.8" y="497.2" font-size="9" text-anchor="middle" fill="#383838">1</text>
<text x="190" y="460.2" font-size="9" text-anchor="middle" fill="#383838">2</text>
<text x="214.9" y="354.2" font-size="12.3" text-anchor="start" fill="#000" font-weight="bold">f</text>
<text x="280" y="369.3" font-size="9" text-anchor="middle" fill="#383838">Residual</text>
<text x="280" y="380" font-size="9" text-anchor="middle" fill="#383838">potentiation</text>
<line x1="251.60" y1="420.50" x2="251.60" y2="504.80" stroke="#c4c4c4" stroke-width="1.2"/>
<line x1="251.00" y1="504.80" x2="308.70" y2="504.80" stroke="#777" stroke-width="0.9"/>
<line x1="247.60" y1="504.80" x2="251.20" y2="504.80" stroke="#777" stroke-width="0.8"/>
<text x="244.6" y="507.8" font-size="8.5" text-anchor="end" fill="#383838">0</text>
<line x1="247.60" y1="487.94" x2="251.20" y2="487.94" stroke="#777" stroke-width="0.8"/>
<text x="244.6" y="490.94" font-size="8.5" text-anchor="end" fill="#383838">50</text>
<line x1="247.60" y1="471.08" x2="251.20" y2="471.08" stroke="#777" stroke-width="0.8"/>
<text x="244.6" y="474.08" font-size="8.5" text-anchor="end" fill="#383838">100</text>
<line x1="247.60" y1="454.22" x2="251.20" y2="454.22" stroke="#777" stroke-width="0.8"/>
<text x="244.6" y="457.22" font-size="8.5" text-anchor="end" fill="#383838">150</text>
<line x1="247.60" y1="437.36" x2="251.20" y2="437.36" stroke="#777" stroke-width="0.8"/>
<text x="244.6" y="440.36" font-size="8.5" text-anchor="end" fill="#383838">200</text>
<line x1="247.60" y1="420.50" x2="251.20" y2="420.50" stroke="#777" stroke-width="0.8"/>
<text x="244.6" y="423.5" font-size="8.5" text-anchor="end" fill="#383838">250</text>
<text x="222" y="463.5" font-size="9" text-anchor="middle" fill="#383838" transform="rotate(-90 222 463.5)">LTP magnitude (%)</text>
<rect x="257.00" y="433.31" width="11.30" height="71.49" fill="#1a1a1a" stroke="#333" stroke-width="0.6"/>
<line x1="262.65" y1="429.94" x2="262.65" y2="436.69" stroke="#333" stroke-width="0.9"/>
<line x1="260.05" y1="429.94" x2="265.25" y2="429.94" stroke="#333" stroke-width="0.9"/>
<line x1="260.05" y1="436.69" x2="265.25" y2="436.69" stroke="#333" stroke-width="0.9"/>
<circle cx="262.65" cy="427.92" r="1.3" fill="#fff" stroke="#333" stroke-width="0.65"/>
<circle cx="262.65" cy="434.66" r="1.3" fill="#fff" stroke="#333" stroke-width="0.65"/>
<circle cx="262.65" cy="437.70" r="1.3" fill="#fff" stroke="#333" stroke-width="0.65"/>
<rect x="274.10" y="453.21" width="11.30" height="51.59" fill="#FBB117" stroke="#333" stroke-width="0.6"/>
<line x1="279.75" y1="449.16" x2="279.75" y2="457.25" stroke="#333" stroke-width="0.9"/>
<line x1="277.15" y1="449.16" x2="282.35" y2="449.16" stroke="#333" stroke-width="0.9"/>
<line x1="277.15" y1="457.25" x2="282.35" y2="457.25" stroke="#333" stroke-width="0.9"/>
<circle cx="279.75" cy="443.09" r="1.3" fill="#fff" stroke="#333" stroke-width="0.65"/>
<circle cx="279.75" cy="450.85" r="1.3" fill="#fff" stroke="#333" stroke-width="0.65"/>
<circle cx="279.75" cy="454.89" r="1.3" fill="#fff" stroke="#333" stroke-width="0.65"/>
<circle cx="279.75" cy="464.34" r="1.3" fill="#fff" stroke="#333" stroke-width="0.65"/>
<rect x="291.30" y="437.36" width="11.20" height="67.44" fill="#E8212B" stroke="#333" stroke-width="0.6"/>
<line x1="296.90" y1="436.01" x2="296.90" y2="438.71" stroke="#333" stroke-width="0.9"/>
<line x1="294.30" y1="436.01" x2="299.50" y2="436.01" stroke="#333" stroke-width="0.9"/>
<line x1="294.30" y1="438.71" x2="299.50" y2="438.71" stroke="#333" stroke-width="0.9"/>
<circle cx="296.90" cy="435.00" r="1.3" fill="#fff" stroke="#333" stroke-width="0.65"/>
<circle cx="294.40" cy="437.70" r="1.3" fill="#fff" stroke="#333" stroke-width="0.65"/>
<circle cx="299.40" cy="438.03" r="1.3" fill="#fff" stroke="#333" stroke-width="0.65"/>
<text x="262.65" y="517.5" font-size="8.5" text-anchor="middle" fill="#383838">−</text>
<text x="262.65" y="530" font-size="8.5" text-anchor="middle" fill="#383838">+/+</text>
<text x="279.75" y="517.5" font-size="8.5" text-anchor="middle" fill="#383838">+</text>
<text x="279.75" y="530" font-size="8.5" text-anchor="middle" fill="#383838">+/+</text>
<text x="296.90000000000003" y="517.5" font-size="8.5" text-anchor="middle" fill="#383838">+</text>
<text x="296.90000000000003" y="530" font-size="8.5" text-anchor="middle" fill="#383838">−/−</text>
<text x="243.5" y="517.5" font-size="8.5" text-anchor="end" fill="#383838" font-style="italic">P301S</text>
<text x="243.5" y="530" font-size="8.5" text-anchor="end" fill="#383838" font-style="italic">Cgas</text>
<path d="M262.6,407.2 V403.5 H296.8 V412.8" fill="none" stroke="#444" stroke-width="0.9"/>
<path d="M262.6,421.5 V416.6 H278 V436" fill="none" stroke="#444" stroke-width="0.9"/>
<path d="M281.7,436 V420.4 H296.8 V432.5" fill="none" stroke="#444" stroke-width="0.9"/>
<text x="281" y="399.3" font-size="7" text-anchor="middle" fill="#383838">NS</text>
<text x="269.8" y="414.2" font-size="11.4" text-anchor="middle" fill="#333">*</text>
<text x="289.3" y="415.9" font-size="11.4" text-anchor="middle" fill="#333">*</text>
<text x="319.9" y="354.2" font-size="12.3" text-anchor="start" fill="#000" font-weight="bold">g</text>
<text x="378.5" y="355" font-size="8.5"><tspan fill="#E8212B">PSD-95</tspan><tspan fill="#3b4fb8"> DAPI</tspan></text>
<rect x="321.20" y="360.00" width="80.90" height="79.80" fill="#5c0a10"/>
<rect x="321.2" y="360" width="80.9" height="79.8" filter="url(#rn0)"/>
<text x="347.8" y="369.9" font-size="8.2" text-anchor="start" fill="#f2f2f2" font-style="italic">Cgas<tspan dy="-3" font-size="70%">+/+</tspan></text>
<rect x="405.30" y="360.00" width="80.80" height="79.80" fill="#5c0a10"/>
<rect x="405.3" y="360" width="80.8" height="79.8" filter="url(#rn1)"/>
<text x="416.3" y="369.9" font-size="8.2" text-anchor="start" fill="#f2f2f2" font-style="italic">P301S Cgas<tspan dy="-3" font-size="70%">+/+</tspan></text>
<rect x="321.20" y="442.30" width="80.90" height="79.70" fill="#5c0a10"/>
<rect x="321.2" y="442.3" width="80.9" height="79.7" filter="url(#rn2)"/>
<text x="349.8" y="452.4" font-size="8.2" text-anchor="start" fill="#f2f2f2" font-style="italic">Cgas<tspan dy="-3" font-size="70%">+/−</tspan></text>
<rect x="405.30" y="442.30" width="80.80" height="79.70" fill="#5c0a10"/>
<rect x="405.3" y="442.3" width="80.8" height="79.7" filter="url(#rn3)"/>
<text x="417.5" y="452.4" font-size="8.2" text-anchor="start" fill="#f2f2f2" font-style="italic">P301S Cgas<tspan dy="-3" font-size="70%">+/−</tspan></text>
<rect x="321.20" y="526.90" width="80.90" height="80.10" fill="#5c0a10"/>
<rect x="321.2" y="526.9" width="80.9" height="80.10000000000002" filter="url(#rn4)"/>
<text x="344.8" y="536.4" font-size="8.2" text-anchor="start" fill="#f2f2f2" font-style="italic">Cgas<tspan dy="-3" font-size="70%">−/−</tspan></text>
<rect x="405.30" y="526.90" width="80.80" height="78.90" fill="#5c0a10"/>
<rect x="405.3" y="526.9" width="80.8" height="78.89999999999998" filter="url(#rn5)"/>
<text x="418.8" y="536.4" font-size="8.2" text-anchor="start" fill="#f2f2f2" font-style="italic">P301S Cgas<tspan dy="-3" font-size="70%">−/−</tspan></text>
<rect x="490.00" y="526.90" width="81.60" height="78.90" fill="#1c0709"/>
<rect x="490" y="526.9" width="81.6" height="78.89999999999998" filter="url(#rn6)" opacity="0.07"/>
<path d="M528,546.9 C534,561.9 536,576.9 542,596.9" stroke="#5a0e18" stroke-width="6" fill="none" opacity="0.35" filter="url(#ab3)"/>
<ellipse cx="527" cy="538.9" rx="4" ry="3" fill="#3a2a88" opacity="0.6" filter="url(#ab2)"/>
<text x="529.7" y="537.2" font-size="9.1" text-anchor="middle" fill="#f2f2f2">No primary</text>
<ellipse cx="459.5" cy="415" rx="5" ry="7" fill="#4a35b8" opacity="0.5" filter="url(#ab2)"/>
<ellipse cx="357" cy="588" rx="3" ry="4" fill="#5a3fd0" opacity="0.5" filter="url(#ab2)"/>
<rect x="378.80" y="433.30" width="17.20" height="2.80" fill="#fff"/>
<text x="495.9" y="354.2" font-size="12.3" text-anchor="start" fill="#000" font-weight="bold">h</text>
<text x="613" y="355.5" font-size="8.85" text-anchor="middle" fill="#383838">PSD-95 immunoreactivity in CA1</text>
<line x1="541.60" y1="387.00" x2="541.60" y2="481.50" stroke="#ababab" stroke-width="1.1"/>
<line x1="541.00" y1="481.50" x2="685.00" y2="481.50" stroke="#777" stroke-width="0.9"/>
<line x1="537.60" y1="481.50" x2="541.20" y2="481.50" stroke="#777" stroke-width="0.8"/>
<text x="534.6" y="484.5" font-size="8.5" text-anchor="end" fill="#383838">0</text>
<line x1="537.60" y1="457.88" x2="541.20" y2="457.88" stroke="#777" stroke-width="0.8"/>
<text x="534.6" y="460.875" font-size="8.5" text-anchor="end" fill="#383838">0.5</text>
<line x1="537.60" y1="434.25" x2="541.20" y2="434.25" stroke="#777" stroke-width="0.8"/>
<text x="534.6" y="437.25" font-size="8.5" text-anchor="end" fill="#383838">1.0</text>
<line x1="537.60" y1="410.62" x2="541.20" y2="410.62" stroke="#777" stroke-width="0.8"/>
<text x="534.6" y="413.625" font-size="8.5" text-anchor="end" fill="#383838">1.5</text>
<line x1="537.60" y1="387.00" x2="541.20" y2="387.00" stroke="#777" stroke-width="0.8"/>
<text x="534.6" y="390.0" font-size="8.5" text-anchor="end" fill="#383838">2.0</text>
<text x="503.6" y="434" font-size="9" text-anchor="middle" fill="#383838" transform="rotate(-90 503.6 434)">PSD-95 immunoreactivity</text>
<text x="513.4" y="434" font-size="9" text-anchor="middle" fill="#383838" transform="rotate(-90 513.4 434)">(normalized to Ctrl)</text>
<rect x="548.80" y="434.25" width="15.00" height="47.25" fill="#1a1a1a" stroke="#1a1a1a" stroke-width="0.6"/>
<line x1="556.30" y1="429.52" x2="556.30" y2="438.98" stroke="#333" stroke-width="0.9"/>
<line x1="553.30" y1="429.52" x2="559.30" y2="429.52" stroke="#333" stroke-width="0.9"/>
<line x1="553.30" y1="438.98" x2="559.30" y2="438.98" stroke="#333" stroke-width="0.9"/>
<circle cx="553.30" cy="421.02" r="1.35" fill="#fff" stroke="#333" stroke-width="0.65"/>
<circle cx="558.80" cy="423.86" r="1.35" fill="#fff" stroke="#333" stroke-width="0.65"/>
<circle cx="553.30" cy="427.16" r="1.35" fill="#fff" stroke="#333" stroke-width="0.65"/>
<circle cx="558.80" cy="428.58" r="1.35" fill="#fff" stroke="#333" stroke-width="0.65"/>
<circle cx="556.30" cy="436.61" r="1.35" fill="#fff" stroke="#333" stroke-width="0.65"/>
<circle cx="556.30" cy="441.34" r="1.35" fill="#fff" stroke="#333" stroke-width="0.65"/>
<circle cx="556.30" cy="447.48" r="1.35" fill="#fff" stroke="#333" stroke-width="0.65"/>
<circle cx="556.30" cy="452.20" r="1.35" fill="#fff" stroke="#333" stroke-width="0.65"/>
<rect x="571.40" y="431.42" width="15.00" height="50.08" fill="#b6b7ba" stroke="#666" stroke-width="0.6"/>
<line x1="578.90" y1="426.22" x2="578.90" y2="436.61" stroke="#333" stroke-width="0.9"/>
<line x1="575.90" y1="426.22" x2="581.90" y2="426.22" stroke="#333" stroke-width="0.9"/>
<line x1="575.90" y1="436.61" x2="581.90" y2="436.61" stroke="#333" stroke-width="0.9"/>
<circle cx="578.90" cy="408.26" r="1.35" fill="#fff" stroke="#333" stroke-width="0.65"/>
<circle cx="578.90" cy="412.04" r="1.35" fill="#fff" stroke="#333" stroke-width="0.65"/>
<circle cx="578.90" cy="420.07" r="1.35" fill="#fff" stroke="#333" stroke-width="0.65"/>
<circle cx="575.40" cy="426.69" r="1.35" fill="#fff" stroke="#333" stroke-width="0.65"/>
<circle cx="578.90" cy="425.75" r="1.35" fill="#fff" stroke="#333" stroke-width="0.65"/>
<circle cx="582.40" cy="426.22" r="1.35" fill="#fff" stroke="#333" stroke-width="0.65"/>
<circle cx="578.90" cy="434.25" r="1.35" fill="#fff" stroke="#333" stroke-width="0.65"/>
<circle cx="578.90" cy="441.34" r="1.35" fill="#fff" stroke="#333" stroke-width="0.65"/>
<circle cx="578.90" cy="448.43" r="1.35" fill="#fff" stroke="#333" stroke-width="0.65"/>
<circle cx="578.90" cy="452.20" r="1.35" fill="#fff" stroke="#333" stroke-width="0.65"/>
<circle cx="578.90" cy="456.93" r="1.35" fill="#fff" stroke="#333" stroke-width="0.65"/>
<rect x="594.20" y="432.36" width="15.00" height="49.14" fill="#ececec" stroke="#777" stroke-width="0.6"/>
<line x1="601.70" y1="426.22" x2="601.70" y2="438.50" stroke="#333" stroke-width="0.9"/>
<line x1="598.70" y1="426.22" x2="604.70" y2="426.22" stroke="#333" stroke-width="0.9"/>
<line x1="598.70" y1="438.50" x2="604.70" y2="438.50" stroke="#333" stroke-width="0.9"/>
<circle cx="601.70" cy="406.85" r="1.35" fill="#fff" stroke="#333" stroke-width="0.65"/>
<circle cx="598.70" cy="412.51" r="1.35" fill="#fff" stroke="#333" stroke-width="0.65"/>
<circle cx="604.20" cy="411.57" r="1.35" fill="#fff" stroke="#333" stroke-width="0.65"/>
<circle cx="601.70" cy="420.07" r="1.35" fill="#fff" stroke="#333" stroke-width="0.65"/>
<circle cx="598.70" cy="427.16" r="1.35" fill="#fff" stroke="#333" stroke-width="0.65"/>
<circle cx="601.70" cy="436.61" r="1.35" fill="#fff" stroke="#333" stroke-width="0.65"/>
<circle cx="601.70" cy="441.34" r="1.35" fill="#fff" stroke="#333" stroke-width="0.65"/>
<circle cx="598.70" cy="447.48" r="1.35" fill="#fff" stroke="#333" stroke-width="0.65"/>
<circle cx="604.20" cy="449.37" r="1.35" fill="#fff" stroke="#333" stroke-width="0.65"/>
<circle cx="601.70" cy="464.02" r="1.35" fill="#fff" stroke="#333" stroke-width="0.65"/>
<rect x="616.80" y="457.88" width="15.00" height="23.62" fill="#E8212B" stroke="#333" stroke-width="0.6"/>
<line x1="624.30" y1="454.57" x2="624.30" y2="461.18" stroke="#333" stroke-width="0.9"/>
<line x1="621.30" y1="454.57" x2="627.30" y2="454.57" stroke="#333" stroke-width="0.9"/>
<line x1="621.30" y1="461.18" x2="627.30" y2="461.18" stroke="#333" stroke-width="0.9"/>
<circle cx="621.30" cy="446.06" r="1.35" fill="#fff" stroke="#333" stroke-width="0.65"/>
<circle cx="626.80" cy="445.59" r="1.35" fill="#fff" stroke="#333" stroke-width="0.65"/>
<circle cx="624.30" cy="449.37" r="1.35" fill="#fff" stroke="#333" stroke-width="0.65"/>
<circle cx="624.30" cy="455.51" r="1.35" fill="#fff" stroke="#333" stroke-width="0.65"/>
<circle cx="621.30" cy="459.29" r="1.35" fill="#fff" stroke="#333" stroke-width="0.65"/>
<circle cx="626.80" cy="459.29" r="1.35" fill="#fff" stroke="#333" stroke-width="0.65"/>
<circle cx="624.30" cy="463.55" r="1.35" fill="#fff" stroke="#333" stroke-width="0.65"/>
<circle cx="621.30" cy="473.00" r="1.35" fill="#fff" stroke="#333" stroke-width="0.65"/>
<circle cx="626.80" cy="473.00" r="1.35" fill="#fff" stroke="#333" stroke-width="0.65"/>
<rect x="639.30" y="448.90" width="15.00" height="32.60" fill="#F5821F" stroke="#333" stroke-width="0.6"/>
<line x1="646.80" y1="446.06" x2="646.80" y2="451.73" stroke="#333" stroke-width="0.9"/>
<line x1="643.80" y1="446.06" x2="649.80" y2="446.06" stroke="#333" stroke-width="0.9"/>
<line x1="643.80" y1="451.73" x2="649.80" y2="451.73" stroke="#333" stroke-width="0.9"/>
<circle cx="644.80" cy="435.19" r="1.35" fill="#fff" stroke="#333" stroke-width="0.65"/>
<circle cx="646.80" cy="438.98" r="1.35" fill="#fff" stroke="#333" stroke-width="0.65"/>
<circle cx="649.80" cy="437.56" r="1.35" fill="#fff" stroke="#333" stroke-width="0.65"/>
<circle cx="643.30" cy="448.43" r="1.35" fill="#fff" stroke="#333" stroke-width="0.65"/>
<circle cx="646.80" cy="449.37" r="1.35" fill="#fff" stroke="#333" stroke-width="0.65"/>
<circle cx="650.30" cy="448.43" r="1.35" fill="#fff" stroke="#333" stroke-width="0.65"/>
<circle cx="641.80" cy="450.31" r="1.35" fill="#fff" stroke="#333" stroke-width="0.65"/>
<circle cx="651.80" cy="450.31" r="1.35" fill="#fff" stroke="#333" stroke-width="0.65"/>
<circle cx="643.80" cy="457.88" r="1.35" fill="#fff" stroke="#333" stroke-width="0.65"/>
<circle cx="648.80" cy="456.93" r="1.35" fill="#fff" stroke="#333" stroke-width="0.65"/>
<circle cx="646.80" cy="461.65" r="1.35" fill="#fff" stroke="#333" stroke-width="0.65"/>
<circle cx="643.80" cy="464.49" r="1.35" fill="#fff" stroke="#333" stroke-width="0.65"/>
<rect x="662.10" y="424.80" width="15.00" height="56.70" fill="#FBB117" stroke="#333" stroke-width="0.6"/>
<line x1="669.60" y1="421.02" x2="669.60" y2="428.58" stroke="#333" stroke-width="0.9"/>
<line x1="666.60" y1="421.02" x2="672.60" y2="421.02" stroke="#333" stroke-width="0.9"/>
<line x1="666.60" y1="428.58" x2="672.60" y2="428.58" stroke="#333" stroke-width="0.9"/>
<circle cx="669.60" cy="411.57" r="1.35" fill="#fff" stroke="#333" stroke-width="0.65"/>
<circle cx="667.10" cy="414.40" r="1.35" fill="#fff" stroke="#333" stroke-width="0.65"/>
<circle cx="666.60" cy="417.71" r="1.35" fill="#fff" stroke="#333" stroke-width="0.65"/>
<circle cx="672.10" cy="416.30" r="1.35" fill="#fff" stroke="#333" stroke-width="0.65"/>
<circle cx="666.60" cy="422.44" r="1.35" fill="#fff" stroke="#333" stroke-width="0.65"/>
<circle cx="672.60" cy="423.86" r="1.35" fill="#fff" stroke="#333" stroke-width="0.65"/>
<circle cx="669.60" cy="431.89" r="1.35" fill="#fff" stroke="#333" stroke-width="0.65"/>
<circle cx="666.60" cy="442.75" r="1.35" fill="#fff" stroke="#333" stroke-width="0.65"/>
<circle cx="672.10" cy="442.75" r="1.35" fill="#fff" stroke="#333" stroke-width="0.65"/>
<text x="556.3" y="494.3" font-size="8.5" text-anchor="middle" fill="#383838">−</text>
<text x="556.3" y="507" font-size="8.5" text-anchor="middle" fill="#383838">+/+</text>
<text x="578.9" y="494.3" font-size="8.5" text-anchor="middle" fill="#383838">−</text>
<text x="578.9" y="507" font-size="8.5" text-anchor="middle" fill="#383838">+/−</text>
<text x="601.7" y="494.3" font-size="8.5" text-anchor="middle" fill="#383838">−</text>
<text x="601.7" y="507" font-size="8.5" text-anchor="middle" fill="#383838">−/−</text>
<text x="624.3" y="494.3" font-size="8.5" text-anchor="middle" fill="#383838">+</text>
<text x="624.3" y="507" font-size="8.5" text-anchor="middle" fill="#383838">+/+</text>
<text x="646.8" y="494.3" font-size="8.5" text-anchor="middle" fill="#383838">+</text>
<text x="646.8" y="507" font-size="8.5" text-anchor="middle" fill="#383838">+/−</text>
<text x="669.6" y="494.3" font-size="8.5" text-anchor="middle" fill="#383838">+</text>
<text x="669.6" y="507" font-size="8.5" text-anchor="middle" fill="#383838">−/−</text>
<text x="543" y="494.3" font-size="8.5" text-anchor="end" fill="#383838" font-style="italic">P301S</text>
<text x="543" y="507" font-size="8.5" text-anchor="end" fill="#383838" font-style="italic">Cgas</text>
<path d="M556.4,413.8 V395.1 H622.7 V439" fill="none" stroke="#444" stroke-width="0.9"/>
<path d="M624.4,389.7 V377.3 H669.5 V389.7" fill="none" stroke="#444" stroke-width="0.9"/>
<path d="M626,439 V395.1 H645.8 V428.4" fill="none" stroke="#444" stroke-width="0.9"/>
<path d="M648.3,428.4 V395.1 H669.5 V405.3" fill="none" stroke="#444" stroke-width="0.9"/>
<text x="590.8" y="396.7" font-size="11.4" text-anchor="middle" fill="#333">*</text>
<text x="649" y="377.59999999999997" font-size="11.4" text-anchor="middle" fill="#333">***</text>
<text x="660.5" y="396.7" font-size="11.4" text-anchor="middle" fill="#333">*</text>
<text x="635.6" y="391" font-size="7" text-anchor="middle" fill="#383838">NS</text>
</svg>
</body></html>
